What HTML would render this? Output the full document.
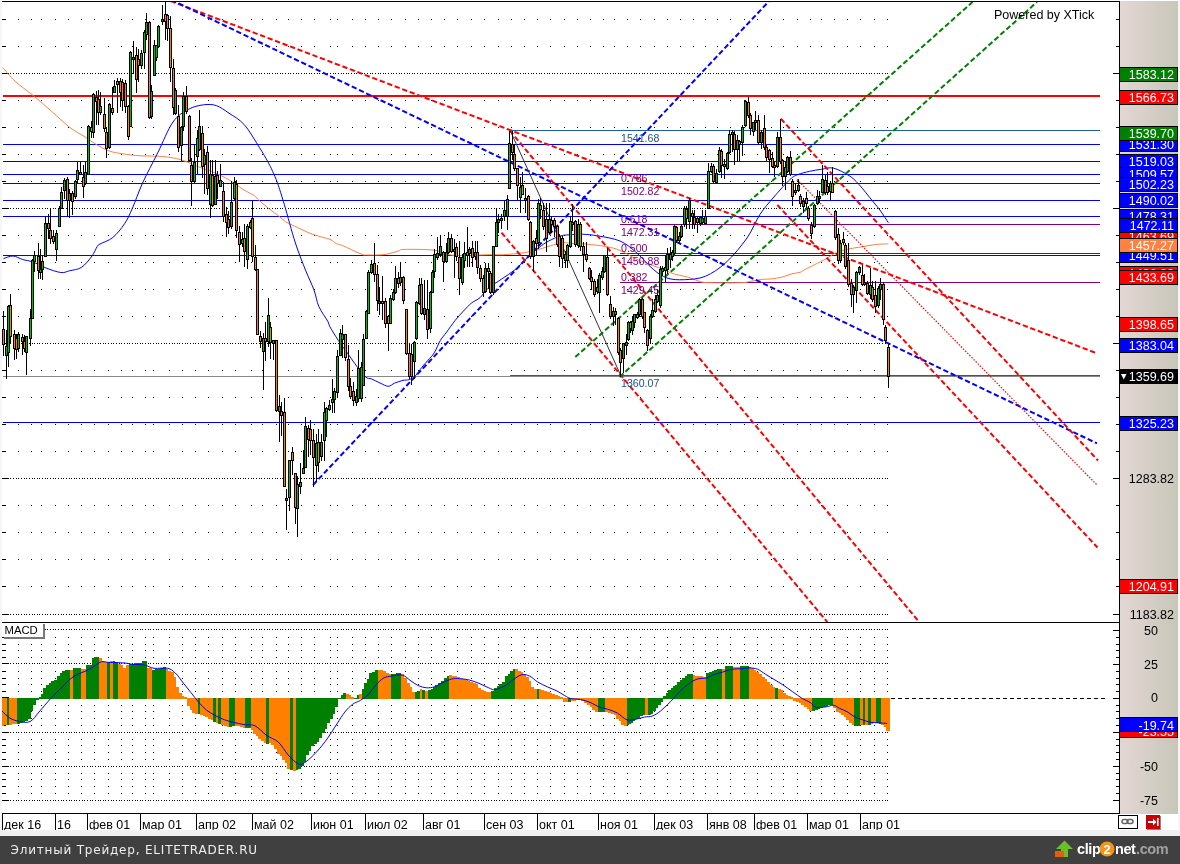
<!DOCTYPE html>
<html><head><meta charset="utf-8"><title>Chart</title>
<style>
html,body{margin:0;padding:0;background:#fff;}
body{width:1180px;height:864px;overflow:hidden;}
svg{display:block;}
text{font-family:"Liberation Sans","DejaVu Sans",sans-serif;}
</style></head><body>
<svg width="1180" height="864" viewBox="0 0 1180 864">
<defs><clipPath id="xclip"><rect x="0" y="814" width="1180" height="16"/></clipPath><clipPath id="mainclip"><rect x="2" y="2" width="1117" height="620"/></clipPath></defs>
<rect x="0" y="0" width="1180" height="864" fill="#ffffff"/>
<rect x="0" y="0" width="2" height="836" fill="#f6f6f6"/>
<rect x="1178" y="0" width="2" height="836" fill="#f6f6f6"/>
<rect x="0" y="830" width="1180" height="6" fill="#f0f0f0"/>
<rect x="0" y="836" width="1180" height="28" fill="#404040"/>
<defs><linearGradient id="pg" x1="0" x2="1" y1="0" y2="0"><stop offset="0" stop-color="#e3d7d4"/><stop offset="1" stop-color="#c8c6b9"/></linearGradient><linearGradient id="sh" x1="0" x2="0" y1="0" y2="1"><stop offset="0" stop-color="#555"/><stop offset="1" stop-color="#bbb"/></linearGradient></defs>
<rect x="1120" y="1" width="58" height="813" fill="url(#pg)"/>
<path d="M10 73h1v1h-1z M13 73h1v1h-1z M16 73h1v1h-1z M18 73h1v1h-1z M21 73h1v1h-1z M24 73h1v1h-1z M26 73h1v1h-1z M29 73h1v1h-1z M32 73h1v1h-1z M34 73h1v1h-1z M37 73h1v1h-1z M39 73h1v1h-1z M42 73h1v1h-1z M45 73h1v1h-1z M47 73h1v1h-1z M50 73h1v1h-1z M53 73h1v1h-1z M55 73h1v1h-1z M58 73h1v1h-1z M61 73h1v1h-1z M63 73h1v1h-1z M66 73h1v1h-1z M69 73h1v1h-1z M71 73h1v1h-1z M74 73h1v1h-1z M76 73h1v1h-1z M79 73h1v1h-1z M82 73h1v1h-1z M84 73h1v1h-1z M87 73h1v1h-1z M90 73h1v1h-1z M92 73h1v1h-1z M95 73h1v1h-1z M98 73h1v1h-1z M100 73h1v1h-1z M103 73h1v1h-1z M105 73h1v1h-1z M108 73h1v1h-1z M111 73h1v1h-1z M113 73h1v1h-1z M116 73h1v1h-1z M119 73h1v1h-1z M121 73h1v1h-1z M124 73h1v1h-1z M127 73h1v1h-1z M129 73h1v1h-1z M132 73h1v1h-1z M135 73h1v1h-1z M137 73h1v1h-1z M140 73h1v1h-1z M142 73h1v1h-1z M145 73h1v1h-1z M148 73h1v1h-1z M150 73h1v1h-1z M153 73h1v1h-1z M156 73h1v1h-1z M158 73h1v1h-1z M161 73h1v1h-1z M164 73h1v1h-1z M166 73h1v1h-1z M169 73h1v1h-1z M172 73h1v1h-1z M174 73h1v1h-1z M177 73h1v1h-1z M179 73h1v1h-1z M182 73h1v1h-1z M185 73h1v1h-1z M187 73h1v1h-1z M190 73h1v1h-1z M193 73h1v1h-1z M195 73h1v1h-1z M198 73h1v1h-1z M201 73h1v1h-1z M203 73h1v1h-1z M206 73h1v1h-1z M208 73h1v1h-1z M211 73h1v1h-1z M214 73h1v1h-1z M216 73h1v1h-1z M219 73h1v1h-1z M222 73h1v1h-1z M224 73h1v1h-1z M227 73h1v1h-1z M230 73h1v1h-1z M232 73h1v1h-1z M235 73h1v1h-1z M238 73h1v1h-1z M240 73h1v1h-1z M243 73h1v1h-1z M245 73h1v1h-1z M248 73h1v1h-1z M251 73h1v1h-1z M253 73h1v1h-1z M256 73h1v1h-1z M259 73h1v1h-1z M261 73h1v1h-1z M264 73h1v1h-1z M267 73h1v1h-1z M269 73h1v1h-1z M272 73h1v1h-1z M275 73h1v1h-1z M277 73h1v1h-1z M280 73h1v1h-1z M282 73h1v1h-1z M285 73h1v1h-1z M288 73h1v1h-1z M290 73h1v1h-1z M293 73h1v1h-1z M296 73h1v1h-1z M298 73h1v1h-1z M301 73h1v1h-1z M304 73h1v1h-1z M306 73h1v1h-1z M309 73h1v1h-1z M311 73h1v1h-1z M314 73h1v1h-1z M317 73h1v1h-1z M319 73h1v1h-1z M322 73h1v1h-1z M325 73h1v1h-1z M327 73h1v1h-1z M330 73h1v1h-1z M333 73h1v1h-1z M335 73h1v1h-1z M338 73h1v1h-1z M341 73h1v1h-1z M343 73h1v1h-1z M346 73h1v1h-1z M348 73h1v1h-1z M351 73h1v1h-1z M354 73h1v1h-1z M356 73h1v1h-1z M359 73h1v1h-1z M362 73h1v1h-1z M364 73h1v1h-1z M367 73h1v1h-1z M370 73h1v1h-1z M372 73h1v1h-1z M375 73h1v1h-1z M378 73h1v1h-1z M380 73h1v1h-1z M383 73h1v1h-1z M385 73h1v1h-1z M388 73h1v1h-1z M391 73h1v1h-1z M393 73h1v1h-1z M396 73h1v1h-1z M399 73h1v1h-1z M401 73h1v1h-1z M404 73h1v1h-1z M407 73h1v1h-1z M409 73h1v1h-1z M412 73h1v1h-1z M414 73h1v1h-1z M417 73h1v1h-1z M420 73h1v1h-1z M422 73h1v1h-1z M425 73h1v1h-1z M428 73h1v1h-1z M430 73h1v1h-1z M433 73h1v1h-1z M436 73h1v1h-1z M438 73h1v1h-1z M441 73h1v1h-1z M444 73h1v1h-1z M446 73h1v1h-1z M449 73h1v1h-1z M451 73h1v1h-1z M454 73h1v1h-1z M457 73h1v1h-1z M459 73h1v1h-1z M462 73h1v1h-1z M465 73h1v1h-1z M467 73h1v1h-1z M470 73h1v1h-1z M473 73h1v1h-1z M475 73h1v1h-1z M478 73h1v1h-1z M481 73h1v1h-1z M483 73h1v1h-1z M486 73h1v1h-1z M488 73h1v1h-1z M491 73h1v1h-1z M494 73h1v1h-1z M496 73h1v1h-1z M499 73h1v1h-1z M502 73h1v1h-1z M504 73h1v1h-1z M507 73h1v1h-1z M510 73h1v1h-1z M512 73h1v1h-1z M515 73h1v1h-1z M517 73h1v1h-1z M520 73h1v1h-1z M523 73h1v1h-1z M525 73h1v1h-1z M528 73h1v1h-1z M531 73h1v1h-1z M533 73h1v1h-1z M536 73h1v1h-1z M539 73h1v1h-1z M541 73h1v1h-1z M544 73h1v1h-1z M547 73h1v1h-1z M549 73h1v1h-1z M552 73h1v1h-1z M554 73h1v1h-1z M557 73h1v1h-1z M560 73h1v1h-1z M562 73h1v1h-1z M565 73h1v1h-1z M568 73h1v1h-1z M570 73h1v1h-1z M573 73h1v1h-1z M576 73h1v1h-1z M578 73h1v1h-1z M581 73h1v1h-1z M584 73h1v1h-1z M586 73h1v1h-1z M589 73h1v1h-1z M591 73h1v1h-1z M594 73h1v1h-1z M597 73h1v1h-1z M599 73h1v1h-1z M602 73h1v1h-1z M605 73h1v1h-1z M607 73h1v1h-1z M610 73h1v1h-1z M613 73h1v1h-1z M615 73h1v1h-1z M618 73h1v1h-1z M620 73h1v1h-1z M623 73h1v1h-1z M626 73h1v1h-1z M628 73h1v1h-1z M631 73h1v1h-1z M634 73h1v1h-1z M636 73h1v1h-1z M639 73h1v1h-1z M642 73h1v1h-1z M644 73h1v1h-1z M647 73h1v1h-1z M650 73h1v1h-1z M652 73h1v1h-1z M655 73h1v1h-1z M657 73h1v1h-1z M660 73h1v1h-1z M663 73h1v1h-1z M665 73h1v1h-1z M668 73h1v1h-1z M671 73h1v1h-1z M673 73h1v1h-1z M676 73h1v1h-1z M679 73h1v1h-1z M681 73h1v1h-1z M684 73h1v1h-1z M687 73h1v1h-1z M689 73h1v1h-1z M692 73h1v1h-1z M694 73h1v1h-1z M697 73h1v1h-1z M700 73h1v1h-1z M702 73h1v1h-1z M705 73h1v1h-1z M708 73h1v1h-1z M710 73h1v1h-1z M713 73h1v1h-1z M716 73h1v1h-1z M718 73h1v1h-1z M721 73h1v1h-1z M723 73h1v1h-1z M726 73h1v1h-1z M729 73h1v1h-1z M731 73h1v1h-1z M734 73h1v1h-1z M737 73h1v1h-1z M739 73h1v1h-1z M742 73h1v1h-1z M745 73h1v1h-1z M747 73h1v1h-1z M750 73h1v1h-1z M753 73h1v1h-1z M755 73h1v1h-1z M758 73h1v1h-1z M760 73h1v1h-1z M763 73h1v1h-1z M766 73h1v1h-1z M768 73h1v1h-1z M771 73h1v1h-1z M774 73h1v1h-1z M776 73h1v1h-1z M779 73h1v1h-1z M782 73h1v1h-1z M784 73h1v1h-1z M787 73h1v1h-1z M790 73h1v1h-1z M792 73h1v1h-1z M795 73h1v1h-1z M797 73h1v1h-1z M800 73h1v1h-1z M803 73h1v1h-1z M805 73h1v1h-1z M808 73h1v1h-1z M811 73h1v1h-1z M813 73h1v1h-1z M816 73h1v1h-1z M819 73h1v1h-1z M821 73h1v1h-1z M824 73h1v1h-1z M826 73h1v1h-1z M829 73h1v1h-1z M832 73h1v1h-1z M834 73h1v1h-1z M837 73h1v1h-1z M840 73h1v1h-1z M842 73h1v1h-1z M845 73h1v1h-1z M848 73h1v1h-1z M850 73h1v1h-1z M853 73h1v1h-1z M856 73h1v1h-1z M858 73h1v1h-1z M861 73h1v1h-1z M863 73h1v1h-1z M866 73h1v1h-1z M869 73h1v1h-1z M871 73h1v1h-1z M874 73h1v1h-1z M877 73h1v1h-1z M879 73h1v1h-1z M882 73h1v1h-1z M885 73h1v1h-1z M887 73h1v1h-1z M10 208h1v1h-1z M13 208h1v1h-1z M16 208h1v1h-1z M18 208h1v1h-1z M21 208h1v1h-1z M24 208h1v1h-1z M26 208h1v1h-1z M29 208h1v1h-1z M32 208h1v1h-1z M34 208h1v1h-1z M37 208h1v1h-1z M39 208h1v1h-1z M42 208h1v1h-1z M45 208h1v1h-1z M47 208h1v1h-1z M50 208h1v1h-1z M53 208h1v1h-1z M55 208h1v1h-1z M58 208h1v1h-1z M61 208h1v1h-1z M63 208h1v1h-1z M66 208h1v1h-1z M69 208h1v1h-1z M71 208h1v1h-1z M74 208h1v1h-1z M76 208h1v1h-1z M79 208h1v1h-1z M82 208h1v1h-1z M84 208h1v1h-1z M87 208h1v1h-1z M90 208h1v1h-1z M92 208h1v1h-1z M95 208h1v1h-1z M98 208h1v1h-1z M100 208h1v1h-1z M103 208h1v1h-1z M105 208h1v1h-1z M108 208h1v1h-1z M111 208h1v1h-1z M113 208h1v1h-1z M116 208h1v1h-1z M119 208h1v1h-1z M121 208h1v1h-1z M124 208h1v1h-1z M127 208h1v1h-1z M129 208h1v1h-1z M132 208h1v1h-1z M135 208h1v1h-1z M137 208h1v1h-1z M140 208h1v1h-1z M142 208h1v1h-1z M145 208h1v1h-1z M148 208h1v1h-1z M150 208h1v1h-1z M153 208h1v1h-1z M156 208h1v1h-1z M158 208h1v1h-1z M161 208h1v1h-1z M164 208h1v1h-1z M166 208h1v1h-1z M169 208h1v1h-1z M172 208h1v1h-1z M174 208h1v1h-1z M177 208h1v1h-1z M179 208h1v1h-1z M182 208h1v1h-1z M185 208h1v1h-1z M187 208h1v1h-1z M190 208h1v1h-1z M193 208h1v1h-1z M195 208h1v1h-1z M198 208h1v1h-1z M201 208h1v1h-1z M203 208h1v1h-1z M206 208h1v1h-1z M208 208h1v1h-1z M211 208h1v1h-1z M214 208h1v1h-1z M216 208h1v1h-1z M219 208h1v1h-1z M222 208h1v1h-1z M224 208h1v1h-1z M227 208h1v1h-1z M230 208h1v1h-1z M232 208h1v1h-1z M235 208h1v1h-1z M238 208h1v1h-1z M240 208h1v1h-1z M243 208h1v1h-1z M245 208h1v1h-1z M248 208h1v1h-1z M251 208h1v1h-1z M253 208h1v1h-1z M256 208h1v1h-1z M259 208h1v1h-1z M261 208h1v1h-1z M264 208h1v1h-1z M267 208h1v1h-1z M269 208h1v1h-1z M272 208h1v1h-1z M275 208h1v1h-1z M277 208h1v1h-1z M280 208h1v1h-1z M282 208h1v1h-1z M285 208h1v1h-1z M288 208h1v1h-1z M290 208h1v1h-1z M293 208h1v1h-1z M296 208h1v1h-1z M298 208h1v1h-1z M301 208h1v1h-1z M304 208h1v1h-1z M306 208h1v1h-1z M309 208h1v1h-1z M311 208h1v1h-1z M314 208h1v1h-1z M317 208h1v1h-1z M319 208h1v1h-1z M322 208h1v1h-1z M325 208h1v1h-1z M327 208h1v1h-1z M330 208h1v1h-1z M333 208h1v1h-1z M335 208h1v1h-1z M338 208h1v1h-1z M341 208h1v1h-1z M343 208h1v1h-1z M346 208h1v1h-1z M348 208h1v1h-1z M351 208h1v1h-1z M354 208h1v1h-1z M356 208h1v1h-1z M359 208h1v1h-1z M362 208h1v1h-1z M364 208h1v1h-1z M367 208h1v1h-1z M370 208h1v1h-1z M372 208h1v1h-1z M375 208h1v1h-1z M378 208h1v1h-1z M380 208h1v1h-1z M383 208h1v1h-1z M385 208h1v1h-1z M388 208h1v1h-1z M391 208h1v1h-1z M393 208h1v1h-1z M396 208h1v1h-1z M399 208h1v1h-1z M401 208h1v1h-1z M404 208h1v1h-1z M407 208h1v1h-1z M409 208h1v1h-1z M412 208h1v1h-1z M414 208h1v1h-1z M417 208h1v1h-1z M420 208h1v1h-1z M422 208h1v1h-1z M425 208h1v1h-1z M428 208h1v1h-1z M430 208h1v1h-1z M433 208h1v1h-1z M436 208h1v1h-1z M438 208h1v1h-1z M441 208h1v1h-1z M444 208h1v1h-1z M446 208h1v1h-1z M449 208h1v1h-1z M451 208h1v1h-1z M454 208h1v1h-1z M457 208h1v1h-1z M459 208h1v1h-1z M462 208h1v1h-1z M465 208h1v1h-1z M467 208h1v1h-1z M470 208h1v1h-1z M473 208h1v1h-1z M475 208h1v1h-1z M478 208h1v1h-1z M481 208h1v1h-1z M483 208h1v1h-1z M486 208h1v1h-1z M488 208h1v1h-1z M491 208h1v1h-1z M494 208h1v1h-1z M496 208h1v1h-1z M499 208h1v1h-1z M502 208h1v1h-1z M504 208h1v1h-1z M507 208h1v1h-1z M510 208h1v1h-1z M512 208h1v1h-1z M515 208h1v1h-1z M517 208h1v1h-1z M520 208h1v1h-1z M523 208h1v1h-1z M525 208h1v1h-1z M528 208h1v1h-1z M531 208h1v1h-1z M533 208h1v1h-1z M536 208h1v1h-1z M539 208h1v1h-1z M541 208h1v1h-1z M544 208h1v1h-1z M547 208h1v1h-1z M549 208h1v1h-1z M552 208h1v1h-1z M554 208h1v1h-1z M557 208h1v1h-1z M560 208h1v1h-1z M562 208h1v1h-1z M565 208h1v1h-1z M568 208h1v1h-1z M570 208h1v1h-1z M573 208h1v1h-1z M576 208h1v1h-1z M578 208h1v1h-1z M581 208h1v1h-1z M584 208h1v1h-1z M586 208h1v1h-1z M589 208h1v1h-1z M591 208h1v1h-1z M594 208h1v1h-1z M597 208h1v1h-1z M599 208h1v1h-1z M602 208h1v1h-1z M605 208h1v1h-1z M607 208h1v1h-1z M610 208h1v1h-1z M613 208h1v1h-1z M615 208h1v1h-1z M618 208h1v1h-1z M620 208h1v1h-1z M623 208h1v1h-1z M626 208h1v1h-1z M628 208h1v1h-1z M631 208h1v1h-1z M634 208h1v1h-1z M636 208h1v1h-1z M639 208h1v1h-1z M642 208h1v1h-1z M644 208h1v1h-1z M647 208h1v1h-1z M650 208h1v1h-1z M652 208h1v1h-1z M655 208h1v1h-1z M657 208h1v1h-1z M660 208h1v1h-1z M663 208h1v1h-1z M665 208h1v1h-1z M668 208h1v1h-1z M671 208h1v1h-1z M673 208h1v1h-1z M676 208h1v1h-1z M679 208h1v1h-1z M681 208h1v1h-1z M684 208h1v1h-1z M687 208h1v1h-1z M689 208h1v1h-1z M692 208h1v1h-1z M694 208h1v1h-1z M697 208h1v1h-1z M700 208h1v1h-1z M702 208h1v1h-1z M705 208h1v1h-1z M708 208h1v1h-1z M710 208h1v1h-1z M713 208h1v1h-1z M716 208h1v1h-1z M718 208h1v1h-1z M721 208h1v1h-1z M723 208h1v1h-1z M726 208h1v1h-1z M729 208h1v1h-1z M731 208h1v1h-1z M734 208h1v1h-1z M737 208h1v1h-1z M739 208h1v1h-1z M742 208h1v1h-1z M745 208h1v1h-1z M747 208h1v1h-1z M750 208h1v1h-1z M753 208h1v1h-1z M755 208h1v1h-1z M758 208h1v1h-1z M760 208h1v1h-1z M763 208h1v1h-1z M766 208h1v1h-1z M768 208h1v1h-1z M771 208h1v1h-1z M774 208h1v1h-1z M776 208h1v1h-1z M779 208h1v1h-1z M782 208h1v1h-1z M784 208h1v1h-1z M787 208h1v1h-1z M790 208h1v1h-1z M792 208h1v1h-1z M795 208h1v1h-1z M797 208h1v1h-1z M800 208h1v1h-1z M803 208h1v1h-1z M805 208h1v1h-1z M808 208h1v1h-1z M811 208h1v1h-1z M813 208h1v1h-1z M816 208h1v1h-1z M819 208h1v1h-1z M821 208h1v1h-1z M824 208h1v1h-1z M826 208h1v1h-1z M829 208h1v1h-1z M832 208h1v1h-1z M834 208h1v1h-1z M837 208h1v1h-1z M840 208h1v1h-1z M842 208h1v1h-1z M845 208h1v1h-1z M848 208h1v1h-1z M850 208h1v1h-1z M853 208h1v1h-1z M856 208h1v1h-1z M858 208h1v1h-1z M861 208h1v1h-1z M863 208h1v1h-1z M866 208h1v1h-1z M869 208h1v1h-1z M871 208h1v1h-1z M874 208h1v1h-1z M877 208h1v1h-1z M879 208h1v1h-1z M882 208h1v1h-1z M885 208h1v1h-1z M887 208h1v1h-1z M10 343h1v1h-1z M13 343h1v1h-1z M16 343h1v1h-1z M18 343h1v1h-1z M21 343h1v1h-1z M24 343h1v1h-1z M26 343h1v1h-1z M29 343h1v1h-1z M32 343h1v1h-1z M34 343h1v1h-1z M37 343h1v1h-1z M39 343h1v1h-1z M42 343h1v1h-1z M45 343h1v1h-1z M47 343h1v1h-1z M50 343h1v1h-1z M53 343h1v1h-1z M55 343h1v1h-1z M58 343h1v1h-1z M61 343h1v1h-1z M63 343h1v1h-1z M66 343h1v1h-1z M69 343h1v1h-1z M71 343h1v1h-1z M74 343h1v1h-1z M76 343h1v1h-1z M79 343h1v1h-1z M82 343h1v1h-1z M84 343h1v1h-1z M87 343h1v1h-1z M90 343h1v1h-1z M92 343h1v1h-1z M95 343h1v1h-1z M98 343h1v1h-1z M100 343h1v1h-1z M103 343h1v1h-1z M105 343h1v1h-1z M108 343h1v1h-1z M111 343h1v1h-1z M113 343h1v1h-1z M116 343h1v1h-1z M119 343h1v1h-1z M121 343h1v1h-1z M124 343h1v1h-1z M127 343h1v1h-1z M129 343h1v1h-1z M132 343h1v1h-1z M135 343h1v1h-1z M137 343h1v1h-1z M140 343h1v1h-1z M142 343h1v1h-1z M145 343h1v1h-1z M148 343h1v1h-1z M150 343h1v1h-1z M153 343h1v1h-1z M156 343h1v1h-1z M158 343h1v1h-1z M161 343h1v1h-1z M164 343h1v1h-1z M166 343h1v1h-1z M169 343h1v1h-1z M172 343h1v1h-1z M174 343h1v1h-1z M177 343h1v1h-1z M179 343h1v1h-1z M182 343h1v1h-1z M185 343h1v1h-1z M187 343h1v1h-1z M190 343h1v1h-1z M193 343h1v1h-1z M195 343h1v1h-1z M198 343h1v1h-1z M201 343h1v1h-1z M203 343h1v1h-1z M206 343h1v1h-1z M208 343h1v1h-1z M211 343h1v1h-1z M214 343h1v1h-1z M216 343h1v1h-1z M219 343h1v1h-1z M222 343h1v1h-1z M224 343h1v1h-1z M227 343h1v1h-1z M230 343h1v1h-1z M232 343h1v1h-1z M235 343h1v1h-1z M238 343h1v1h-1z M240 343h1v1h-1z M243 343h1v1h-1z M245 343h1v1h-1z M248 343h1v1h-1z M251 343h1v1h-1z M253 343h1v1h-1z M256 343h1v1h-1z M259 343h1v1h-1z M261 343h1v1h-1z M264 343h1v1h-1z M267 343h1v1h-1z M269 343h1v1h-1z M272 343h1v1h-1z M275 343h1v1h-1z M277 343h1v1h-1z M280 343h1v1h-1z M282 343h1v1h-1z M285 343h1v1h-1z M288 343h1v1h-1z M290 343h1v1h-1z M293 343h1v1h-1z M296 343h1v1h-1z M298 343h1v1h-1z M301 343h1v1h-1z M304 343h1v1h-1z M306 343h1v1h-1z M309 343h1v1h-1z M311 343h1v1h-1z M314 343h1v1h-1z M317 343h1v1h-1z M319 343h1v1h-1z M322 343h1v1h-1z M325 343h1v1h-1z M327 343h1v1h-1z M330 343h1v1h-1z M333 343h1v1h-1z M335 343h1v1h-1z M338 343h1v1h-1z M341 343h1v1h-1z M343 343h1v1h-1z M346 343h1v1h-1z M348 343h1v1h-1z M351 343h1v1h-1z M354 343h1v1h-1z M356 343h1v1h-1z M359 343h1v1h-1z M362 343h1v1h-1z M364 343h1v1h-1z M367 343h1v1h-1z M370 343h1v1h-1z M372 343h1v1h-1z M375 343h1v1h-1z M378 343h1v1h-1z M380 343h1v1h-1z M383 343h1v1h-1z M385 343h1v1h-1z M388 343h1v1h-1z M391 343h1v1h-1z M393 343h1v1h-1z M396 343h1v1h-1z M399 343h1v1h-1z M401 343h1v1h-1z M404 343h1v1h-1z M407 343h1v1h-1z M409 343h1v1h-1z M412 343h1v1h-1z M414 343h1v1h-1z M417 343h1v1h-1z M420 343h1v1h-1z M422 343h1v1h-1z M425 343h1v1h-1z M428 343h1v1h-1z M430 343h1v1h-1z M433 343h1v1h-1z M436 343h1v1h-1z M438 343h1v1h-1z M441 343h1v1h-1z M444 343h1v1h-1z M446 343h1v1h-1z M449 343h1v1h-1z M451 343h1v1h-1z M454 343h1v1h-1z M457 343h1v1h-1z M459 343h1v1h-1z M462 343h1v1h-1z M465 343h1v1h-1z M467 343h1v1h-1z M470 343h1v1h-1z M473 343h1v1h-1z M475 343h1v1h-1z M478 343h1v1h-1z M481 343h1v1h-1z M483 343h1v1h-1z M486 343h1v1h-1z M488 343h1v1h-1z M491 343h1v1h-1z M494 343h1v1h-1z M496 343h1v1h-1z M499 343h1v1h-1z M502 343h1v1h-1z M504 343h1v1h-1z M507 343h1v1h-1z M510 343h1v1h-1z M512 343h1v1h-1z M515 343h1v1h-1z M517 343h1v1h-1z M520 343h1v1h-1z M523 343h1v1h-1z M525 343h1v1h-1z M528 343h1v1h-1z M531 343h1v1h-1z M533 343h1v1h-1z M536 343h1v1h-1z M539 343h1v1h-1z M541 343h1v1h-1z M544 343h1v1h-1z M547 343h1v1h-1z M549 343h1v1h-1z M552 343h1v1h-1z M554 343h1v1h-1z M557 343h1v1h-1z M560 343h1v1h-1z M562 343h1v1h-1z M565 343h1v1h-1z M568 343h1v1h-1z M570 343h1v1h-1z M573 343h1v1h-1z M576 343h1v1h-1z M578 343h1v1h-1z M581 343h1v1h-1z M584 343h1v1h-1z M586 343h1v1h-1z M589 343h1v1h-1z M591 343h1v1h-1z M594 343h1v1h-1z M597 343h1v1h-1z M599 343h1v1h-1z M602 343h1v1h-1z M605 343h1v1h-1z M607 343h1v1h-1z M610 343h1v1h-1z M613 343h1v1h-1z M615 343h1v1h-1z M618 343h1v1h-1z M620 343h1v1h-1z M623 343h1v1h-1z M626 343h1v1h-1z M628 343h1v1h-1z M631 343h1v1h-1z M634 343h1v1h-1z M636 343h1v1h-1z M639 343h1v1h-1z M642 343h1v1h-1z M644 343h1v1h-1z M647 343h1v1h-1z M650 343h1v1h-1z M652 343h1v1h-1z M655 343h1v1h-1z M657 343h1v1h-1z M660 343h1v1h-1z M663 343h1v1h-1z M665 343h1v1h-1z M668 343h1v1h-1z M671 343h1v1h-1z M673 343h1v1h-1z M676 343h1v1h-1z M679 343h1v1h-1z M681 343h1v1h-1z M684 343h1v1h-1z M687 343h1v1h-1z M689 343h1v1h-1z M692 343h1v1h-1z M694 343h1v1h-1z M697 343h1v1h-1z M700 343h1v1h-1z M702 343h1v1h-1z M705 343h1v1h-1z M708 343h1v1h-1z M710 343h1v1h-1z M713 343h1v1h-1z M716 343h1v1h-1z M718 343h1v1h-1z M721 343h1v1h-1z M723 343h1v1h-1z M726 343h1v1h-1z M729 343h1v1h-1z M731 343h1v1h-1z M734 343h1v1h-1z M737 343h1v1h-1z M739 343h1v1h-1z M742 343h1v1h-1z M745 343h1v1h-1z M747 343h1v1h-1z M750 343h1v1h-1z M753 343h1v1h-1z M755 343h1v1h-1z M758 343h1v1h-1z M760 343h1v1h-1z M763 343h1v1h-1z M766 343h1v1h-1z M768 343h1v1h-1z M771 343h1v1h-1z M774 343h1v1h-1z M776 343h1v1h-1z M779 343h1v1h-1z M782 343h1v1h-1z M784 343h1v1h-1z M787 343h1v1h-1z M790 343h1v1h-1z M792 343h1v1h-1z M795 343h1v1h-1z M797 343h1v1h-1z M800 343h1v1h-1z M803 343h1v1h-1z M805 343h1v1h-1z M808 343h1v1h-1z M811 343h1v1h-1z M813 343h1v1h-1z M816 343h1v1h-1z M819 343h1v1h-1z M821 343h1v1h-1z M824 343h1v1h-1z M826 343h1v1h-1z M829 343h1v1h-1z M832 343h1v1h-1z M834 343h1v1h-1z M837 343h1v1h-1z M840 343h1v1h-1z M842 343h1v1h-1z M845 343h1v1h-1z M848 343h1v1h-1z M850 343h1v1h-1z M853 343h1v1h-1z M856 343h1v1h-1z M858 343h1v1h-1z M861 343h1v1h-1z M863 343h1v1h-1z M866 343h1v1h-1z M869 343h1v1h-1z M871 343h1v1h-1z M874 343h1v1h-1z M877 343h1v1h-1z M879 343h1v1h-1z M882 343h1v1h-1z M885 343h1v1h-1z M887 343h1v1h-1z M10 478h1v1h-1z M13 478h1v1h-1z M16 478h1v1h-1z M18 478h1v1h-1z M21 478h1v1h-1z M24 478h1v1h-1z M26 478h1v1h-1z M29 478h1v1h-1z M32 478h1v1h-1z M34 478h1v1h-1z M37 478h1v1h-1z M39 478h1v1h-1z M42 478h1v1h-1z M45 478h1v1h-1z M47 478h1v1h-1z M50 478h1v1h-1z M53 478h1v1h-1z M55 478h1v1h-1z M58 478h1v1h-1z M61 478h1v1h-1z M63 478h1v1h-1z M66 478h1v1h-1z M69 478h1v1h-1z M71 478h1v1h-1z M74 478h1v1h-1z M76 478h1v1h-1z M79 478h1v1h-1z M82 478h1v1h-1z M84 478h1v1h-1z M87 478h1v1h-1z M90 478h1v1h-1z M92 478h1v1h-1z M95 478h1v1h-1z M98 478h1v1h-1z M100 478h1v1h-1z M103 478h1v1h-1z M105 478h1v1h-1z M108 478h1v1h-1z M111 478h1v1h-1z M113 478h1v1h-1z M116 478h1v1h-1z M119 478h1v1h-1z M121 478h1v1h-1z M124 478h1v1h-1z M127 478h1v1h-1z M129 478h1v1h-1z M132 478h1v1h-1z M135 478h1v1h-1z M137 478h1v1h-1z M140 478h1v1h-1z M142 478h1v1h-1z M145 478h1v1h-1z M148 478h1v1h-1z M150 478h1v1h-1z M153 478h1v1h-1z M156 478h1v1h-1z M158 478h1v1h-1z M161 478h1v1h-1z M164 478h1v1h-1z M166 478h1v1h-1z M169 478h1v1h-1z M172 478h1v1h-1z M174 478h1v1h-1z M177 478h1v1h-1z M179 478h1v1h-1z M182 478h1v1h-1z M185 478h1v1h-1z M187 478h1v1h-1z M190 478h1v1h-1z M193 478h1v1h-1z M195 478h1v1h-1z M198 478h1v1h-1z M201 478h1v1h-1z M203 478h1v1h-1z M206 478h1v1h-1z M208 478h1v1h-1z M211 478h1v1h-1z M214 478h1v1h-1z M216 478h1v1h-1z M219 478h1v1h-1z M222 478h1v1h-1z M224 478h1v1h-1z M227 478h1v1h-1z M230 478h1v1h-1z M232 478h1v1h-1z M235 478h1v1h-1z M238 478h1v1h-1z M240 478h1v1h-1z M243 478h1v1h-1z M245 478h1v1h-1z M248 478h1v1h-1z M251 478h1v1h-1z M253 478h1v1h-1z M256 478h1v1h-1z M259 478h1v1h-1z M261 478h1v1h-1z M264 478h1v1h-1z M267 478h1v1h-1z M269 478h1v1h-1z M272 478h1v1h-1z M275 478h1v1h-1z M277 478h1v1h-1z M280 478h1v1h-1z M282 478h1v1h-1z M285 478h1v1h-1z M288 478h1v1h-1z M290 478h1v1h-1z M293 478h1v1h-1z M296 478h1v1h-1z M298 478h1v1h-1z M301 478h1v1h-1z M304 478h1v1h-1z M306 478h1v1h-1z M309 478h1v1h-1z M311 478h1v1h-1z M314 478h1v1h-1z M317 478h1v1h-1z M319 478h1v1h-1z M322 478h1v1h-1z M325 478h1v1h-1z M327 478h1v1h-1z M330 478h1v1h-1z M333 478h1v1h-1z M335 478h1v1h-1z M338 478h1v1h-1z M341 478h1v1h-1z M343 478h1v1h-1z M346 478h1v1h-1z M348 478h1v1h-1z M351 478h1v1h-1z M354 478h1v1h-1z M356 478h1v1h-1z M359 478h1v1h-1z M362 478h1v1h-1z M364 478h1v1h-1z M367 478h1v1h-1z M370 478h1v1h-1z M372 478h1v1h-1z M375 478h1v1h-1z M378 478h1v1h-1z M380 478h1v1h-1z M383 478h1v1h-1z M385 478h1v1h-1z M388 478h1v1h-1z M391 478h1v1h-1z M393 478h1v1h-1z M396 478h1v1h-1z M399 478h1v1h-1z M401 478h1v1h-1z M404 478h1v1h-1z M407 478h1v1h-1z M409 478h1v1h-1z M412 478h1v1h-1z M414 478h1v1h-1z M417 478h1v1h-1z M420 478h1v1h-1z M422 478h1v1h-1z M425 478h1v1h-1z M428 478h1v1h-1z M430 478h1v1h-1z M433 478h1v1h-1z M436 478h1v1h-1z M438 478h1v1h-1z M441 478h1v1h-1z M444 478h1v1h-1z M446 478h1v1h-1z M449 478h1v1h-1z M451 478h1v1h-1z M454 478h1v1h-1z M457 478h1v1h-1z M459 478h1v1h-1z M462 478h1v1h-1z M465 478h1v1h-1z M467 478h1v1h-1z M470 478h1v1h-1z M473 478h1v1h-1z M475 478h1v1h-1z M478 478h1v1h-1z M481 478h1v1h-1z M483 478h1v1h-1z M486 478h1v1h-1z M488 478h1v1h-1z M491 478h1v1h-1z M494 478h1v1h-1z M496 478h1v1h-1z M499 478h1v1h-1z M502 478h1v1h-1z M504 478h1v1h-1z M507 478h1v1h-1z M510 478h1v1h-1z M512 478h1v1h-1z M515 478h1v1h-1z M517 478h1v1h-1z M520 478h1v1h-1z M523 478h1v1h-1z M525 478h1v1h-1z M528 478h1v1h-1z M531 478h1v1h-1z M533 478h1v1h-1z M536 478h1v1h-1z M539 478h1v1h-1z M541 478h1v1h-1z M544 478h1v1h-1z M547 478h1v1h-1z M549 478h1v1h-1z M552 478h1v1h-1z M554 478h1v1h-1z M557 478h1v1h-1z M560 478h1v1h-1z M562 478h1v1h-1z M565 478h1v1h-1z M568 478h1v1h-1z M570 478h1v1h-1z M573 478h1v1h-1z M576 478h1v1h-1z M578 478h1v1h-1z M581 478h1v1h-1z M584 478h1v1h-1z M586 478h1v1h-1z M589 478h1v1h-1z M591 478h1v1h-1z M594 478h1v1h-1z M597 478h1v1h-1z M599 478h1v1h-1z M602 478h1v1h-1z M605 478h1v1h-1z M607 478h1v1h-1z M610 478h1v1h-1z M613 478h1v1h-1z M615 478h1v1h-1z M618 478h1v1h-1z M620 478h1v1h-1z M623 478h1v1h-1z M626 478h1v1h-1z M628 478h1v1h-1z M631 478h1v1h-1z M634 478h1v1h-1z M636 478h1v1h-1z M639 478h1v1h-1z M642 478h1v1h-1z M644 478h1v1h-1z M647 478h1v1h-1z M650 478h1v1h-1z M652 478h1v1h-1z M655 478h1v1h-1z M657 478h1v1h-1z M660 478h1v1h-1z M663 478h1v1h-1z M665 478h1v1h-1z M668 478h1v1h-1z M671 478h1v1h-1z M673 478h1v1h-1z M676 478h1v1h-1z M679 478h1v1h-1z M681 478h1v1h-1z M684 478h1v1h-1z M687 478h1v1h-1z M689 478h1v1h-1z M692 478h1v1h-1z M694 478h1v1h-1z M697 478h1v1h-1z M700 478h1v1h-1z M702 478h1v1h-1z M705 478h1v1h-1z M708 478h1v1h-1z M710 478h1v1h-1z M713 478h1v1h-1z M716 478h1v1h-1z M718 478h1v1h-1z M721 478h1v1h-1z M723 478h1v1h-1z M726 478h1v1h-1z M729 478h1v1h-1z M731 478h1v1h-1z M734 478h1v1h-1z M737 478h1v1h-1z M739 478h1v1h-1z M742 478h1v1h-1z M745 478h1v1h-1z M747 478h1v1h-1z M750 478h1v1h-1z M753 478h1v1h-1z M755 478h1v1h-1z M758 478h1v1h-1z M760 478h1v1h-1z M763 478h1v1h-1z M766 478h1v1h-1z M768 478h1v1h-1z M771 478h1v1h-1z M774 478h1v1h-1z M776 478h1v1h-1z M779 478h1v1h-1z M782 478h1v1h-1z M784 478h1v1h-1z M787 478h1v1h-1z M790 478h1v1h-1z M792 478h1v1h-1z M795 478h1v1h-1z M797 478h1v1h-1z M800 478h1v1h-1z M803 478h1v1h-1z M805 478h1v1h-1z M808 478h1v1h-1z M811 478h1v1h-1z M813 478h1v1h-1z M816 478h1v1h-1z M819 478h1v1h-1z M821 478h1v1h-1z M824 478h1v1h-1z M826 478h1v1h-1z M829 478h1v1h-1z M832 478h1v1h-1z M834 478h1v1h-1z M837 478h1v1h-1z M840 478h1v1h-1z M842 478h1v1h-1z M845 478h1v1h-1z M848 478h1v1h-1z M850 478h1v1h-1z M853 478h1v1h-1z M856 478h1v1h-1z M858 478h1v1h-1z M861 478h1v1h-1z M863 478h1v1h-1z M866 478h1v1h-1z M869 478h1v1h-1z M871 478h1v1h-1z M874 478h1v1h-1z M877 478h1v1h-1z M879 478h1v1h-1z M882 478h1v1h-1z M885 478h1v1h-1z M887 478h1v1h-1z M18 19h1v1h-1z M31 19h1v1h-1z M41 19h1v1h-1z M55 19h1v1h-1z M68 19h1v1h-1z M81 19h1v1h-1z M94 19h1v1h-1z M108 19h1v1h-1z M121 19h1v1h-1z M132 19h1v1h-1z M145 19h1v1h-1z M153 19h1v1h-1z M169 19h1v1h-1z M182 19h1v1h-1z M195 19h1v1h-1z M208 19h1v1h-1z M222 19h1v1h-1z M235 19h1v1h-1z M251 19h1v1h-1z M262 19h1v1h-1z M276 19h1v1h-1z M288 19h1v1h-1z M301 19h1v1h-1z M314 19h1v1h-1z M330 19h1v1h-1z M337 19h1v1h-1z M352 19h1v1h-1z M365 19h1v1h-1z M378 19h1v1h-1z M391 19h1v1h-1z M405 19h1v1h-1z M418 19h1v1h-1z M431 19h1v1h-1z M444 19h1v1h-1z M457 19h1v1h-1z M471 19h1v1h-1z M484 19h1v1h-1z M498 19h1v1h-1z M511 19h1v1h-1z M524 19h1v1h-1z M537 19h1v1h-1z M550 19h1v1h-1z M564 19h1v1h-1z M577 19h1v1h-1z M590 19h1v1h-1z M603 19h1v1h-1z M614 19h1v1h-1z M627 19h1v1h-1z M640 19h1v1h-1z M654 19h1v1h-1z M667 19h1v1h-1z M680 19h1v1h-1z M693 19h1v1h-1z M705 19h1v1h-1z M717 19h1v1h-1z M730 19h1v1h-1z M744 19h1v1h-1z M757 19h1v1h-1z M771 19h1v1h-1z M783 19h1v1h-1z M797 19h1v1h-1z M810 19h1v1h-1z M821 19h1v1h-1z M834 19h1v1h-1z M847 19h1v1h-1z M860 19h1v1h-1z M874 19h1v1h-1z M887 19h1v1h-1z M18 46h1v1h-1z M31 46h1v1h-1z M41 46h1v1h-1z M55 46h1v1h-1z M68 46h1v1h-1z M81 46h1v1h-1z M94 46h1v1h-1z M108 46h1v1h-1z M121 46h1v1h-1z M132 46h1v1h-1z M145 46h1v1h-1z M153 46h1v1h-1z M169 46h1v1h-1z M182 46h1v1h-1z M195 46h1v1h-1z M208 46h1v1h-1z M222 46h1v1h-1z M235 46h1v1h-1z M251 46h1v1h-1z M262 46h1v1h-1z M276 46h1v1h-1z M288 46h1v1h-1z M301 46h1v1h-1z M314 46h1v1h-1z M330 46h1v1h-1z M337 46h1v1h-1z M352 46h1v1h-1z M365 46h1v1h-1z M378 46h1v1h-1z M391 46h1v1h-1z M405 46h1v1h-1z M418 46h1v1h-1z M431 46h1v1h-1z M444 46h1v1h-1z M457 46h1v1h-1z M471 46h1v1h-1z M484 46h1v1h-1z M498 46h1v1h-1z M511 46h1v1h-1z M524 46h1v1h-1z M537 46h1v1h-1z M550 46h1v1h-1z M564 46h1v1h-1z M577 46h1v1h-1z M590 46h1v1h-1z M603 46h1v1h-1z M614 46h1v1h-1z M627 46h1v1h-1z M640 46h1v1h-1z M654 46h1v1h-1z M667 46h1v1h-1z M680 46h1v1h-1z M693 46h1v1h-1z M705 46h1v1h-1z M717 46h1v1h-1z M730 46h1v1h-1z M744 46h1v1h-1z M757 46h1v1h-1z M771 46h1v1h-1z M783 46h1v1h-1z M797 46h1v1h-1z M810 46h1v1h-1z M821 46h1v1h-1z M834 46h1v1h-1z M847 46h1v1h-1z M860 46h1v1h-1z M874 46h1v1h-1z M887 46h1v1h-1z M18 100h1v1h-1z M31 100h1v1h-1z M41 100h1v1h-1z M55 100h1v1h-1z M68 100h1v1h-1z M81 100h1v1h-1z M94 100h1v1h-1z M108 100h1v1h-1z M121 100h1v1h-1z M132 100h1v1h-1z M145 100h1v1h-1z M153 100h1v1h-1z M169 100h1v1h-1z M182 100h1v1h-1z M195 100h1v1h-1z M208 100h1v1h-1z M222 100h1v1h-1z M235 100h1v1h-1z M251 100h1v1h-1z M262 100h1v1h-1z M276 100h1v1h-1z M288 100h1v1h-1z M301 100h1v1h-1z M314 100h1v1h-1z M330 100h1v1h-1z M337 100h1v1h-1z M352 100h1v1h-1z M365 100h1v1h-1z M378 100h1v1h-1z M391 100h1v1h-1z M405 100h1v1h-1z M418 100h1v1h-1z M431 100h1v1h-1z M444 100h1v1h-1z M457 100h1v1h-1z M471 100h1v1h-1z M484 100h1v1h-1z M498 100h1v1h-1z M511 100h1v1h-1z M524 100h1v1h-1z M537 100h1v1h-1z M550 100h1v1h-1z M564 100h1v1h-1z M577 100h1v1h-1z M590 100h1v1h-1z M603 100h1v1h-1z M614 100h1v1h-1z M627 100h1v1h-1z M640 100h1v1h-1z M654 100h1v1h-1z M667 100h1v1h-1z M680 100h1v1h-1z M693 100h1v1h-1z M705 100h1v1h-1z M717 100h1v1h-1z M730 100h1v1h-1z M744 100h1v1h-1z M757 100h1v1h-1z M771 100h1v1h-1z M783 100h1v1h-1z M797 100h1v1h-1z M810 100h1v1h-1z M821 100h1v1h-1z M834 100h1v1h-1z M847 100h1v1h-1z M860 100h1v1h-1z M874 100h1v1h-1z M887 100h1v1h-1z M18 127h1v1h-1z M31 127h1v1h-1z M41 127h1v1h-1z M55 127h1v1h-1z M68 127h1v1h-1z M81 127h1v1h-1z M94 127h1v1h-1z M108 127h1v1h-1z M121 127h1v1h-1z M132 127h1v1h-1z M145 127h1v1h-1z M153 127h1v1h-1z M169 127h1v1h-1z M182 127h1v1h-1z M195 127h1v1h-1z M208 127h1v1h-1z M222 127h1v1h-1z M235 127h1v1h-1z M251 127h1v1h-1z M262 127h1v1h-1z M276 127h1v1h-1z M288 127h1v1h-1z M301 127h1v1h-1z M314 127h1v1h-1z M330 127h1v1h-1z M337 127h1v1h-1z M352 127h1v1h-1z M365 127h1v1h-1z M378 127h1v1h-1z M391 127h1v1h-1z M405 127h1v1h-1z M418 127h1v1h-1z M431 127h1v1h-1z M444 127h1v1h-1z M457 127h1v1h-1z M471 127h1v1h-1z M484 127h1v1h-1z M498 127h1v1h-1z M511 127h1v1h-1z M524 127h1v1h-1z M537 127h1v1h-1z M550 127h1v1h-1z M564 127h1v1h-1z M577 127h1v1h-1z M590 127h1v1h-1z M603 127h1v1h-1z M614 127h1v1h-1z M627 127h1v1h-1z M640 127h1v1h-1z M654 127h1v1h-1z M667 127h1v1h-1z M680 127h1v1h-1z M693 127h1v1h-1z M705 127h1v1h-1z M717 127h1v1h-1z M730 127h1v1h-1z M744 127h1v1h-1z M757 127h1v1h-1z M771 127h1v1h-1z M783 127h1v1h-1z M797 127h1v1h-1z M810 127h1v1h-1z M821 127h1v1h-1z M834 127h1v1h-1z M847 127h1v1h-1z M860 127h1v1h-1z M874 127h1v1h-1z M887 127h1v1h-1z M18 154h1v1h-1z M31 154h1v1h-1z M41 154h1v1h-1z M55 154h1v1h-1z M68 154h1v1h-1z M81 154h1v1h-1z M94 154h1v1h-1z M108 154h1v1h-1z M121 154h1v1h-1z M132 154h1v1h-1z M145 154h1v1h-1z M153 154h1v1h-1z M169 154h1v1h-1z M182 154h1v1h-1z M195 154h1v1h-1z M208 154h1v1h-1z M222 154h1v1h-1z M235 154h1v1h-1z M251 154h1v1h-1z M262 154h1v1h-1z M276 154h1v1h-1z M288 154h1v1h-1z M301 154h1v1h-1z M314 154h1v1h-1z M330 154h1v1h-1z M337 154h1v1h-1z M352 154h1v1h-1z M365 154h1v1h-1z M378 154h1v1h-1z M391 154h1v1h-1z M405 154h1v1h-1z M418 154h1v1h-1z M431 154h1v1h-1z M444 154h1v1h-1z M457 154h1v1h-1z M471 154h1v1h-1z M484 154h1v1h-1z M498 154h1v1h-1z M511 154h1v1h-1z M524 154h1v1h-1z M537 154h1v1h-1z M550 154h1v1h-1z M564 154h1v1h-1z M577 154h1v1h-1z M590 154h1v1h-1z M603 154h1v1h-1z M614 154h1v1h-1z M627 154h1v1h-1z M640 154h1v1h-1z M654 154h1v1h-1z M667 154h1v1h-1z M680 154h1v1h-1z M693 154h1v1h-1z M705 154h1v1h-1z M717 154h1v1h-1z M730 154h1v1h-1z M744 154h1v1h-1z M757 154h1v1h-1z M771 154h1v1h-1z M783 154h1v1h-1z M797 154h1v1h-1z M810 154h1v1h-1z M821 154h1v1h-1z M834 154h1v1h-1z M847 154h1v1h-1z M860 154h1v1h-1z M874 154h1v1h-1z M887 154h1v1h-1z M18 181h1v1h-1z M31 181h1v1h-1z M41 181h1v1h-1z M55 181h1v1h-1z M68 181h1v1h-1z M81 181h1v1h-1z M94 181h1v1h-1z M108 181h1v1h-1z M121 181h1v1h-1z M132 181h1v1h-1z M145 181h1v1h-1z M153 181h1v1h-1z M169 181h1v1h-1z M182 181h1v1h-1z M195 181h1v1h-1z M208 181h1v1h-1z M222 181h1v1h-1z M235 181h1v1h-1z M251 181h1v1h-1z M262 181h1v1h-1z M276 181h1v1h-1z M288 181h1v1h-1z M301 181h1v1h-1z M314 181h1v1h-1z M330 181h1v1h-1z M337 181h1v1h-1z M352 181h1v1h-1z M365 181h1v1h-1z M378 181h1v1h-1z M391 181h1v1h-1z M405 181h1v1h-1z M418 181h1v1h-1z M431 181h1v1h-1z M444 181h1v1h-1z M457 181h1v1h-1z M471 181h1v1h-1z M484 181h1v1h-1z M498 181h1v1h-1z M511 181h1v1h-1z M524 181h1v1h-1z M537 181h1v1h-1z M550 181h1v1h-1z M564 181h1v1h-1z M577 181h1v1h-1z M590 181h1v1h-1z M603 181h1v1h-1z M614 181h1v1h-1z M627 181h1v1h-1z M640 181h1v1h-1z M654 181h1v1h-1z M667 181h1v1h-1z M680 181h1v1h-1z M693 181h1v1h-1z M705 181h1v1h-1z M717 181h1v1h-1z M730 181h1v1h-1z M744 181h1v1h-1z M757 181h1v1h-1z M771 181h1v1h-1z M783 181h1v1h-1z M797 181h1v1h-1z M810 181h1v1h-1z M821 181h1v1h-1z M834 181h1v1h-1z M847 181h1v1h-1z M860 181h1v1h-1z M874 181h1v1h-1z M887 181h1v1h-1z M18 235h1v1h-1z M31 235h1v1h-1z M41 235h1v1h-1z M55 235h1v1h-1z M68 235h1v1h-1z M81 235h1v1h-1z M94 235h1v1h-1z M108 235h1v1h-1z M121 235h1v1h-1z M132 235h1v1h-1z M145 235h1v1h-1z M153 235h1v1h-1z M169 235h1v1h-1z M182 235h1v1h-1z M195 235h1v1h-1z M208 235h1v1h-1z M222 235h1v1h-1z M235 235h1v1h-1z M251 235h1v1h-1z M262 235h1v1h-1z M276 235h1v1h-1z M288 235h1v1h-1z M301 235h1v1h-1z M314 235h1v1h-1z M330 235h1v1h-1z M337 235h1v1h-1z M352 235h1v1h-1z M365 235h1v1h-1z M378 235h1v1h-1z M391 235h1v1h-1z M405 235h1v1h-1z M418 235h1v1h-1z M431 235h1v1h-1z M444 235h1v1h-1z M457 235h1v1h-1z M471 235h1v1h-1z M484 235h1v1h-1z M498 235h1v1h-1z M511 235h1v1h-1z M524 235h1v1h-1z M537 235h1v1h-1z M550 235h1v1h-1z M564 235h1v1h-1z M577 235h1v1h-1z M590 235h1v1h-1z M603 235h1v1h-1z M614 235h1v1h-1z M627 235h1v1h-1z M640 235h1v1h-1z M654 235h1v1h-1z M667 235h1v1h-1z M680 235h1v1h-1z M693 235h1v1h-1z M705 235h1v1h-1z M717 235h1v1h-1z M730 235h1v1h-1z M744 235h1v1h-1z M757 235h1v1h-1z M771 235h1v1h-1z M783 235h1v1h-1z M797 235h1v1h-1z M810 235h1v1h-1z M821 235h1v1h-1z M834 235h1v1h-1z M847 235h1v1h-1z M860 235h1v1h-1z M874 235h1v1h-1z M887 235h1v1h-1z M18 262h1v1h-1z M31 262h1v1h-1z M41 262h1v1h-1z M55 262h1v1h-1z M68 262h1v1h-1z M81 262h1v1h-1z M94 262h1v1h-1z M108 262h1v1h-1z M121 262h1v1h-1z M132 262h1v1h-1z M145 262h1v1h-1z M153 262h1v1h-1z M169 262h1v1h-1z M182 262h1v1h-1z M195 262h1v1h-1z M208 262h1v1h-1z M222 262h1v1h-1z M235 262h1v1h-1z M251 262h1v1h-1z M262 262h1v1h-1z M276 262h1v1h-1z M288 262h1v1h-1z M301 262h1v1h-1z M314 262h1v1h-1z M330 262h1v1h-1z M337 262h1v1h-1z M352 262h1v1h-1z M365 262h1v1h-1z M378 262h1v1h-1z M391 262h1v1h-1z M405 262h1v1h-1z M418 262h1v1h-1z M431 262h1v1h-1z M444 262h1v1h-1z M457 262h1v1h-1z M471 262h1v1h-1z M484 262h1v1h-1z M498 262h1v1h-1z M511 262h1v1h-1z M524 262h1v1h-1z M537 262h1v1h-1z M550 262h1v1h-1z M564 262h1v1h-1z M577 262h1v1h-1z M590 262h1v1h-1z M603 262h1v1h-1z M614 262h1v1h-1z M627 262h1v1h-1z M640 262h1v1h-1z M654 262h1v1h-1z M667 262h1v1h-1z M680 262h1v1h-1z M693 262h1v1h-1z M705 262h1v1h-1z M717 262h1v1h-1z M730 262h1v1h-1z M744 262h1v1h-1z M757 262h1v1h-1z M771 262h1v1h-1z M783 262h1v1h-1z M797 262h1v1h-1z M810 262h1v1h-1z M821 262h1v1h-1z M834 262h1v1h-1z M847 262h1v1h-1z M860 262h1v1h-1z M874 262h1v1h-1z M887 262h1v1h-1z M18 289h1v1h-1z M31 289h1v1h-1z M41 289h1v1h-1z M55 289h1v1h-1z M68 289h1v1h-1z M81 289h1v1h-1z M94 289h1v1h-1z M108 289h1v1h-1z M121 289h1v1h-1z M132 289h1v1h-1z M145 289h1v1h-1z M153 289h1v1h-1z M169 289h1v1h-1z M182 289h1v1h-1z M195 289h1v1h-1z M208 289h1v1h-1z M222 289h1v1h-1z M235 289h1v1h-1z M251 289h1v1h-1z M262 289h1v1h-1z M276 289h1v1h-1z M288 289h1v1h-1z M301 289h1v1h-1z M314 289h1v1h-1z M330 289h1v1h-1z M337 289h1v1h-1z M352 289h1v1h-1z M365 289h1v1h-1z M378 289h1v1h-1z M391 289h1v1h-1z M405 289h1v1h-1z M418 289h1v1h-1z M431 289h1v1h-1z M444 289h1v1h-1z M457 289h1v1h-1z M471 289h1v1h-1z M484 289h1v1h-1z M498 289h1v1h-1z M511 289h1v1h-1z M524 289h1v1h-1z M537 289h1v1h-1z M550 289h1v1h-1z M564 289h1v1h-1z M577 289h1v1h-1z M590 289h1v1h-1z M603 289h1v1h-1z M614 289h1v1h-1z M627 289h1v1h-1z M640 289h1v1h-1z M654 289h1v1h-1z M667 289h1v1h-1z M680 289h1v1h-1z M693 289h1v1h-1z M705 289h1v1h-1z M717 289h1v1h-1z M730 289h1v1h-1z M744 289h1v1h-1z M757 289h1v1h-1z M771 289h1v1h-1z M783 289h1v1h-1z M797 289h1v1h-1z M810 289h1v1h-1z M821 289h1v1h-1z M834 289h1v1h-1z M847 289h1v1h-1z M860 289h1v1h-1z M874 289h1v1h-1z M887 289h1v1h-1z M18 316h1v1h-1z M31 316h1v1h-1z M41 316h1v1h-1z M55 316h1v1h-1z M68 316h1v1h-1z M81 316h1v1h-1z M94 316h1v1h-1z M108 316h1v1h-1z M121 316h1v1h-1z M132 316h1v1h-1z M145 316h1v1h-1z M153 316h1v1h-1z M169 316h1v1h-1z M182 316h1v1h-1z M195 316h1v1h-1z M208 316h1v1h-1z M222 316h1v1h-1z M235 316h1v1h-1z M251 316h1v1h-1z M262 316h1v1h-1z M276 316h1v1h-1z M288 316h1v1h-1z M301 316h1v1h-1z M314 316h1v1h-1z M330 316h1v1h-1z M337 316h1v1h-1z M352 316h1v1h-1z M365 316h1v1h-1z M378 316h1v1h-1z M391 316h1v1h-1z M405 316h1v1h-1z M418 316h1v1h-1z M431 316h1v1h-1z M444 316h1v1h-1z M457 316h1v1h-1z M471 316h1v1h-1z M484 316h1v1h-1z M498 316h1v1h-1z M511 316h1v1h-1z M524 316h1v1h-1z M537 316h1v1h-1z M550 316h1v1h-1z M564 316h1v1h-1z M577 316h1v1h-1z M590 316h1v1h-1z M603 316h1v1h-1z M614 316h1v1h-1z M627 316h1v1h-1z M640 316h1v1h-1z M654 316h1v1h-1z M667 316h1v1h-1z M680 316h1v1h-1z M693 316h1v1h-1z M705 316h1v1h-1z M717 316h1v1h-1z M730 316h1v1h-1z M744 316h1v1h-1z M757 316h1v1h-1z M771 316h1v1h-1z M783 316h1v1h-1z M797 316h1v1h-1z M810 316h1v1h-1z M821 316h1v1h-1z M834 316h1v1h-1z M847 316h1v1h-1z M860 316h1v1h-1z M874 316h1v1h-1z M887 316h1v1h-1z M18 370h1v1h-1z M31 370h1v1h-1z M41 370h1v1h-1z M55 370h1v1h-1z M68 370h1v1h-1z M81 370h1v1h-1z M94 370h1v1h-1z M108 370h1v1h-1z M121 370h1v1h-1z M132 370h1v1h-1z M145 370h1v1h-1z M153 370h1v1h-1z M169 370h1v1h-1z M182 370h1v1h-1z M195 370h1v1h-1z M208 370h1v1h-1z M222 370h1v1h-1z M235 370h1v1h-1z M251 370h1v1h-1z M262 370h1v1h-1z M276 370h1v1h-1z M288 370h1v1h-1z M301 370h1v1h-1z M314 370h1v1h-1z M330 370h1v1h-1z M337 370h1v1h-1z M352 370h1v1h-1z M365 370h1v1h-1z M378 370h1v1h-1z M391 370h1v1h-1z M405 370h1v1h-1z M418 370h1v1h-1z M431 370h1v1h-1z M444 370h1v1h-1z M457 370h1v1h-1z M471 370h1v1h-1z M484 370h1v1h-1z M498 370h1v1h-1z M511 370h1v1h-1z M524 370h1v1h-1z M537 370h1v1h-1z M550 370h1v1h-1z M564 370h1v1h-1z M577 370h1v1h-1z M590 370h1v1h-1z M603 370h1v1h-1z M614 370h1v1h-1z M627 370h1v1h-1z M640 370h1v1h-1z M654 370h1v1h-1z M667 370h1v1h-1z M680 370h1v1h-1z M693 370h1v1h-1z M705 370h1v1h-1z M717 370h1v1h-1z M730 370h1v1h-1z M744 370h1v1h-1z M757 370h1v1h-1z M771 370h1v1h-1z M783 370h1v1h-1z M797 370h1v1h-1z M810 370h1v1h-1z M821 370h1v1h-1z M834 370h1v1h-1z M847 370h1v1h-1z M860 370h1v1h-1z M874 370h1v1h-1z M887 370h1v1h-1z M18 397h1v1h-1z M31 397h1v1h-1z M41 397h1v1h-1z M55 397h1v1h-1z M68 397h1v1h-1z M81 397h1v1h-1z M94 397h1v1h-1z M108 397h1v1h-1z M121 397h1v1h-1z M132 397h1v1h-1z M145 397h1v1h-1z M153 397h1v1h-1z M169 397h1v1h-1z M182 397h1v1h-1z M195 397h1v1h-1z M208 397h1v1h-1z M222 397h1v1h-1z M235 397h1v1h-1z M251 397h1v1h-1z M262 397h1v1h-1z M276 397h1v1h-1z M288 397h1v1h-1z M301 397h1v1h-1z M314 397h1v1h-1z M330 397h1v1h-1z M337 397h1v1h-1z M352 397h1v1h-1z M365 397h1v1h-1z M378 397h1v1h-1z M391 397h1v1h-1z M405 397h1v1h-1z M418 397h1v1h-1z M431 397h1v1h-1z M444 397h1v1h-1z M457 397h1v1h-1z M471 397h1v1h-1z M484 397h1v1h-1z M498 397h1v1h-1z M511 397h1v1h-1z M524 397h1v1h-1z M537 397h1v1h-1z M550 397h1v1h-1z M564 397h1v1h-1z M577 397h1v1h-1z M590 397h1v1h-1z M603 397h1v1h-1z M614 397h1v1h-1z M627 397h1v1h-1z M640 397h1v1h-1z M654 397h1v1h-1z M667 397h1v1h-1z M680 397h1v1h-1z M693 397h1v1h-1z M705 397h1v1h-1z M717 397h1v1h-1z M730 397h1v1h-1z M744 397h1v1h-1z M757 397h1v1h-1z M771 397h1v1h-1z M783 397h1v1h-1z M797 397h1v1h-1z M810 397h1v1h-1z M821 397h1v1h-1z M834 397h1v1h-1z M847 397h1v1h-1z M860 397h1v1h-1z M874 397h1v1h-1z M887 397h1v1h-1z M18 424h1v1h-1z M31 424h1v1h-1z M41 424h1v1h-1z M55 424h1v1h-1z M68 424h1v1h-1z M81 424h1v1h-1z M94 424h1v1h-1z M108 424h1v1h-1z M121 424h1v1h-1z M132 424h1v1h-1z M145 424h1v1h-1z M153 424h1v1h-1z M169 424h1v1h-1z M182 424h1v1h-1z M195 424h1v1h-1z M208 424h1v1h-1z M222 424h1v1h-1z M235 424h1v1h-1z M251 424h1v1h-1z M262 424h1v1h-1z M276 424h1v1h-1z M288 424h1v1h-1z M301 424h1v1h-1z M314 424h1v1h-1z M330 424h1v1h-1z M337 424h1v1h-1z M352 424h1v1h-1z M365 424h1v1h-1z M378 424h1v1h-1z M391 424h1v1h-1z M405 424h1v1h-1z M418 424h1v1h-1z M431 424h1v1h-1z M444 424h1v1h-1z M457 424h1v1h-1z M471 424h1v1h-1z M484 424h1v1h-1z M498 424h1v1h-1z M511 424h1v1h-1z M524 424h1v1h-1z M537 424h1v1h-1z M550 424h1v1h-1z M564 424h1v1h-1z M577 424h1v1h-1z M590 424h1v1h-1z M603 424h1v1h-1z M614 424h1v1h-1z M627 424h1v1h-1z M640 424h1v1h-1z M654 424h1v1h-1z M667 424h1v1h-1z M680 424h1v1h-1z M693 424h1v1h-1z M705 424h1v1h-1z M717 424h1v1h-1z M730 424h1v1h-1z M744 424h1v1h-1z M757 424h1v1h-1z M771 424h1v1h-1z M783 424h1v1h-1z M797 424h1v1h-1z M810 424h1v1h-1z M821 424h1v1h-1z M834 424h1v1h-1z M847 424h1v1h-1z M860 424h1v1h-1z M874 424h1v1h-1z M887 424h1v1h-1z M18 451h1v1h-1z M31 451h1v1h-1z M41 451h1v1h-1z M55 451h1v1h-1z M68 451h1v1h-1z M81 451h1v1h-1z M94 451h1v1h-1z M108 451h1v1h-1z M121 451h1v1h-1z M132 451h1v1h-1z M145 451h1v1h-1z M153 451h1v1h-1z M169 451h1v1h-1z M182 451h1v1h-1z M195 451h1v1h-1z M208 451h1v1h-1z M222 451h1v1h-1z M235 451h1v1h-1z M251 451h1v1h-1z M262 451h1v1h-1z M276 451h1v1h-1z M288 451h1v1h-1z M301 451h1v1h-1z M314 451h1v1h-1z M330 451h1v1h-1z M337 451h1v1h-1z M352 451h1v1h-1z M365 451h1v1h-1z M378 451h1v1h-1z M391 451h1v1h-1z M405 451h1v1h-1z M418 451h1v1h-1z M431 451h1v1h-1z M444 451h1v1h-1z M457 451h1v1h-1z M471 451h1v1h-1z M484 451h1v1h-1z M498 451h1v1h-1z M511 451h1v1h-1z M524 451h1v1h-1z M537 451h1v1h-1z M550 451h1v1h-1z M564 451h1v1h-1z M577 451h1v1h-1z M590 451h1v1h-1z M603 451h1v1h-1z M614 451h1v1h-1z M627 451h1v1h-1z M640 451h1v1h-1z M654 451h1v1h-1z M667 451h1v1h-1z M680 451h1v1h-1z M693 451h1v1h-1z M705 451h1v1h-1z M717 451h1v1h-1z M730 451h1v1h-1z M744 451h1v1h-1z M757 451h1v1h-1z M771 451h1v1h-1z M783 451h1v1h-1z M797 451h1v1h-1z M810 451h1v1h-1z M821 451h1v1h-1z M834 451h1v1h-1z M847 451h1v1h-1z M860 451h1v1h-1z M874 451h1v1h-1z M887 451h1v1h-1z M18 505h1v1h-1z M31 505h1v1h-1z M41 505h1v1h-1z M55 505h1v1h-1z M68 505h1v1h-1z M81 505h1v1h-1z M94 505h1v1h-1z M108 505h1v1h-1z M121 505h1v1h-1z M132 505h1v1h-1z M145 505h1v1h-1z M153 505h1v1h-1z M169 505h1v1h-1z M182 505h1v1h-1z M195 505h1v1h-1z M208 505h1v1h-1z M222 505h1v1h-1z M235 505h1v1h-1z M251 505h1v1h-1z M262 505h1v1h-1z M276 505h1v1h-1z M288 505h1v1h-1z M301 505h1v1h-1z M314 505h1v1h-1z M330 505h1v1h-1z M337 505h1v1h-1z M352 505h1v1h-1z M365 505h1v1h-1z M378 505h1v1h-1z M391 505h1v1h-1z M405 505h1v1h-1z M418 505h1v1h-1z M431 505h1v1h-1z M444 505h1v1h-1z M457 505h1v1h-1z M471 505h1v1h-1z M484 505h1v1h-1z M498 505h1v1h-1z M511 505h1v1h-1z M524 505h1v1h-1z M537 505h1v1h-1z M550 505h1v1h-1z M564 505h1v1h-1z M577 505h1v1h-1z M590 505h1v1h-1z M603 505h1v1h-1z M614 505h1v1h-1z M627 505h1v1h-1z M640 505h1v1h-1z M654 505h1v1h-1z M667 505h1v1h-1z M680 505h1v1h-1z M693 505h1v1h-1z M705 505h1v1h-1z M717 505h1v1h-1z M730 505h1v1h-1z M744 505h1v1h-1z M757 505h1v1h-1z M771 505h1v1h-1z M783 505h1v1h-1z M797 505h1v1h-1z M810 505h1v1h-1z M821 505h1v1h-1z M834 505h1v1h-1z M847 505h1v1h-1z M860 505h1v1h-1z M874 505h1v1h-1z M887 505h1v1h-1z M18 532h1v1h-1z M31 532h1v1h-1z M41 532h1v1h-1z M55 532h1v1h-1z M68 532h1v1h-1z M81 532h1v1h-1z M94 532h1v1h-1z M108 532h1v1h-1z M121 532h1v1h-1z M132 532h1v1h-1z M145 532h1v1h-1z M153 532h1v1h-1z M169 532h1v1h-1z M182 532h1v1h-1z M195 532h1v1h-1z M208 532h1v1h-1z M222 532h1v1h-1z M235 532h1v1h-1z M251 532h1v1h-1z M262 532h1v1h-1z M276 532h1v1h-1z M288 532h1v1h-1z M301 532h1v1h-1z M314 532h1v1h-1z M330 532h1v1h-1z M337 532h1v1h-1z M352 532h1v1h-1z M365 532h1v1h-1z M378 532h1v1h-1z M391 532h1v1h-1z M405 532h1v1h-1z M418 532h1v1h-1z M431 532h1v1h-1z M444 532h1v1h-1z M457 532h1v1h-1z M471 532h1v1h-1z M484 532h1v1h-1z M498 532h1v1h-1z M511 532h1v1h-1z M524 532h1v1h-1z M537 532h1v1h-1z M550 532h1v1h-1z M564 532h1v1h-1z M577 532h1v1h-1z M590 532h1v1h-1z M603 532h1v1h-1z M614 532h1v1h-1z M627 532h1v1h-1z M640 532h1v1h-1z M654 532h1v1h-1z M667 532h1v1h-1z M680 532h1v1h-1z M693 532h1v1h-1z M705 532h1v1h-1z M717 532h1v1h-1z M730 532h1v1h-1z M744 532h1v1h-1z M757 532h1v1h-1z M771 532h1v1h-1z M783 532h1v1h-1z M797 532h1v1h-1z M810 532h1v1h-1z M821 532h1v1h-1z M834 532h1v1h-1z M847 532h1v1h-1z M860 532h1v1h-1z M874 532h1v1h-1z M887 532h1v1h-1z M18 559h1v1h-1z M31 559h1v1h-1z M41 559h1v1h-1z M55 559h1v1h-1z M68 559h1v1h-1z M81 559h1v1h-1z M94 559h1v1h-1z M108 559h1v1h-1z M121 559h1v1h-1z M132 559h1v1h-1z M145 559h1v1h-1z M153 559h1v1h-1z M169 559h1v1h-1z M182 559h1v1h-1z M195 559h1v1h-1z M208 559h1v1h-1z M222 559h1v1h-1z M235 559h1v1h-1z M251 559h1v1h-1z M262 559h1v1h-1z M276 559h1v1h-1z M288 559h1v1h-1z M301 559h1v1h-1z M314 559h1v1h-1z M330 559h1v1h-1z M337 559h1v1h-1z M352 559h1v1h-1z M365 559h1v1h-1z M378 559h1v1h-1z M391 559h1v1h-1z M405 559h1v1h-1z M418 559h1v1h-1z M431 559h1v1h-1z M444 559h1v1h-1z M457 559h1v1h-1z M471 559h1v1h-1z M484 559h1v1h-1z M498 559h1v1h-1z M511 559h1v1h-1z M524 559h1v1h-1z M537 559h1v1h-1z M550 559h1v1h-1z M564 559h1v1h-1z M577 559h1v1h-1z M590 559h1v1h-1z M603 559h1v1h-1z M614 559h1v1h-1z M627 559h1v1h-1z M640 559h1v1h-1z M654 559h1v1h-1z M667 559h1v1h-1z M680 559h1v1h-1z M693 559h1v1h-1z M705 559h1v1h-1z M717 559h1v1h-1z M730 559h1v1h-1z M744 559h1v1h-1z M757 559h1v1h-1z M771 559h1v1h-1z M783 559h1v1h-1z M797 559h1v1h-1z M810 559h1v1h-1z M821 559h1v1h-1z M834 559h1v1h-1z M847 559h1v1h-1z M860 559h1v1h-1z M874 559h1v1h-1z M887 559h1v1h-1z M18 586h1v1h-1z M31 586h1v1h-1z M41 586h1v1h-1z M55 586h1v1h-1z M68 586h1v1h-1z M81 586h1v1h-1z M94 586h1v1h-1z M108 586h1v1h-1z M121 586h1v1h-1z M132 586h1v1h-1z M145 586h1v1h-1z M153 586h1v1h-1z M169 586h1v1h-1z M182 586h1v1h-1z M195 586h1v1h-1z M208 586h1v1h-1z M222 586h1v1h-1z M235 586h1v1h-1z M251 586h1v1h-1z M262 586h1v1h-1z M276 586h1v1h-1z M288 586h1v1h-1z M301 586h1v1h-1z M314 586h1v1h-1z M330 586h1v1h-1z M337 586h1v1h-1z M352 586h1v1h-1z M365 586h1v1h-1z M378 586h1v1h-1z M391 586h1v1h-1z M405 586h1v1h-1z M418 586h1v1h-1z M431 586h1v1h-1z M444 586h1v1h-1z M457 586h1v1h-1z M471 586h1v1h-1z M484 586h1v1h-1z M498 586h1v1h-1z M511 586h1v1h-1z M524 586h1v1h-1z M537 586h1v1h-1z M550 586h1v1h-1z M564 586h1v1h-1z M577 586h1v1h-1z M590 586h1v1h-1z M603 586h1v1h-1z M614 586h1v1h-1z M627 586h1v1h-1z M640 586h1v1h-1z M654 586h1v1h-1z M667 586h1v1h-1z M680 586h1v1h-1z M693 586h1v1h-1z M705 586h1v1h-1z M717 586h1v1h-1z M730 586h1v1h-1z M744 586h1v1h-1z M757 586h1v1h-1z M771 586h1v1h-1z M783 586h1v1h-1z M797 586h1v1h-1z M810 586h1v1h-1z M821 586h1v1h-1z M834 586h1v1h-1z M847 586h1v1h-1z M860 586h1v1h-1z M874 586h1v1h-1z M887 586h1v1h-1z M10 614h1v1h-1z M13 614h1v1h-1z M16 614h1v1h-1z M18 614h1v1h-1z M21 614h1v1h-1z M24 614h1v1h-1z M26 614h1v1h-1z M29 614h1v1h-1z M32 614h1v1h-1z M34 614h1v1h-1z M37 614h1v1h-1z M39 614h1v1h-1z M42 614h1v1h-1z M45 614h1v1h-1z M47 614h1v1h-1z M50 614h1v1h-1z M53 614h1v1h-1z M55 614h1v1h-1z M58 614h1v1h-1z M61 614h1v1h-1z M63 614h1v1h-1z M66 614h1v1h-1z M69 614h1v1h-1z M71 614h1v1h-1z M74 614h1v1h-1z M76 614h1v1h-1z M79 614h1v1h-1z M82 614h1v1h-1z M84 614h1v1h-1z M87 614h1v1h-1z M90 614h1v1h-1z M92 614h1v1h-1z M95 614h1v1h-1z M98 614h1v1h-1z M100 614h1v1h-1z M103 614h1v1h-1z M105 614h1v1h-1z M108 614h1v1h-1z M111 614h1v1h-1z M113 614h1v1h-1z M116 614h1v1h-1z M119 614h1v1h-1z M121 614h1v1h-1z M124 614h1v1h-1z M127 614h1v1h-1z M129 614h1v1h-1z M132 614h1v1h-1z M135 614h1v1h-1z M137 614h1v1h-1z M140 614h1v1h-1z M142 614h1v1h-1z M145 614h1v1h-1z M148 614h1v1h-1z M150 614h1v1h-1z M153 614h1v1h-1z M156 614h1v1h-1z M158 614h1v1h-1z M161 614h1v1h-1z M164 614h1v1h-1z M166 614h1v1h-1z M169 614h1v1h-1z M172 614h1v1h-1z M174 614h1v1h-1z M177 614h1v1h-1z M179 614h1v1h-1z M182 614h1v1h-1z M185 614h1v1h-1z M187 614h1v1h-1z M190 614h1v1h-1z M193 614h1v1h-1z M195 614h1v1h-1z M198 614h1v1h-1z M201 614h1v1h-1z M203 614h1v1h-1z M206 614h1v1h-1z M208 614h1v1h-1z M211 614h1v1h-1z M214 614h1v1h-1z M216 614h1v1h-1z M219 614h1v1h-1z M222 614h1v1h-1z M224 614h1v1h-1z M227 614h1v1h-1z M230 614h1v1h-1z M232 614h1v1h-1z M235 614h1v1h-1z M238 614h1v1h-1z M240 614h1v1h-1z M243 614h1v1h-1z M245 614h1v1h-1z M248 614h1v1h-1z M251 614h1v1h-1z M253 614h1v1h-1z M256 614h1v1h-1z M259 614h1v1h-1z M261 614h1v1h-1z M264 614h1v1h-1z M267 614h1v1h-1z M269 614h1v1h-1z M272 614h1v1h-1z M275 614h1v1h-1z M277 614h1v1h-1z M280 614h1v1h-1z M282 614h1v1h-1z M285 614h1v1h-1z M288 614h1v1h-1z M290 614h1v1h-1z M293 614h1v1h-1z M296 614h1v1h-1z M298 614h1v1h-1z M301 614h1v1h-1z M304 614h1v1h-1z M306 614h1v1h-1z M309 614h1v1h-1z M311 614h1v1h-1z M314 614h1v1h-1z M317 614h1v1h-1z M319 614h1v1h-1z M322 614h1v1h-1z M325 614h1v1h-1z M327 614h1v1h-1z M330 614h1v1h-1z M333 614h1v1h-1z M335 614h1v1h-1z M338 614h1v1h-1z M341 614h1v1h-1z M343 614h1v1h-1z M346 614h1v1h-1z M348 614h1v1h-1z M351 614h1v1h-1z M354 614h1v1h-1z M356 614h1v1h-1z M359 614h1v1h-1z M362 614h1v1h-1z M364 614h1v1h-1z M367 614h1v1h-1z M370 614h1v1h-1z M372 614h1v1h-1z M375 614h1v1h-1z M378 614h1v1h-1z M380 614h1v1h-1z M383 614h1v1h-1z M385 614h1v1h-1z M388 614h1v1h-1z M391 614h1v1h-1z M393 614h1v1h-1z M396 614h1v1h-1z M399 614h1v1h-1z M401 614h1v1h-1z M404 614h1v1h-1z M407 614h1v1h-1z M409 614h1v1h-1z M412 614h1v1h-1z M414 614h1v1h-1z M417 614h1v1h-1z M420 614h1v1h-1z M422 614h1v1h-1z M425 614h1v1h-1z M428 614h1v1h-1z M430 614h1v1h-1z M433 614h1v1h-1z M436 614h1v1h-1z M438 614h1v1h-1z M441 614h1v1h-1z M444 614h1v1h-1z M446 614h1v1h-1z M449 614h1v1h-1z M451 614h1v1h-1z M454 614h1v1h-1z M457 614h1v1h-1z M459 614h1v1h-1z M462 614h1v1h-1z M465 614h1v1h-1z M467 614h1v1h-1z M470 614h1v1h-1z M473 614h1v1h-1z M475 614h1v1h-1z M478 614h1v1h-1z M481 614h1v1h-1z M483 614h1v1h-1z M486 614h1v1h-1z M488 614h1v1h-1z M491 614h1v1h-1z M494 614h1v1h-1z M496 614h1v1h-1z M499 614h1v1h-1z M502 614h1v1h-1z M504 614h1v1h-1z M507 614h1v1h-1z M510 614h1v1h-1z M512 614h1v1h-1z M515 614h1v1h-1z M517 614h1v1h-1z M520 614h1v1h-1z M523 614h1v1h-1z M525 614h1v1h-1z M528 614h1v1h-1z M531 614h1v1h-1z M533 614h1v1h-1z M536 614h1v1h-1z M539 614h1v1h-1z M541 614h1v1h-1z M544 614h1v1h-1z M547 614h1v1h-1z M549 614h1v1h-1z M552 614h1v1h-1z M554 614h1v1h-1z M557 614h1v1h-1z M560 614h1v1h-1z M562 614h1v1h-1z M565 614h1v1h-1z M568 614h1v1h-1z M570 614h1v1h-1z M573 614h1v1h-1z M576 614h1v1h-1z M578 614h1v1h-1z M581 614h1v1h-1z M584 614h1v1h-1z M586 614h1v1h-1z M589 614h1v1h-1z M591 614h1v1h-1z M594 614h1v1h-1z M597 614h1v1h-1z M599 614h1v1h-1z M602 614h1v1h-1z M605 614h1v1h-1z M607 614h1v1h-1z M610 614h1v1h-1z M613 614h1v1h-1z M615 614h1v1h-1z M618 614h1v1h-1z M620 614h1v1h-1z M623 614h1v1h-1z M626 614h1v1h-1z M628 614h1v1h-1z M631 614h1v1h-1z M634 614h1v1h-1z M636 614h1v1h-1z M639 614h1v1h-1z M642 614h1v1h-1z M644 614h1v1h-1z M647 614h1v1h-1z M650 614h1v1h-1z M652 614h1v1h-1z M655 614h1v1h-1z M657 614h1v1h-1z M660 614h1v1h-1z M663 614h1v1h-1z M665 614h1v1h-1z M668 614h1v1h-1z M671 614h1v1h-1z M673 614h1v1h-1z M676 614h1v1h-1z M679 614h1v1h-1z M681 614h1v1h-1z M684 614h1v1h-1z M687 614h1v1h-1z M689 614h1v1h-1z M692 614h1v1h-1z M694 614h1v1h-1z M697 614h1v1h-1z M700 614h1v1h-1z M702 614h1v1h-1z M705 614h1v1h-1z M708 614h1v1h-1z M710 614h1v1h-1z M713 614h1v1h-1z M716 614h1v1h-1z M718 614h1v1h-1z M721 614h1v1h-1z M723 614h1v1h-1z M726 614h1v1h-1z M729 614h1v1h-1z M731 614h1v1h-1z M734 614h1v1h-1z M737 614h1v1h-1z M739 614h1v1h-1z M742 614h1v1h-1z M745 614h1v1h-1z M747 614h1v1h-1z M750 614h1v1h-1z M753 614h1v1h-1z M755 614h1v1h-1z M758 614h1v1h-1z M760 614h1v1h-1z M763 614h1v1h-1z M766 614h1v1h-1z M768 614h1v1h-1z M771 614h1v1h-1z M774 614h1v1h-1z M776 614h1v1h-1z M779 614h1v1h-1z M782 614h1v1h-1z M784 614h1v1h-1z M787 614h1v1h-1z M790 614h1v1h-1z M792 614h1v1h-1z M795 614h1v1h-1z M797 614h1v1h-1z M800 614h1v1h-1z M803 614h1v1h-1z M805 614h1v1h-1z M808 614h1v1h-1z M811 614h1v1h-1z M813 614h1v1h-1z M816 614h1v1h-1z M819 614h1v1h-1z M821 614h1v1h-1z M824 614h1v1h-1z M826 614h1v1h-1z M829 614h1v1h-1z M832 614h1v1h-1z M834 614h1v1h-1z M837 614h1v1h-1z M840 614h1v1h-1z M842 614h1v1h-1z M845 614h1v1h-1z M848 614h1v1h-1z M850 614h1v1h-1z M853 614h1v1h-1z M856 614h1v1h-1z M858 614h1v1h-1z M861 614h1v1h-1z M863 614h1v1h-1z M866 614h1v1h-1z M869 614h1v1h-1z M871 614h1v1h-1z M874 614h1v1h-1z M877 614h1v1h-1z M879 614h1v1h-1z M882 614h1v1h-1z M885 614h1v1h-1z M887 614h1v1h-1z M10 629h1v1h-1z M13 629h1v1h-1z M16 629h1v1h-1z M18 629h1v1h-1z M21 629h1v1h-1z M24 629h1v1h-1z M26 629h1v1h-1z M29 629h1v1h-1z M32 629h1v1h-1z M34 629h1v1h-1z M37 629h1v1h-1z M39 629h1v1h-1z M42 629h1v1h-1z M45 629h1v1h-1z M47 629h1v1h-1z M50 629h1v1h-1z M53 629h1v1h-1z M55 629h1v1h-1z M58 629h1v1h-1z M61 629h1v1h-1z M63 629h1v1h-1z M66 629h1v1h-1z M69 629h1v1h-1z M71 629h1v1h-1z M74 629h1v1h-1z M76 629h1v1h-1z M79 629h1v1h-1z M82 629h1v1h-1z M84 629h1v1h-1z M87 629h1v1h-1z M90 629h1v1h-1z M92 629h1v1h-1z M95 629h1v1h-1z M98 629h1v1h-1z M100 629h1v1h-1z M103 629h1v1h-1z M105 629h1v1h-1z M108 629h1v1h-1z M111 629h1v1h-1z M113 629h1v1h-1z M116 629h1v1h-1z M119 629h1v1h-1z M121 629h1v1h-1z M124 629h1v1h-1z M127 629h1v1h-1z M129 629h1v1h-1z M132 629h1v1h-1z M135 629h1v1h-1z M137 629h1v1h-1z M140 629h1v1h-1z M142 629h1v1h-1z M145 629h1v1h-1z M148 629h1v1h-1z M150 629h1v1h-1z M153 629h1v1h-1z M156 629h1v1h-1z M158 629h1v1h-1z M161 629h1v1h-1z M164 629h1v1h-1z M166 629h1v1h-1z M169 629h1v1h-1z M172 629h1v1h-1z M174 629h1v1h-1z M177 629h1v1h-1z M179 629h1v1h-1z M182 629h1v1h-1z M185 629h1v1h-1z M187 629h1v1h-1z M190 629h1v1h-1z M193 629h1v1h-1z M195 629h1v1h-1z M198 629h1v1h-1z M201 629h1v1h-1z M203 629h1v1h-1z M206 629h1v1h-1z M208 629h1v1h-1z M211 629h1v1h-1z M214 629h1v1h-1z M216 629h1v1h-1z M219 629h1v1h-1z M222 629h1v1h-1z M224 629h1v1h-1z M227 629h1v1h-1z M230 629h1v1h-1z M232 629h1v1h-1z M235 629h1v1h-1z M238 629h1v1h-1z M240 629h1v1h-1z M243 629h1v1h-1z M245 629h1v1h-1z M248 629h1v1h-1z M251 629h1v1h-1z M253 629h1v1h-1z M256 629h1v1h-1z M259 629h1v1h-1z M261 629h1v1h-1z M264 629h1v1h-1z M267 629h1v1h-1z M269 629h1v1h-1z M272 629h1v1h-1z M275 629h1v1h-1z M277 629h1v1h-1z M280 629h1v1h-1z M282 629h1v1h-1z M285 629h1v1h-1z M288 629h1v1h-1z M290 629h1v1h-1z M293 629h1v1h-1z M296 629h1v1h-1z M298 629h1v1h-1z M301 629h1v1h-1z M304 629h1v1h-1z M306 629h1v1h-1z M309 629h1v1h-1z M311 629h1v1h-1z M314 629h1v1h-1z M317 629h1v1h-1z M319 629h1v1h-1z M322 629h1v1h-1z M325 629h1v1h-1z M327 629h1v1h-1z M330 629h1v1h-1z M333 629h1v1h-1z M335 629h1v1h-1z M338 629h1v1h-1z M341 629h1v1h-1z M343 629h1v1h-1z M346 629h1v1h-1z M348 629h1v1h-1z M351 629h1v1h-1z M354 629h1v1h-1z M356 629h1v1h-1z M359 629h1v1h-1z M362 629h1v1h-1z M364 629h1v1h-1z M367 629h1v1h-1z M370 629h1v1h-1z M372 629h1v1h-1z M375 629h1v1h-1z M378 629h1v1h-1z M380 629h1v1h-1z M383 629h1v1h-1z M385 629h1v1h-1z M388 629h1v1h-1z M391 629h1v1h-1z M393 629h1v1h-1z M396 629h1v1h-1z M399 629h1v1h-1z M401 629h1v1h-1z M404 629h1v1h-1z M407 629h1v1h-1z M409 629h1v1h-1z M412 629h1v1h-1z M414 629h1v1h-1z M417 629h1v1h-1z M420 629h1v1h-1z M422 629h1v1h-1z M425 629h1v1h-1z M428 629h1v1h-1z M430 629h1v1h-1z M433 629h1v1h-1z M436 629h1v1h-1z M438 629h1v1h-1z M441 629h1v1h-1z M444 629h1v1h-1z M446 629h1v1h-1z M449 629h1v1h-1z M451 629h1v1h-1z M454 629h1v1h-1z M457 629h1v1h-1z M459 629h1v1h-1z M462 629h1v1h-1z M465 629h1v1h-1z M467 629h1v1h-1z M470 629h1v1h-1z M473 629h1v1h-1z M475 629h1v1h-1z M478 629h1v1h-1z M481 629h1v1h-1z M483 629h1v1h-1z M486 629h1v1h-1z M488 629h1v1h-1z M491 629h1v1h-1z M494 629h1v1h-1z M496 629h1v1h-1z M499 629h1v1h-1z M502 629h1v1h-1z M504 629h1v1h-1z M507 629h1v1h-1z M510 629h1v1h-1z M512 629h1v1h-1z M515 629h1v1h-1z M517 629h1v1h-1z M520 629h1v1h-1z M523 629h1v1h-1z M525 629h1v1h-1z M528 629h1v1h-1z M531 629h1v1h-1z M533 629h1v1h-1z M536 629h1v1h-1z M539 629h1v1h-1z M541 629h1v1h-1z M544 629h1v1h-1z M547 629h1v1h-1z M549 629h1v1h-1z M552 629h1v1h-1z M554 629h1v1h-1z M557 629h1v1h-1z M560 629h1v1h-1z M562 629h1v1h-1z M565 629h1v1h-1z M568 629h1v1h-1z M570 629h1v1h-1z M573 629h1v1h-1z M576 629h1v1h-1z M578 629h1v1h-1z M581 629h1v1h-1z M584 629h1v1h-1z M586 629h1v1h-1z M589 629h1v1h-1z M591 629h1v1h-1z M594 629h1v1h-1z M597 629h1v1h-1z M599 629h1v1h-1z M602 629h1v1h-1z M605 629h1v1h-1z M607 629h1v1h-1z M610 629h1v1h-1z M613 629h1v1h-1z M615 629h1v1h-1z M618 629h1v1h-1z M620 629h1v1h-1z M623 629h1v1h-1z M626 629h1v1h-1z M628 629h1v1h-1z M631 629h1v1h-1z M634 629h1v1h-1z M636 629h1v1h-1z M639 629h1v1h-1z M642 629h1v1h-1z M644 629h1v1h-1z M647 629h1v1h-1z M650 629h1v1h-1z M652 629h1v1h-1z M655 629h1v1h-1z M657 629h1v1h-1z M660 629h1v1h-1z M663 629h1v1h-1z M665 629h1v1h-1z M668 629h1v1h-1z M671 629h1v1h-1z M673 629h1v1h-1z M676 629h1v1h-1z M679 629h1v1h-1z M681 629h1v1h-1z M684 629h1v1h-1z M687 629h1v1h-1z M689 629h1v1h-1z M692 629h1v1h-1z M694 629h1v1h-1z M697 629h1v1h-1z M700 629h1v1h-1z M702 629h1v1h-1z M705 629h1v1h-1z M708 629h1v1h-1z M710 629h1v1h-1z M713 629h1v1h-1z M716 629h1v1h-1z M718 629h1v1h-1z M721 629h1v1h-1z M723 629h1v1h-1z M726 629h1v1h-1z M729 629h1v1h-1z M731 629h1v1h-1z M734 629h1v1h-1z M737 629h1v1h-1z M739 629h1v1h-1z M742 629h1v1h-1z M745 629h1v1h-1z M747 629h1v1h-1z M750 629h1v1h-1z M753 629h1v1h-1z M755 629h1v1h-1z M758 629h1v1h-1z M760 629h1v1h-1z M763 629h1v1h-1z M766 629h1v1h-1z M768 629h1v1h-1z M771 629h1v1h-1z M774 629h1v1h-1z M776 629h1v1h-1z M779 629h1v1h-1z M782 629h1v1h-1z M784 629h1v1h-1z M787 629h1v1h-1z M790 629h1v1h-1z M792 629h1v1h-1z M795 629h1v1h-1z M797 629h1v1h-1z M800 629h1v1h-1z M803 629h1v1h-1z M805 629h1v1h-1z M808 629h1v1h-1z M811 629h1v1h-1z M813 629h1v1h-1z M816 629h1v1h-1z M819 629h1v1h-1z M821 629h1v1h-1z M824 629h1v1h-1z M826 629h1v1h-1z M829 629h1v1h-1z M832 629h1v1h-1z M834 629h1v1h-1z M837 629h1v1h-1z M840 629h1v1h-1z M842 629h1v1h-1z M845 629h1v1h-1z M848 629h1v1h-1z M850 629h1v1h-1z M853 629h1v1h-1z M856 629h1v1h-1z M858 629h1v1h-1z M861 629h1v1h-1z M863 629h1v1h-1z M866 629h1v1h-1z M869 629h1v1h-1z M871 629h1v1h-1z M874 629h1v1h-1z M877 629h1v1h-1z M879 629h1v1h-1z M882 629h1v1h-1z M885 629h1v1h-1z M887 629h1v1h-1z M10 663h1v1h-1z M13 663h1v1h-1z M16 663h1v1h-1z M18 663h1v1h-1z M21 663h1v1h-1z M24 663h1v1h-1z M26 663h1v1h-1z M29 663h1v1h-1z M32 663h1v1h-1z M34 663h1v1h-1z M37 663h1v1h-1z M39 663h1v1h-1z M42 663h1v1h-1z M45 663h1v1h-1z M47 663h1v1h-1z M50 663h1v1h-1z M53 663h1v1h-1z M55 663h1v1h-1z M58 663h1v1h-1z M61 663h1v1h-1z M63 663h1v1h-1z M66 663h1v1h-1z M69 663h1v1h-1z M71 663h1v1h-1z M74 663h1v1h-1z M76 663h1v1h-1z M79 663h1v1h-1z M82 663h1v1h-1z M84 663h1v1h-1z M87 663h1v1h-1z M90 663h1v1h-1z M92 663h1v1h-1z M95 663h1v1h-1z M98 663h1v1h-1z M100 663h1v1h-1z M103 663h1v1h-1z M105 663h1v1h-1z M108 663h1v1h-1z M111 663h1v1h-1z M113 663h1v1h-1z M116 663h1v1h-1z M119 663h1v1h-1z M121 663h1v1h-1z M124 663h1v1h-1z M127 663h1v1h-1z M129 663h1v1h-1z M132 663h1v1h-1z M135 663h1v1h-1z M137 663h1v1h-1z M140 663h1v1h-1z M142 663h1v1h-1z M145 663h1v1h-1z M148 663h1v1h-1z M150 663h1v1h-1z M153 663h1v1h-1z M156 663h1v1h-1z M158 663h1v1h-1z M161 663h1v1h-1z M164 663h1v1h-1z M166 663h1v1h-1z M169 663h1v1h-1z M172 663h1v1h-1z M174 663h1v1h-1z M177 663h1v1h-1z M179 663h1v1h-1z M182 663h1v1h-1z M185 663h1v1h-1z M187 663h1v1h-1z M190 663h1v1h-1z M193 663h1v1h-1z M195 663h1v1h-1z M198 663h1v1h-1z M201 663h1v1h-1z M203 663h1v1h-1z M206 663h1v1h-1z M208 663h1v1h-1z M211 663h1v1h-1z M214 663h1v1h-1z M216 663h1v1h-1z M219 663h1v1h-1z M222 663h1v1h-1z M224 663h1v1h-1z M227 663h1v1h-1z M230 663h1v1h-1z M232 663h1v1h-1z M235 663h1v1h-1z M238 663h1v1h-1z M240 663h1v1h-1z M243 663h1v1h-1z M245 663h1v1h-1z M248 663h1v1h-1z M251 663h1v1h-1z M253 663h1v1h-1z M256 663h1v1h-1z M259 663h1v1h-1z M261 663h1v1h-1z M264 663h1v1h-1z M267 663h1v1h-1z M269 663h1v1h-1z M272 663h1v1h-1z M275 663h1v1h-1z M277 663h1v1h-1z M280 663h1v1h-1z M282 663h1v1h-1z M285 663h1v1h-1z M288 663h1v1h-1z M290 663h1v1h-1z M293 663h1v1h-1z M296 663h1v1h-1z M298 663h1v1h-1z M301 663h1v1h-1z M304 663h1v1h-1z M306 663h1v1h-1z M309 663h1v1h-1z M311 663h1v1h-1z M314 663h1v1h-1z M317 663h1v1h-1z M319 663h1v1h-1z M322 663h1v1h-1z M325 663h1v1h-1z M327 663h1v1h-1z M330 663h1v1h-1z M333 663h1v1h-1z M335 663h1v1h-1z M338 663h1v1h-1z M341 663h1v1h-1z M343 663h1v1h-1z M346 663h1v1h-1z M348 663h1v1h-1z M351 663h1v1h-1z M354 663h1v1h-1z M356 663h1v1h-1z M359 663h1v1h-1z M362 663h1v1h-1z M364 663h1v1h-1z M367 663h1v1h-1z M370 663h1v1h-1z M372 663h1v1h-1z M375 663h1v1h-1z M378 663h1v1h-1z M380 663h1v1h-1z M383 663h1v1h-1z M385 663h1v1h-1z M388 663h1v1h-1z M391 663h1v1h-1z M393 663h1v1h-1z M396 663h1v1h-1z M399 663h1v1h-1z M401 663h1v1h-1z M404 663h1v1h-1z M407 663h1v1h-1z M409 663h1v1h-1z M412 663h1v1h-1z M414 663h1v1h-1z M417 663h1v1h-1z M420 663h1v1h-1z M422 663h1v1h-1z M425 663h1v1h-1z M428 663h1v1h-1z M430 663h1v1h-1z M433 663h1v1h-1z M436 663h1v1h-1z M438 663h1v1h-1z M441 663h1v1h-1z M444 663h1v1h-1z M446 663h1v1h-1z M449 663h1v1h-1z M451 663h1v1h-1z M454 663h1v1h-1z M457 663h1v1h-1z M459 663h1v1h-1z M462 663h1v1h-1z M465 663h1v1h-1z M467 663h1v1h-1z M470 663h1v1h-1z M473 663h1v1h-1z M475 663h1v1h-1z M478 663h1v1h-1z M481 663h1v1h-1z M483 663h1v1h-1z M486 663h1v1h-1z M488 663h1v1h-1z M491 663h1v1h-1z M494 663h1v1h-1z M496 663h1v1h-1z M499 663h1v1h-1z M502 663h1v1h-1z M504 663h1v1h-1z M507 663h1v1h-1z M510 663h1v1h-1z M512 663h1v1h-1z M515 663h1v1h-1z M517 663h1v1h-1z M520 663h1v1h-1z M523 663h1v1h-1z M525 663h1v1h-1z M528 663h1v1h-1z M531 663h1v1h-1z M533 663h1v1h-1z M536 663h1v1h-1z M539 663h1v1h-1z M541 663h1v1h-1z M544 663h1v1h-1z M547 663h1v1h-1z M549 663h1v1h-1z M552 663h1v1h-1z M554 663h1v1h-1z M557 663h1v1h-1z M560 663h1v1h-1z M562 663h1v1h-1z M565 663h1v1h-1z M568 663h1v1h-1z M570 663h1v1h-1z M573 663h1v1h-1z M576 663h1v1h-1z M578 663h1v1h-1z M581 663h1v1h-1z M584 663h1v1h-1z M586 663h1v1h-1z M589 663h1v1h-1z M591 663h1v1h-1z M594 663h1v1h-1z M597 663h1v1h-1z M599 663h1v1h-1z M602 663h1v1h-1z M605 663h1v1h-1z M607 663h1v1h-1z M610 663h1v1h-1z M613 663h1v1h-1z M615 663h1v1h-1z M618 663h1v1h-1z M620 663h1v1h-1z M623 663h1v1h-1z M626 663h1v1h-1z M628 663h1v1h-1z M631 663h1v1h-1z M634 663h1v1h-1z M636 663h1v1h-1z M639 663h1v1h-1z M642 663h1v1h-1z M644 663h1v1h-1z M647 663h1v1h-1z M650 663h1v1h-1z M652 663h1v1h-1z M655 663h1v1h-1z M657 663h1v1h-1z M660 663h1v1h-1z M663 663h1v1h-1z M665 663h1v1h-1z M668 663h1v1h-1z M671 663h1v1h-1z M673 663h1v1h-1z M676 663h1v1h-1z M679 663h1v1h-1z M681 663h1v1h-1z M684 663h1v1h-1z M687 663h1v1h-1z M689 663h1v1h-1z M692 663h1v1h-1z M694 663h1v1h-1z M697 663h1v1h-1z M700 663h1v1h-1z M702 663h1v1h-1z M705 663h1v1h-1z M708 663h1v1h-1z M710 663h1v1h-1z M713 663h1v1h-1z M716 663h1v1h-1z M718 663h1v1h-1z M721 663h1v1h-1z M723 663h1v1h-1z M726 663h1v1h-1z M729 663h1v1h-1z M731 663h1v1h-1z M734 663h1v1h-1z M737 663h1v1h-1z M739 663h1v1h-1z M742 663h1v1h-1z M745 663h1v1h-1z M747 663h1v1h-1z M750 663h1v1h-1z M753 663h1v1h-1z M755 663h1v1h-1z M758 663h1v1h-1z M760 663h1v1h-1z M763 663h1v1h-1z M766 663h1v1h-1z M768 663h1v1h-1z M771 663h1v1h-1z M774 663h1v1h-1z M776 663h1v1h-1z M779 663h1v1h-1z M782 663h1v1h-1z M784 663h1v1h-1z M787 663h1v1h-1z M790 663h1v1h-1z M792 663h1v1h-1z M795 663h1v1h-1z M797 663h1v1h-1z M800 663h1v1h-1z M803 663h1v1h-1z M805 663h1v1h-1z M808 663h1v1h-1z M811 663h1v1h-1z M813 663h1v1h-1z M816 663h1v1h-1z M819 663h1v1h-1z M821 663h1v1h-1z M824 663h1v1h-1z M826 663h1v1h-1z M829 663h1v1h-1z M832 663h1v1h-1z M834 663h1v1h-1z M837 663h1v1h-1z M840 663h1v1h-1z M842 663h1v1h-1z M845 663h1v1h-1z M848 663h1v1h-1z M850 663h1v1h-1z M853 663h1v1h-1z M856 663h1v1h-1z M858 663h1v1h-1z M861 663h1v1h-1z M863 663h1v1h-1z M866 663h1v1h-1z M869 663h1v1h-1z M871 663h1v1h-1z M874 663h1v1h-1z M877 663h1v1h-1z M879 663h1v1h-1z M882 663h1v1h-1z M885 663h1v1h-1z M887 663h1v1h-1z M10 732h1v1h-1z M13 732h1v1h-1z M16 732h1v1h-1z M18 732h1v1h-1z M21 732h1v1h-1z M24 732h1v1h-1z M26 732h1v1h-1z M29 732h1v1h-1z M32 732h1v1h-1z M34 732h1v1h-1z M37 732h1v1h-1z M39 732h1v1h-1z M42 732h1v1h-1z M45 732h1v1h-1z M47 732h1v1h-1z M50 732h1v1h-1z M53 732h1v1h-1z M55 732h1v1h-1z M58 732h1v1h-1z M61 732h1v1h-1z M63 732h1v1h-1z M66 732h1v1h-1z M69 732h1v1h-1z M71 732h1v1h-1z M74 732h1v1h-1z M76 732h1v1h-1z M79 732h1v1h-1z M82 732h1v1h-1z M84 732h1v1h-1z M87 732h1v1h-1z M90 732h1v1h-1z M92 732h1v1h-1z M95 732h1v1h-1z M98 732h1v1h-1z M100 732h1v1h-1z M103 732h1v1h-1z M105 732h1v1h-1z M108 732h1v1h-1z M111 732h1v1h-1z M113 732h1v1h-1z M116 732h1v1h-1z M119 732h1v1h-1z M121 732h1v1h-1z M124 732h1v1h-1z M127 732h1v1h-1z M129 732h1v1h-1z M132 732h1v1h-1z M135 732h1v1h-1z M137 732h1v1h-1z M140 732h1v1h-1z M142 732h1v1h-1z M145 732h1v1h-1z M148 732h1v1h-1z M150 732h1v1h-1z M153 732h1v1h-1z M156 732h1v1h-1z M158 732h1v1h-1z M161 732h1v1h-1z M164 732h1v1h-1z M166 732h1v1h-1z M169 732h1v1h-1z M172 732h1v1h-1z M174 732h1v1h-1z M177 732h1v1h-1z M179 732h1v1h-1z M182 732h1v1h-1z M185 732h1v1h-1z M187 732h1v1h-1z M190 732h1v1h-1z M193 732h1v1h-1z M195 732h1v1h-1z M198 732h1v1h-1z M201 732h1v1h-1z M203 732h1v1h-1z M206 732h1v1h-1z M208 732h1v1h-1z M211 732h1v1h-1z M214 732h1v1h-1z M216 732h1v1h-1z M219 732h1v1h-1z M222 732h1v1h-1z M224 732h1v1h-1z M227 732h1v1h-1z M230 732h1v1h-1z M232 732h1v1h-1z M235 732h1v1h-1z M238 732h1v1h-1z M240 732h1v1h-1z M243 732h1v1h-1z M245 732h1v1h-1z M248 732h1v1h-1z M251 732h1v1h-1z M253 732h1v1h-1z M256 732h1v1h-1z M259 732h1v1h-1z M261 732h1v1h-1z M264 732h1v1h-1z M267 732h1v1h-1z M269 732h1v1h-1z M272 732h1v1h-1z M275 732h1v1h-1z M277 732h1v1h-1z M280 732h1v1h-1z M282 732h1v1h-1z M285 732h1v1h-1z M288 732h1v1h-1z M290 732h1v1h-1z M293 732h1v1h-1z M296 732h1v1h-1z M298 732h1v1h-1z M301 732h1v1h-1z M304 732h1v1h-1z M306 732h1v1h-1z M309 732h1v1h-1z M311 732h1v1h-1z M314 732h1v1h-1z M317 732h1v1h-1z M319 732h1v1h-1z M322 732h1v1h-1z M325 732h1v1h-1z M327 732h1v1h-1z M330 732h1v1h-1z M333 732h1v1h-1z M335 732h1v1h-1z M338 732h1v1h-1z M341 732h1v1h-1z M343 732h1v1h-1z M346 732h1v1h-1z M348 732h1v1h-1z M351 732h1v1h-1z M354 732h1v1h-1z M356 732h1v1h-1z M359 732h1v1h-1z M362 732h1v1h-1z M364 732h1v1h-1z M367 732h1v1h-1z M370 732h1v1h-1z M372 732h1v1h-1z M375 732h1v1h-1z M378 732h1v1h-1z M380 732h1v1h-1z M383 732h1v1h-1z M385 732h1v1h-1z M388 732h1v1h-1z M391 732h1v1h-1z M393 732h1v1h-1z M396 732h1v1h-1z M399 732h1v1h-1z M401 732h1v1h-1z M404 732h1v1h-1z M407 732h1v1h-1z M409 732h1v1h-1z M412 732h1v1h-1z M414 732h1v1h-1z M417 732h1v1h-1z M420 732h1v1h-1z M422 732h1v1h-1z M425 732h1v1h-1z M428 732h1v1h-1z M430 732h1v1h-1z M433 732h1v1h-1z M436 732h1v1h-1z M438 732h1v1h-1z M441 732h1v1h-1z M444 732h1v1h-1z M446 732h1v1h-1z M449 732h1v1h-1z M451 732h1v1h-1z M454 732h1v1h-1z M457 732h1v1h-1z M459 732h1v1h-1z M462 732h1v1h-1z M465 732h1v1h-1z M467 732h1v1h-1z M470 732h1v1h-1z M473 732h1v1h-1z M475 732h1v1h-1z M478 732h1v1h-1z M481 732h1v1h-1z M483 732h1v1h-1z M486 732h1v1h-1z M488 732h1v1h-1z M491 732h1v1h-1z M494 732h1v1h-1z M496 732h1v1h-1z M499 732h1v1h-1z M502 732h1v1h-1z M504 732h1v1h-1z M507 732h1v1h-1z M510 732h1v1h-1z M512 732h1v1h-1z M515 732h1v1h-1z M517 732h1v1h-1z M520 732h1v1h-1z M523 732h1v1h-1z M525 732h1v1h-1z M528 732h1v1h-1z M531 732h1v1h-1z M533 732h1v1h-1z M536 732h1v1h-1z M539 732h1v1h-1z M541 732h1v1h-1z M544 732h1v1h-1z M547 732h1v1h-1z M549 732h1v1h-1z M552 732h1v1h-1z M554 732h1v1h-1z M557 732h1v1h-1z M560 732h1v1h-1z M562 732h1v1h-1z M565 732h1v1h-1z M568 732h1v1h-1z M570 732h1v1h-1z M573 732h1v1h-1z M576 732h1v1h-1z M578 732h1v1h-1z M581 732h1v1h-1z M584 732h1v1h-1z M586 732h1v1h-1z M589 732h1v1h-1z M591 732h1v1h-1z M594 732h1v1h-1z M597 732h1v1h-1z M599 732h1v1h-1z M602 732h1v1h-1z M605 732h1v1h-1z M607 732h1v1h-1z M610 732h1v1h-1z M613 732h1v1h-1z M615 732h1v1h-1z M618 732h1v1h-1z M620 732h1v1h-1z M623 732h1v1h-1z M626 732h1v1h-1z M628 732h1v1h-1z M631 732h1v1h-1z M634 732h1v1h-1z M636 732h1v1h-1z M639 732h1v1h-1z M642 732h1v1h-1z M644 732h1v1h-1z M647 732h1v1h-1z M650 732h1v1h-1z M652 732h1v1h-1z M655 732h1v1h-1z M657 732h1v1h-1z M660 732h1v1h-1z M663 732h1v1h-1z M665 732h1v1h-1z M668 732h1v1h-1z M671 732h1v1h-1z M673 732h1v1h-1z M676 732h1v1h-1z M679 732h1v1h-1z M681 732h1v1h-1z M684 732h1v1h-1z M687 732h1v1h-1z M689 732h1v1h-1z M692 732h1v1h-1z M694 732h1v1h-1z M697 732h1v1h-1z M700 732h1v1h-1z M702 732h1v1h-1z M705 732h1v1h-1z M708 732h1v1h-1z M710 732h1v1h-1z M713 732h1v1h-1z M716 732h1v1h-1z M718 732h1v1h-1z M721 732h1v1h-1z M723 732h1v1h-1z M726 732h1v1h-1z M729 732h1v1h-1z M731 732h1v1h-1z M734 732h1v1h-1z M737 732h1v1h-1z M739 732h1v1h-1z M742 732h1v1h-1z M745 732h1v1h-1z M747 732h1v1h-1z M750 732h1v1h-1z M753 732h1v1h-1z M755 732h1v1h-1z M758 732h1v1h-1z M760 732h1v1h-1z M763 732h1v1h-1z M766 732h1v1h-1z M768 732h1v1h-1z M771 732h1v1h-1z M774 732h1v1h-1z M776 732h1v1h-1z M779 732h1v1h-1z M782 732h1v1h-1z M784 732h1v1h-1z M787 732h1v1h-1z M790 732h1v1h-1z M792 732h1v1h-1z M795 732h1v1h-1z M797 732h1v1h-1z M800 732h1v1h-1z M803 732h1v1h-1z M805 732h1v1h-1z M808 732h1v1h-1z M811 732h1v1h-1z M813 732h1v1h-1z M816 732h1v1h-1z M819 732h1v1h-1z M821 732h1v1h-1z M824 732h1v1h-1z M826 732h1v1h-1z M829 732h1v1h-1z M832 732h1v1h-1z M834 732h1v1h-1z M837 732h1v1h-1z M840 732h1v1h-1z M842 732h1v1h-1z M845 732h1v1h-1z M848 732h1v1h-1z M850 732h1v1h-1z M853 732h1v1h-1z M856 732h1v1h-1z M858 732h1v1h-1z M861 732h1v1h-1z M863 732h1v1h-1z M866 732h1v1h-1z M869 732h1v1h-1z M871 732h1v1h-1z M874 732h1v1h-1z M877 732h1v1h-1z M879 732h1v1h-1z M882 732h1v1h-1z M885 732h1v1h-1z M887 732h1v1h-1z M10 766h1v1h-1z M13 766h1v1h-1z M16 766h1v1h-1z M18 766h1v1h-1z M21 766h1v1h-1z M24 766h1v1h-1z M26 766h1v1h-1z M29 766h1v1h-1z M32 766h1v1h-1z M34 766h1v1h-1z M37 766h1v1h-1z M39 766h1v1h-1z M42 766h1v1h-1z M45 766h1v1h-1z M47 766h1v1h-1z M50 766h1v1h-1z M53 766h1v1h-1z M55 766h1v1h-1z M58 766h1v1h-1z M61 766h1v1h-1z M63 766h1v1h-1z M66 766h1v1h-1z M69 766h1v1h-1z M71 766h1v1h-1z M74 766h1v1h-1z M76 766h1v1h-1z M79 766h1v1h-1z M82 766h1v1h-1z M84 766h1v1h-1z M87 766h1v1h-1z M90 766h1v1h-1z M92 766h1v1h-1z M95 766h1v1h-1z M98 766h1v1h-1z M100 766h1v1h-1z M103 766h1v1h-1z M105 766h1v1h-1z M108 766h1v1h-1z M111 766h1v1h-1z M113 766h1v1h-1z M116 766h1v1h-1z M119 766h1v1h-1z M121 766h1v1h-1z M124 766h1v1h-1z M127 766h1v1h-1z M129 766h1v1h-1z M132 766h1v1h-1z M135 766h1v1h-1z M137 766h1v1h-1z M140 766h1v1h-1z M142 766h1v1h-1z M145 766h1v1h-1z M148 766h1v1h-1z M150 766h1v1h-1z M153 766h1v1h-1z M156 766h1v1h-1z M158 766h1v1h-1z M161 766h1v1h-1z M164 766h1v1h-1z M166 766h1v1h-1z M169 766h1v1h-1z M172 766h1v1h-1z M174 766h1v1h-1z M177 766h1v1h-1z M179 766h1v1h-1z M182 766h1v1h-1z M185 766h1v1h-1z M187 766h1v1h-1z M190 766h1v1h-1z M193 766h1v1h-1z M195 766h1v1h-1z M198 766h1v1h-1z M201 766h1v1h-1z M203 766h1v1h-1z M206 766h1v1h-1z M208 766h1v1h-1z M211 766h1v1h-1z M214 766h1v1h-1z M216 766h1v1h-1z M219 766h1v1h-1z M222 766h1v1h-1z M224 766h1v1h-1z M227 766h1v1h-1z M230 766h1v1h-1z M232 766h1v1h-1z M235 766h1v1h-1z M238 766h1v1h-1z M240 766h1v1h-1z M243 766h1v1h-1z M245 766h1v1h-1z M248 766h1v1h-1z M251 766h1v1h-1z M253 766h1v1h-1z M256 766h1v1h-1z M259 766h1v1h-1z M261 766h1v1h-1z M264 766h1v1h-1z M267 766h1v1h-1z M269 766h1v1h-1z M272 766h1v1h-1z M275 766h1v1h-1z M277 766h1v1h-1z M280 766h1v1h-1z M282 766h1v1h-1z M285 766h1v1h-1z M288 766h1v1h-1z M290 766h1v1h-1z M293 766h1v1h-1z M296 766h1v1h-1z M298 766h1v1h-1z M301 766h1v1h-1z M304 766h1v1h-1z M306 766h1v1h-1z M309 766h1v1h-1z M311 766h1v1h-1z M314 766h1v1h-1z M317 766h1v1h-1z M319 766h1v1h-1z M322 766h1v1h-1z M325 766h1v1h-1z M327 766h1v1h-1z M330 766h1v1h-1z M333 766h1v1h-1z M335 766h1v1h-1z M338 766h1v1h-1z M341 766h1v1h-1z M343 766h1v1h-1z M346 766h1v1h-1z M348 766h1v1h-1z M351 766h1v1h-1z M354 766h1v1h-1z M356 766h1v1h-1z M359 766h1v1h-1z M362 766h1v1h-1z M364 766h1v1h-1z M367 766h1v1h-1z M370 766h1v1h-1z M372 766h1v1h-1z M375 766h1v1h-1z M378 766h1v1h-1z M380 766h1v1h-1z M383 766h1v1h-1z M385 766h1v1h-1z M388 766h1v1h-1z M391 766h1v1h-1z M393 766h1v1h-1z M396 766h1v1h-1z M399 766h1v1h-1z M401 766h1v1h-1z M404 766h1v1h-1z M407 766h1v1h-1z M409 766h1v1h-1z M412 766h1v1h-1z M414 766h1v1h-1z M417 766h1v1h-1z M420 766h1v1h-1z M422 766h1v1h-1z M425 766h1v1h-1z M428 766h1v1h-1z M430 766h1v1h-1z M433 766h1v1h-1z M436 766h1v1h-1z M438 766h1v1h-1z M441 766h1v1h-1z M444 766h1v1h-1z M446 766h1v1h-1z M449 766h1v1h-1z M451 766h1v1h-1z M454 766h1v1h-1z M457 766h1v1h-1z M459 766h1v1h-1z M462 766h1v1h-1z M465 766h1v1h-1z M467 766h1v1h-1z M470 766h1v1h-1z M473 766h1v1h-1z M475 766h1v1h-1z M478 766h1v1h-1z M481 766h1v1h-1z M483 766h1v1h-1z M486 766h1v1h-1z M488 766h1v1h-1z M491 766h1v1h-1z M494 766h1v1h-1z M496 766h1v1h-1z M499 766h1v1h-1z M502 766h1v1h-1z M504 766h1v1h-1z M507 766h1v1h-1z M510 766h1v1h-1z M512 766h1v1h-1z M515 766h1v1h-1z M517 766h1v1h-1z M520 766h1v1h-1z M523 766h1v1h-1z M525 766h1v1h-1z M528 766h1v1h-1z M531 766h1v1h-1z M533 766h1v1h-1z M536 766h1v1h-1z M539 766h1v1h-1z M541 766h1v1h-1z M544 766h1v1h-1z M547 766h1v1h-1z M549 766h1v1h-1z M552 766h1v1h-1z M554 766h1v1h-1z M557 766h1v1h-1z M560 766h1v1h-1z M562 766h1v1h-1z M565 766h1v1h-1z M568 766h1v1h-1z M570 766h1v1h-1z M573 766h1v1h-1z M576 766h1v1h-1z M578 766h1v1h-1z M581 766h1v1h-1z M584 766h1v1h-1z M586 766h1v1h-1z M589 766h1v1h-1z M591 766h1v1h-1z M594 766h1v1h-1z M597 766h1v1h-1z M599 766h1v1h-1z M602 766h1v1h-1z M605 766h1v1h-1z M607 766h1v1h-1z M610 766h1v1h-1z M613 766h1v1h-1z M615 766h1v1h-1z M618 766h1v1h-1z M620 766h1v1h-1z M623 766h1v1h-1z M626 766h1v1h-1z M628 766h1v1h-1z M631 766h1v1h-1z M634 766h1v1h-1z M636 766h1v1h-1z M639 766h1v1h-1z M642 766h1v1h-1z M644 766h1v1h-1z M647 766h1v1h-1z M650 766h1v1h-1z M652 766h1v1h-1z M655 766h1v1h-1z M657 766h1v1h-1z M660 766h1v1h-1z M663 766h1v1h-1z M665 766h1v1h-1z M668 766h1v1h-1z M671 766h1v1h-1z M673 766h1v1h-1z M676 766h1v1h-1z M679 766h1v1h-1z M681 766h1v1h-1z M684 766h1v1h-1z M687 766h1v1h-1z M689 766h1v1h-1z M692 766h1v1h-1z M694 766h1v1h-1z M697 766h1v1h-1z M700 766h1v1h-1z M702 766h1v1h-1z M705 766h1v1h-1z M708 766h1v1h-1z M710 766h1v1h-1z M713 766h1v1h-1z M716 766h1v1h-1z M718 766h1v1h-1z M721 766h1v1h-1z M723 766h1v1h-1z M726 766h1v1h-1z M729 766h1v1h-1z M731 766h1v1h-1z M734 766h1v1h-1z M737 766h1v1h-1z M739 766h1v1h-1z M742 766h1v1h-1z M745 766h1v1h-1z M747 766h1v1h-1z M750 766h1v1h-1z M753 766h1v1h-1z M755 766h1v1h-1z M758 766h1v1h-1z M760 766h1v1h-1z M763 766h1v1h-1z M766 766h1v1h-1z M768 766h1v1h-1z M771 766h1v1h-1z M774 766h1v1h-1z M776 766h1v1h-1z M779 766h1v1h-1z M782 766h1v1h-1z M784 766h1v1h-1z M787 766h1v1h-1z M790 766h1v1h-1z M792 766h1v1h-1z M795 766h1v1h-1z M797 766h1v1h-1z M800 766h1v1h-1z M803 766h1v1h-1z M805 766h1v1h-1z M808 766h1v1h-1z M811 766h1v1h-1z M813 766h1v1h-1z M816 766h1v1h-1z M819 766h1v1h-1z M821 766h1v1h-1z M824 766h1v1h-1z M826 766h1v1h-1z M829 766h1v1h-1z M832 766h1v1h-1z M834 766h1v1h-1z M837 766h1v1h-1z M840 766h1v1h-1z M842 766h1v1h-1z M845 766h1v1h-1z M848 766h1v1h-1z M850 766h1v1h-1z M853 766h1v1h-1z M856 766h1v1h-1z M858 766h1v1h-1z M861 766h1v1h-1z M863 766h1v1h-1z M866 766h1v1h-1z M869 766h1v1h-1z M871 766h1v1h-1z M874 766h1v1h-1z M877 766h1v1h-1z M879 766h1v1h-1z M882 766h1v1h-1z M885 766h1v1h-1z M887 766h1v1h-1z M10 800h1v1h-1z M13 800h1v1h-1z M16 800h1v1h-1z M18 800h1v1h-1z M21 800h1v1h-1z M24 800h1v1h-1z M26 800h1v1h-1z M29 800h1v1h-1z M32 800h1v1h-1z M34 800h1v1h-1z M37 800h1v1h-1z M39 800h1v1h-1z M42 800h1v1h-1z M45 800h1v1h-1z M47 800h1v1h-1z M50 800h1v1h-1z M53 800h1v1h-1z M55 800h1v1h-1z M58 800h1v1h-1z M61 800h1v1h-1z M63 800h1v1h-1z M66 800h1v1h-1z M69 800h1v1h-1z M71 800h1v1h-1z M74 800h1v1h-1z M76 800h1v1h-1z M79 800h1v1h-1z M82 800h1v1h-1z M84 800h1v1h-1z M87 800h1v1h-1z M90 800h1v1h-1z M92 800h1v1h-1z M95 800h1v1h-1z M98 800h1v1h-1z M100 800h1v1h-1z M103 800h1v1h-1z M105 800h1v1h-1z M108 800h1v1h-1z M111 800h1v1h-1z M113 800h1v1h-1z M116 800h1v1h-1z M119 800h1v1h-1z M121 800h1v1h-1z M124 800h1v1h-1z M127 800h1v1h-1z M129 800h1v1h-1z M132 800h1v1h-1z M135 800h1v1h-1z M137 800h1v1h-1z M140 800h1v1h-1z M142 800h1v1h-1z M145 800h1v1h-1z M148 800h1v1h-1z M150 800h1v1h-1z M153 800h1v1h-1z M156 800h1v1h-1z M158 800h1v1h-1z M161 800h1v1h-1z M164 800h1v1h-1z M166 800h1v1h-1z M169 800h1v1h-1z M172 800h1v1h-1z M174 800h1v1h-1z M177 800h1v1h-1z M179 800h1v1h-1z M182 800h1v1h-1z M185 800h1v1h-1z M187 800h1v1h-1z M190 800h1v1h-1z M193 800h1v1h-1z M195 800h1v1h-1z M198 800h1v1h-1z M201 800h1v1h-1z M203 800h1v1h-1z M206 800h1v1h-1z M208 800h1v1h-1z M211 800h1v1h-1z M214 800h1v1h-1z M216 800h1v1h-1z M219 800h1v1h-1z M222 800h1v1h-1z M224 800h1v1h-1z M227 800h1v1h-1z M230 800h1v1h-1z M232 800h1v1h-1z M235 800h1v1h-1z M238 800h1v1h-1z M240 800h1v1h-1z M243 800h1v1h-1z M245 800h1v1h-1z M248 800h1v1h-1z M251 800h1v1h-1z M253 800h1v1h-1z M256 800h1v1h-1z M259 800h1v1h-1z M261 800h1v1h-1z M264 800h1v1h-1z M267 800h1v1h-1z M269 800h1v1h-1z M272 800h1v1h-1z M275 800h1v1h-1z M277 800h1v1h-1z M280 800h1v1h-1z M282 800h1v1h-1z M285 800h1v1h-1z M288 800h1v1h-1z M290 800h1v1h-1z M293 800h1v1h-1z M296 800h1v1h-1z M298 800h1v1h-1z M301 800h1v1h-1z M304 800h1v1h-1z M306 800h1v1h-1z M309 800h1v1h-1z M311 800h1v1h-1z M314 800h1v1h-1z M317 800h1v1h-1z M319 800h1v1h-1z M322 800h1v1h-1z M325 800h1v1h-1z M327 800h1v1h-1z M330 800h1v1h-1z M333 800h1v1h-1z M335 800h1v1h-1z M338 800h1v1h-1z M341 800h1v1h-1z M343 800h1v1h-1z M346 800h1v1h-1z M348 800h1v1h-1z M351 800h1v1h-1z M354 800h1v1h-1z M356 800h1v1h-1z M359 800h1v1h-1z M362 800h1v1h-1z M364 800h1v1h-1z M367 800h1v1h-1z M370 800h1v1h-1z M372 800h1v1h-1z M375 800h1v1h-1z M378 800h1v1h-1z M380 800h1v1h-1z M383 800h1v1h-1z M385 800h1v1h-1z M388 800h1v1h-1z M391 800h1v1h-1z M393 800h1v1h-1z M396 800h1v1h-1z M399 800h1v1h-1z M401 800h1v1h-1z M404 800h1v1h-1z M407 800h1v1h-1z M409 800h1v1h-1z M412 800h1v1h-1z M414 800h1v1h-1z M417 800h1v1h-1z M420 800h1v1h-1z M422 800h1v1h-1z M425 800h1v1h-1z M428 800h1v1h-1z M430 800h1v1h-1z M433 800h1v1h-1z M436 800h1v1h-1z M438 800h1v1h-1z M441 800h1v1h-1z M444 800h1v1h-1z M446 800h1v1h-1z M449 800h1v1h-1z M451 800h1v1h-1z M454 800h1v1h-1z M457 800h1v1h-1z M459 800h1v1h-1z M462 800h1v1h-1z M465 800h1v1h-1z M467 800h1v1h-1z M470 800h1v1h-1z M473 800h1v1h-1z M475 800h1v1h-1z M478 800h1v1h-1z M481 800h1v1h-1z M483 800h1v1h-1z M486 800h1v1h-1z M488 800h1v1h-1z M491 800h1v1h-1z M494 800h1v1h-1z M496 800h1v1h-1z M499 800h1v1h-1z M502 800h1v1h-1z M504 800h1v1h-1z M507 800h1v1h-1z M510 800h1v1h-1z M512 800h1v1h-1z M515 800h1v1h-1z M517 800h1v1h-1z M520 800h1v1h-1z M523 800h1v1h-1z M525 800h1v1h-1z M528 800h1v1h-1z M531 800h1v1h-1z M533 800h1v1h-1z M536 800h1v1h-1z M539 800h1v1h-1z M541 800h1v1h-1z M544 800h1v1h-1z M547 800h1v1h-1z M549 800h1v1h-1z M552 800h1v1h-1z M554 800h1v1h-1z M557 800h1v1h-1z M560 800h1v1h-1z M562 800h1v1h-1z M565 800h1v1h-1z M568 800h1v1h-1z M570 800h1v1h-1z M573 800h1v1h-1z M576 800h1v1h-1z M578 800h1v1h-1z M581 800h1v1h-1z M584 800h1v1h-1z M586 800h1v1h-1z M589 800h1v1h-1z M591 800h1v1h-1z M594 800h1v1h-1z M597 800h1v1h-1z M599 800h1v1h-1z M602 800h1v1h-1z M605 800h1v1h-1z M607 800h1v1h-1z M610 800h1v1h-1z M613 800h1v1h-1z M615 800h1v1h-1z M618 800h1v1h-1z M620 800h1v1h-1z M623 800h1v1h-1z M626 800h1v1h-1z M628 800h1v1h-1z M631 800h1v1h-1z M634 800h1v1h-1z M636 800h1v1h-1z M639 800h1v1h-1z M642 800h1v1h-1z M644 800h1v1h-1z M647 800h1v1h-1z M650 800h1v1h-1z M652 800h1v1h-1z M655 800h1v1h-1z M657 800h1v1h-1z M660 800h1v1h-1z M663 800h1v1h-1z M665 800h1v1h-1z M668 800h1v1h-1z M671 800h1v1h-1z M673 800h1v1h-1z M676 800h1v1h-1z M679 800h1v1h-1z M681 800h1v1h-1z M684 800h1v1h-1z M687 800h1v1h-1z M689 800h1v1h-1z M692 800h1v1h-1z M694 800h1v1h-1z M697 800h1v1h-1z M700 800h1v1h-1z M702 800h1v1h-1z M705 800h1v1h-1z M708 800h1v1h-1z M710 800h1v1h-1z M713 800h1v1h-1z M716 800h1v1h-1z M718 800h1v1h-1z M721 800h1v1h-1z M723 800h1v1h-1z M726 800h1v1h-1z M729 800h1v1h-1z M731 800h1v1h-1z M734 800h1v1h-1z M737 800h1v1h-1z M739 800h1v1h-1z M742 800h1v1h-1z M745 800h1v1h-1z M747 800h1v1h-1z M750 800h1v1h-1z M753 800h1v1h-1z M755 800h1v1h-1z M758 800h1v1h-1z M760 800h1v1h-1z M763 800h1v1h-1z M766 800h1v1h-1z M768 800h1v1h-1z M771 800h1v1h-1z M774 800h1v1h-1z M776 800h1v1h-1z M779 800h1v1h-1z M782 800h1v1h-1z M784 800h1v1h-1z M787 800h1v1h-1z M790 800h1v1h-1z M792 800h1v1h-1z M795 800h1v1h-1z M797 800h1v1h-1z M800 800h1v1h-1z M803 800h1v1h-1z M805 800h1v1h-1z M808 800h1v1h-1z M811 800h1v1h-1z M813 800h1v1h-1z M816 800h1v1h-1z M819 800h1v1h-1z M821 800h1v1h-1z M824 800h1v1h-1z M826 800h1v1h-1z M829 800h1v1h-1z M832 800h1v1h-1z M834 800h1v1h-1z M837 800h1v1h-1z M840 800h1v1h-1z M842 800h1v1h-1z M845 800h1v1h-1z M848 800h1v1h-1z M850 800h1v1h-1z M853 800h1v1h-1z M856 800h1v1h-1z M858 800h1v1h-1z M861 800h1v1h-1z M863 800h1v1h-1z M866 800h1v1h-1z M869 800h1v1h-1z M871 800h1v1h-1z M874 800h1v1h-1z M877 800h1v1h-1z M879 800h1v1h-1z M882 800h1v1h-1z M885 800h1v1h-1z M887 800h1v1h-1z M18 793h1v1h-1z M31 793h1v1h-1z M41 793h1v1h-1z M55 793h1v1h-1z M68 793h1v1h-1z M81 793h1v1h-1z M94 793h1v1h-1z M108 793h1v1h-1z M121 793h1v1h-1z M132 793h1v1h-1z M145 793h1v1h-1z M153 793h1v1h-1z M169 793h1v1h-1z M182 793h1v1h-1z M195 793h1v1h-1z M208 793h1v1h-1z M222 793h1v1h-1z M235 793h1v1h-1z M251 793h1v1h-1z M262 793h1v1h-1z M276 793h1v1h-1z M288 793h1v1h-1z M301 793h1v1h-1z M314 793h1v1h-1z M330 793h1v1h-1z M337 793h1v1h-1z M352 793h1v1h-1z M365 793h1v1h-1z M378 793h1v1h-1z M391 793h1v1h-1z M405 793h1v1h-1z M418 793h1v1h-1z M431 793h1v1h-1z M444 793h1v1h-1z M457 793h1v1h-1z M471 793h1v1h-1z M484 793h1v1h-1z M498 793h1v1h-1z M511 793h1v1h-1z M524 793h1v1h-1z M537 793h1v1h-1z M550 793h1v1h-1z M564 793h1v1h-1z M577 793h1v1h-1z M590 793h1v1h-1z M603 793h1v1h-1z M614 793h1v1h-1z M627 793h1v1h-1z M640 793h1v1h-1z M654 793h1v1h-1z M667 793h1v1h-1z M680 793h1v1h-1z M693 793h1v1h-1z M705 793h1v1h-1z M717 793h1v1h-1z M730 793h1v1h-1z M744 793h1v1h-1z M757 793h1v1h-1z M771 793h1v1h-1z M783 793h1v1h-1z M797 793h1v1h-1z M810 793h1v1h-1z M821 793h1v1h-1z M834 793h1v1h-1z M847 793h1v1h-1z M860 793h1v1h-1z M874 793h1v1h-1z M887 793h1v1h-1z M18 786h1v1h-1z M31 786h1v1h-1z M41 786h1v1h-1z M55 786h1v1h-1z M68 786h1v1h-1z M81 786h1v1h-1z M94 786h1v1h-1z M108 786h1v1h-1z M121 786h1v1h-1z M132 786h1v1h-1z M145 786h1v1h-1z M153 786h1v1h-1z M169 786h1v1h-1z M182 786h1v1h-1z M195 786h1v1h-1z M208 786h1v1h-1z M222 786h1v1h-1z M235 786h1v1h-1z M251 786h1v1h-1z M262 786h1v1h-1z M276 786h1v1h-1z M288 786h1v1h-1z M301 786h1v1h-1z M314 786h1v1h-1z M330 786h1v1h-1z M337 786h1v1h-1z M352 786h1v1h-1z M365 786h1v1h-1z M378 786h1v1h-1z M391 786h1v1h-1z M405 786h1v1h-1z M418 786h1v1h-1z M431 786h1v1h-1z M444 786h1v1h-1z M457 786h1v1h-1z M471 786h1v1h-1z M484 786h1v1h-1z M498 786h1v1h-1z M511 786h1v1h-1z M524 786h1v1h-1z M537 786h1v1h-1z M550 786h1v1h-1z M564 786h1v1h-1z M577 786h1v1h-1z M590 786h1v1h-1z M603 786h1v1h-1z M614 786h1v1h-1z M627 786h1v1h-1z M640 786h1v1h-1z M654 786h1v1h-1z M667 786h1v1h-1z M680 786h1v1h-1z M693 786h1v1h-1z M705 786h1v1h-1z M717 786h1v1h-1z M730 786h1v1h-1z M744 786h1v1h-1z M757 786h1v1h-1z M771 786h1v1h-1z M783 786h1v1h-1z M797 786h1v1h-1z M810 786h1v1h-1z M821 786h1v1h-1z M834 786h1v1h-1z M847 786h1v1h-1z M860 786h1v1h-1z M874 786h1v1h-1z M887 786h1v1h-1z M18 779h1v1h-1z M31 779h1v1h-1z M41 779h1v1h-1z M55 779h1v1h-1z M68 779h1v1h-1z M81 779h1v1h-1z M94 779h1v1h-1z M108 779h1v1h-1z M121 779h1v1h-1z M132 779h1v1h-1z M145 779h1v1h-1z M153 779h1v1h-1z M169 779h1v1h-1z M182 779h1v1h-1z M195 779h1v1h-1z M208 779h1v1h-1z M222 779h1v1h-1z M235 779h1v1h-1z M251 779h1v1h-1z M262 779h1v1h-1z M276 779h1v1h-1z M288 779h1v1h-1z M301 779h1v1h-1z M314 779h1v1h-1z M330 779h1v1h-1z M337 779h1v1h-1z M352 779h1v1h-1z M365 779h1v1h-1z M378 779h1v1h-1z M391 779h1v1h-1z M405 779h1v1h-1z M418 779h1v1h-1z M431 779h1v1h-1z M444 779h1v1h-1z M457 779h1v1h-1z M471 779h1v1h-1z M484 779h1v1h-1z M498 779h1v1h-1z M511 779h1v1h-1z M524 779h1v1h-1z M537 779h1v1h-1z M550 779h1v1h-1z M564 779h1v1h-1z M577 779h1v1h-1z M590 779h1v1h-1z M603 779h1v1h-1z M614 779h1v1h-1z M627 779h1v1h-1z M640 779h1v1h-1z M654 779h1v1h-1z M667 779h1v1h-1z M680 779h1v1h-1z M693 779h1v1h-1z M705 779h1v1h-1z M717 779h1v1h-1z M730 779h1v1h-1z M744 779h1v1h-1z M757 779h1v1h-1z M771 779h1v1h-1z M783 779h1v1h-1z M797 779h1v1h-1z M810 779h1v1h-1z M821 779h1v1h-1z M834 779h1v1h-1z M847 779h1v1h-1z M860 779h1v1h-1z M874 779h1v1h-1z M887 779h1v1h-1z M18 773h1v1h-1z M31 773h1v1h-1z M41 773h1v1h-1z M55 773h1v1h-1z M68 773h1v1h-1z M81 773h1v1h-1z M94 773h1v1h-1z M108 773h1v1h-1z M121 773h1v1h-1z M132 773h1v1h-1z M145 773h1v1h-1z M153 773h1v1h-1z M169 773h1v1h-1z M182 773h1v1h-1z M195 773h1v1h-1z M208 773h1v1h-1z M222 773h1v1h-1z M235 773h1v1h-1z M251 773h1v1h-1z M262 773h1v1h-1z M276 773h1v1h-1z M288 773h1v1h-1z M301 773h1v1h-1z M314 773h1v1h-1z M330 773h1v1h-1z M337 773h1v1h-1z M352 773h1v1h-1z M365 773h1v1h-1z M378 773h1v1h-1z M391 773h1v1h-1z M405 773h1v1h-1z M418 773h1v1h-1z M431 773h1v1h-1z M444 773h1v1h-1z M457 773h1v1h-1z M471 773h1v1h-1z M484 773h1v1h-1z M498 773h1v1h-1z M511 773h1v1h-1z M524 773h1v1h-1z M537 773h1v1h-1z M550 773h1v1h-1z M564 773h1v1h-1z M577 773h1v1h-1z M590 773h1v1h-1z M603 773h1v1h-1z M614 773h1v1h-1z M627 773h1v1h-1z M640 773h1v1h-1z M654 773h1v1h-1z M667 773h1v1h-1z M680 773h1v1h-1z M693 773h1v1h-1z M705 773h1v1h-1z M717 773h1v1h-1z M730 773h1v1h-1z M744 773h1v1h-1z M757 773h1v1h-1z M771 773h1v1h-1z M783 773h1v1h-1z M797 773h1v1h-1z M810 773h1v1h-1z M821 773h1v1h-1z M834 773h1v1h-1z M847 773h1v1h-1z M860 773h1v1h-1z M874 773h1v1h-1z M887 773h1v1h-1z M18 759h1v1h-1z M31 759h1v1h-1z M41 759h1v1h-1z M55 759h1v1h-1z M68 759h1v1h-1z M81 759h1v1h-1z M94 759h1v1h-1z M108 759h1v1h-1z M121 759h1v1h-1z M132 759h1v1h-1z M145 759h1v1h-1z M153 759h1v1h-1z M169 759h1v1h-1z M182 759h1v1h-1z M195 759h1v1h-1z M208 759h1v1h-1z M222 759h1v1h-1z M235 759h1v1h-1z M251 759h1v1h-1z M262 759h1v1h-1z M276 759h1v1h-1z M288 759h1v1h-1z M301 759h1v1h-1z M314 759h1v1h-1z M330 759h1v1h-1z M337 759h1v1h-1z M352 759h1v1h-1z M365 759h1v1h-1z M378 759h1v1h-1z M391 759h1v1h-1z M405 759h1v1h-1z M418 759h1v1h-1z M431 759h1v1h-1z M444 759h1v1h-1z M457 759h1v1h-1z M471 759h1v1h-1z M484 759h1v1h-1z M498 759h1v1h-1z M511 759h1v1h-1z M524 759h1v1h-1z M537 759h1v1h-1z M550 759h1v1h-1z M564 759h1v1h-1z M577 759h1v1h-1z M590 759h1v1h-1z M603 759h1v1h-1z M614 759h1v1h-1z M627 759h1v1h-1z M640 759h1v1h-1z M654 759h1v1h-1z M667 759h1v1h-1z M680 759h1v1h-1z M693 759h1v1h-1z M705 759h1v1h-1z M717 759h1v1h-1z M730 759h1v1h-1z M744 759h1v1h-1z M757 759h1v1h-1z M771 759h1v1h-1z M783 759h1v1h-1z M797 759h1v1h-1z M810 759h1v1h-1z M821 759h1v1h-1z M834 759h1v1h-1z M847 759h1v1h-1z M860 759h1v1h-1z M874 759h1v1h-1z M887 759h1v1h-1z M18 752h1v1h-1z M31 752h1v1h-1z M41 752h1v1h-1z M55 752h1v1h-1z M68 752h1v1h-1z M81 752h1v1h-1z M94 752h1v1h-1z M108 752h1v1h-1z M121 752h1v1h-1z M132 752h1v1h-1z M145 752h1v1h-1z M153 752h1v1h-1z M169 752h1v1h-1z M182 752h1v1h-1z M195 752h1v1h-1z M208 752h1v1h-1z M222 752h1v1h-1z M235 752h1v1h-1z M251 752h1v1h-1z M262 752h1v1h-1z M276 752h1v1h-1z M288 752h1v1h-1z M301 752h1v1h-1z M314 752h1v1h-1z M330 752h1v1h-1z M337 752h1v1h-1z M352 752h1v1h-1z M365 752h1v1h-1z M378 752h1v1h-1z M391 752h1v1h-1z M405 752h1v1h-1z M418 752h1v1h-1z M431 752h1v1h-1z M444 752h1v1h-1z M457 752h1v1h-1z M471 752h1v1h-1z M484 752h1v1h-1z M498 752h1v1h-1z M511 752h1v1h-1z M524 752h1v1h-1z M537 752h1v1h-1z M550 752h1v1h-1z M564 752h1v1h-1z M577 752h1v1h-1z M590 752h1v1h-1z M603 752h1v1h-1z M614 752h1v1h-1z M627 752h1v1h-1z M640 752h1v1h-1z M654 752h1v1h-1z M667 752h1v1h-1z M680 752h1v1h-1z M693 752h1v1h-1z M705 752h1v1h-1z M717 752h1v1h-1z M730 752h1v1h-1z M744 752h1v1h-1z M757 752h1v1h-1z M771 752h1v1h-1z M783 752h1v1h-1z M797 752h1v1h-1z M810 752h1v1h-1z M821 752h1v1h-1z M834 752h1v1h-1z M847 752h1v1h-1z M860 752h1v1h-1z M874 752h1v1h-1z M887 752h1v1h-1z M18 745h1v1h-1z M31 745h1v1h-1z M41 745h1v1h-1z M55 745h1v1h-1z M68 745h1v1h-1z M81 745h1v1h-1z M94 745h1v1h-1z M108 745h1v1h-1z M121 745h1v1h-1z M132 745h1v1h-1z M145 745h1v1h-1z M153 745h1v1h-1z M169 745h1v1h-1z M182 745h1v1h-1z M195 745h1v1h-1z M208 745h1v1h-1z M222 745h1v1h-1z M235 745h1v1h-1z M251 745h1v1h-1z M262 745h1v1h-1z M276 745h1v1h-1z M288 745h1v1h-1z M301 745h1v1h-1z M314 745h1v1h-1z M330 745h1v1h-1z M337 745h1v1h-1z M352 745h1v1h-1z M365 745h1v1h-1z M378 745h1v1h-1z M391 745h1v1h-1z M405 745h1v1h-1z M418 745h1v1h-1z M431 745h1v1h-1z M444 745h1v1h-1z M457 745h1v1h-1z M471 745h1v1h-1z M484 745h1v1h-1z M498 745h1v1h-1z M511 745h1v1h-1z M524 745h1v1h-1z M537 745h1v1h-1z M550 745h1v1h-1z M564 745h1v1h-1z M577 745h1v1h-1z M590 745h1v1h-1z M603 745h1v1h-1z M614 745h1v1h-1z M627 745h1v1h-1z M640 745h1v1h-1z M654 745h1v1h-1z M667 745h1v1h-1z M680 745h1v1h-1z M693 745h1v1h-1z M705 745h1v1h-1z M717 745h1v1h-1z M730 745h1v1h-1z M744 745h1v1h-1z M757 745h1v1h-1z M771 745h1v1h-1z M783 745h1v1h-1z M797 745h1v1h-1z M810 745h1v1h-1z M821 745h1v1h-1z M834 745h1v1h-1z M847 745h1v1h-1z M860 745h1v1h-1z M874 745h1v1h-1z M887 745h1v1h-1z M18 739h1v1h-1z M31 739h1v1h-1z M41 739h1v1h-1z M55 739h1v1h-1z M68 739h1v1h-1z M81 739h1v1h-1z M94 739h1v1h-1z M108 739h1v1h-1z M121 739h1v1h-1z M132 739h1v1h-1z M145 739h1v1h-1z M153 739h1v1h-1z M169 739h1v1h-1z M182 739h1v1h-1z M195 739h1v1h-1z M208 739h1v1h-1z M222 739h1v1h-1z M235 739h1v1h-1z M251 739h1v1h-1z M262 739h1v1h-1z M276 739h1v1h-1z M288 739h1v1h-1z M301 739h1v1h-1z M314 739h1v1h-1z M330 739h1v1h-1z M337 739h1v1h-1z M352 739h1v1h-1z M365 739h1v1h-1z M378 739h1v1h-1z M391 739h1v1h-1z M405 739h1v1h-1z M418 739h1v1h-1z M431 739h1v1h-1z M444 739h1v1h-1z M457 739h1v1h-1z M471 739h1v1h-1z M484 739h1v1h-1z M498 739h1v1h-1z M511 739h1v1h-1z M524 739h1v1h-1z M537 739h1v1h-1z M550 739h1v1h-1z M564 739h1v1h-1z M577 739h1v1h-1z M590 739h1v1h-1z M603 739h1v1h-1z M614 739h1v1h-1z M627 739h1v1h-1z M640 739h1v1h-1z M654 739h1v1h-1z M667 739h1v1h-1z M680 739h1v1h-1z M693 739h1v1h-1z M705 739h1v1h-1z M717 739h1v1h-1z M730 739h1v1h-1z M744 739h1v1h-1z M757 739h1v1h-1z M771 739h1v1h-1z M783 739h1v1h-1z M797 739h1v1h-1z M810 739h1v1h-1z M821 739h1v1h-1z M834 739h1v1h-1z M847 739h1v1h-1z M860 739h1v1h-1z M874 739h1v1h-1z M887 739h1v1h-1z M18 725h1v1h-1z M31 725h1v1h-1z M41 725h1v1h-1z M55 725h1v1h-1z M68 725h1v1h-1z M81 725h1v1h-1z M94 725h1v1h-1z M108 725h1v1h-1z M121 725h1v1h-1z M132 725h1v1h-1z M145 725h1v1h-1z M153 725h1v1h-1z M169 725h1v1h-1z M182 725h1v1h-1z M195 725h1v1h-1z M208 725h1v1h-1z M222 725h1v1h-1z M235 725h1v1h-1z M251 725h1v1h-1z M262 725h1v1h-1z M276 725h1v1h-1z M288 725h1v1h-1z M301 725h1v1h-1z M314 725h1v1h-1z M330 725h1v1h-1z M337 725h1v1h-1z M352 725h1v1h-1z M365 725h1v1h-1z M378 725h1v1h-1z M391 725h1v1h-1z M405 725h1v1h-1z M418 725h1v1h-1z M431 725h1v1h-1z M444 725h1v1h-1z M457 725h1v1h-1z M471 725h1v1h-1z M484 725h1v1h-1z M498 725h1v1h-1z M511 725h1v1h-1z M524 725h1v1h-1z M537 725h1v1h-1z M550 725h1v1h-1z M564 725h1v1h-1z M577 725h1v1h-1z M590 725h1v1h-1z M603 725h1v1h-1z M614 725h1v1h-1z M627 725h1v1h-1z M640 725h1v1h-1z M654 725h1v1h-1z M667 725h1v1h-1z M680 725h1v1h-1z M693 725h1v1h-1z M705 725h1v1h-1z M717 725h1v1h-1z M730 725h1v1h-1z M744 725h1v1h-1z M757 725h1v1h-1z M771 725h1v1h-1z M783 725h1v1h-1z M797 725h1v1h-1z M810 725h1v1h-1z M821 725h1v1h-1z M834 725h1v1h-1z M847 725h1v1h-1z M860 725h1v1h-1z M874 725h1v1h-1z M887 725h1v1h-1z M18 718h1v1h-1z M31 718h1v1h-1z M41 718h1v1h-1z M55 718h1v1h-1z M68 718h1v1h-1z M81 718h1v1h-1z M94 718h1v1h-1z M108 718h1v1h-1z M121 718h1v1h-1z M132 718h1v1h-1z M145 718h1v1h-1z M153 718h1v1h-1z M169 718h1v1h-1z M182 718h1v1h-1z M195 718h1v1h-1z M208 718h1v1h-1z M222 718h1v1h-1z M235 718h1v1h-1z M251 718h1v1h-1z M262 718h1v1h-1z M276 718h1v1h-1z M288 718h1v1h-1z M301 718h1v1h-1z M314 718h1v1h-1z M330 718h1v1h-1z M337 718h1v1h-1z M352 718h1v1h-1z M365 718h1v1h-1z M378 718h1v1h-1z M391 718h1v1h-1z M405 718h1v1h-1z M418 718h1v1h-1z M431 718h1v1h-1z M444 718h1v1h-1z M457 718h1v1h-1z M471 718h1v1h-1z M484 718h1v1h-1z M498 718h1v1h-1z M511 718h1v1h-1z M524 718h1v1h-1z M537 718h1v1h-1z M550 718h1v1h-1z M564 718h1v1h-1z M577 718h1v1h-1z M590 718h1v1h-1z M603 718h1v1h-1z M614 718h1v1h-1z M627 718h1v1h-1z M640 718h1v1h-1z M654 718h1v1h-1z M667 718h1v1h-1z M680 718h1v1h-1z M693 718h1v1h-1z M705 718h1v1h-1z M717 718h1v1h-1z M730 718h1v1h-1z M744 718h1v1h-1z M757 718h1v1h-1z M771 718h1v1h-1z M783 718h1v1h-1z M797 718h1v1h-1z M810 718h1v1h-1z M821 718h1v1h-1z M834 718h1v1h-1z M847 718h1v1h-1z M860 718h1v1h-1z M874 718h1v1h-1z M887 718h1v1h-1z M18 711h1v1h-1z M31 711h1v1h-1z M41 711h1v1h-1z M55 711h1v1h-1z M68 711h1v1h-1z M81 711h1v1h-1z M94 711h1v1h-1z M108 711h1v1h-1z M121 711h1v1h-1z M132 711h1v1h-1z M145 711h1v1h-1z M153 711h1v1h-1z M169 711h1v1h-1z M182 711h1v1h-1z M195 711h1v1h-1z M208 711h1v1h-1z M222 711h1v1h-1z M235 711h1v1h-1z M251 711h1v1h-1z M262 711h1v1h-1z M276 711h1v1h-1z M288 711h1v1h-1z M301 711h1v1h-1z M314 711h1v1h-1z M330 711h1v1h-1z M337 711h1v1h-1z M352 711h1v1h-1z M365 711h1v1h-1z M378 711h1v1h-1z M391 711h1v1h-1z M405 711h1v1h-1z M418 711h1v1h-1z M431 711h1v1h-1z M444 711h1v1h-1z M457 711h1v1h-1z M471 711h1v1h-1z M484 711h1v1h-1z M498 711h1v1h-1z M511 711h1v1h-1z M524 711h1v1h-1z M537 711h1v1h-1z M550 711h1v1h-1z M564 711h1v1h-1z M577 711h1v1h-1z M590 711h1v1h-1z M603 711h1v1h-1z M614 711h1v1h-1z M627 711h1v1h-1z M640 711h1v1h-1z M654 711h1v1h-1z M667 711h1v1h-1z M680 711h1v1h-1z M693 711h1v1h-1z M705 711h1v1h-1z M717 711h1v1h-1z M730 711h1v1h-1z M744 711h1v1h-1z M757 711h1v1h-1z M771 711h1v1h-1z M783 711h1v1h-1z M797 711h1v1h-1z M810 711h1v1h-1z M821 711h1v1h-1z M834 711h1v1h-1z M847 711h1v1h-1z M860 711h1v1h-1z M874 711h1v1h-1z M887 711h1v1h-1z M18 705h1v1h-1z M31 705h1v1h-1z M41 705h1v1h-1z M55 705h1v1h-1z M68 705h1v1h-1z M81 705h1v1h-1z M94 705h1v1h-1z M108 705h1v1h-1z M121 705h1v1h-1z M132 705h1v1h-1z M145 705h1v1h-1z M153 705h1v1h-1z M169 705h1v1h-1z M182 705h1v1h-1z M195 705h1v1h-1z M208 705h1v1h-1z M222 705h1v1h-1z M235 705h1v1h-1z M251 705h1v1h-1z M262 705h1v1h-1z M276 705h1v1h-1z M288 705h1v1h-1z M301 705h1v1h-1z M314 705h1v1h-1z M330 705h1v1h-1z M337 705h1v1h-1z M352 705h1v1h-1z M365 705h1v1h-1z M378 705h1v1h-1z M391 705h1v1h-1z M405 705h1v1h-1z M418 705h1v1h-1z M431 705h1v1h-1z M444 705h1v1h-1z M457 705h1v1h-1z M471 705h1v1h-1z M484 705h1v1h-1z M498 705h1v1h-1z M511 705h1v1h-1z M524 705h1v1h-1z M537 705h1v1h-1z M550 705h1v1h-1z M564 705h1v1h-1z M577 705h1v1h-1z M590 705h1v1h-1z M603 705h1v1h-1z M614 705h1v1h-1z M627 705h1v1h-1z M640 705h1v1h-1z M654 705h1v1h-1z M667 705h1v1h-1z M680 705h1v1h-1z M693 705h1v1h-1z M705 705h1v1h-1z M717 705h1v1h-1z M730 705h1v1h-1z M744 705h1v1h-1z M757 705h1v1h-1z M771 705h1v1h-1z M783 705h1v1h-1z M797 705h1v1h-1z M810 705h1v1h-1z M821 705h1v1h-1z M834 705h1v1h-1z M847 705h1v1h-1z M860 705h1v1h-1z M874 705h1v1h-1z M887 705h1v1h-1z M18 691h1v1h-1z M31 691h1v1h-1z M41 691h1v1h-1z M55 691h1v1h-1z M68 691h1v1h-1z M81 691h1v1h-1z M94 691h1v1h-1z M108 691h1v1h-1z M121 691h1v1h-1z M132 691h1v1h-1z M145 691h1v1h-1z M153 691h1v1h-1z M169 691h1v1h-1z M182 691h1v1h-1z M195 691h1v1h-1z M208 691h1v1h-1z M222 691h1v1h-1z M235 691h1v1h-1z M251 691h1v1h-1z M262 691h1v1h-1z M276 691h1v1h-1z M288 691h1v1h-1z M301 691h1v1h-1z M314 691h1v1h-1z M330 691h1v1h-1z M337 691h1v1h-1z M352 691h1v1h-1z M365 691h1v1h-1z M378 691h1v1h-1z M391 691h1v1h-1z M405 691h1v1h-1z M418 691h1v1h-1z M431 691h1v1h-1z M444 691h1v1h-1z M457 691h1v1h-1z M471 691h1v1h-1z M484 691h1v1h-1z M498 691h1v1h-1z M511 691h1v1h-1z M524 691h1v1h-1z M537 691h1v1h-1z M550 691h1v1h-1z M564 691h1v1h-1z M577 691h1v1h-1z M590 691h1v1h-1z M603 691h1v1h-1z M614 691h1v1h-1z M627 691h1v1h-1z M640 691h1v1h-1z M654 691h1v1h-1z M667 691h1v1h-1z M680 691h1v1h-1z M693 691h1v1h-1z M705 691h1v1h-1z M717 691h1v1h-1z M730 691h1v1h-1z M744 691h1v1h-1z M757 691h1v1h-1z M771 691h1v1h-1z M783 691h1v1h-1z M797 691h1v1h-1z M810 691h1v1h-1z M821 691h1v1h-1z M834 691h1v1h-1z M847 691h1v1h-1z M860 691h1v1h-1z M874 691h1v1h-1z M887 691h1v1h-1z M18 684h1v1h-1z M31 684h1v1h-1z M41 684h1v1h-1z M55 684h1v1h-1z M68 684h1v1h-1z M81 684h1v1h-1z M94 684h1v1h-1z M108 684h1v1h-1z M121 684h1v1h-1z M132 684h1v1h-1z M145 684h1v1h-1z M153 684h1v1h-1z M169 684h1v1h-1z M182 684h1v1h-1z M195 684h1v1h-1z M208 684h1v1h-1z M222 684h1v1h-1z M235 684h1v1h-1z M251 684h1v1h-1z M262 684h1v1h-1z M276 684h1v1h-1z M288 684h1v1h-1z M301 684h1v1h-1z M314 684h1v1h-1z M330 684h1v1h-1z M337 684h1v1h-1z M352 684h1v1h-1z M365 684h1v1h-1z M378 684h1v1h-1z M391 684h1v1h-1z M405 684h1v1h-1z M418 684h1v1h-1z M431 684h1v1h-1z M444 684h1v1h-1z M457 684h1v1h-1z M471 684h1v1h-1z M484 684h1v1h-1z M498 684h1v1h-1z M511 684h1v1h-1z M524 684h1v1h-1z M537 684h1v1h-1z M550 684h1v1h-1z M564 684h1v1h-1z M577 684h1v1h-1z M590 684h1v1h-1z M603 684h1v1h-1z M614 684h1v1h-1z M627 684h1v1h-1z M640 684h1v1h-1z M654 684h1v1h-1z M667 684h1v1h-1z M680 684h1v1h-1z M693 684h1v1h-1z M705 684h1v1h-1z M717 684h1v1h-1z M730 684h1v1h-1z M744 684h1v1h-1z M757 684h1v1h-1z M771 684h1v1h-1z M783 684h1v1h-1z M797 684h1v1h-1z M810 684h1v1h-1z M821 684h1v1h-1z M834 684h1v1h-1z M847 684h1v1h-1z M860 684h1v1h-1z M874 684h1v1h-1z M887 684h1v1h-1z M18 678h1v1h-1z M31 678h1v1h-1z M41 678h1v1h-1z M55 678h1v1h-1z M68 678h1v1h-1z M81 678h1v1h-1z M94 678h1v1h-1z M108 678h1v1h-1z M121 678h1v1h-1z M132 678h1v1h-1z M145 678h1v1h-1z M153 678h1v1h-1z M169 678h1v1h-1z M182 678h1v1h-1z M195 678h1v1h-1z M208 678h1v1h-1z M222 678h1v1h-1z M235 678h1v1h-1z M251 678h1v1h-1z M262 678h1v1h-1z M276 678h1v1h-1z M288 678h1v1h-1z M301 678h1v1h-1z M314 678h1v1h-1z M330 678h1v1h-1z M337 678h1v1h-1z M352 678h1v1h-1z M365 678h1v1h-1z M378 678h1v1h-1z M391 678h1v1h-1z M405 678h1v1h-1z M418 678h1v1h-1z M431 678h1v1h-1z M444 678h1v1h-1z M457 678h1v1h-1z M471 678h1v1h-1z M484 678h1v1h-1z M498 678h1v1h-1z M511 678h1v1h-1z M524 678h1v1h-1z M537 678h1v1h-1z M550 678h1v1h-1z M564 678h1v1h-1z M577 678h1v1h-1z M590 678h1v1h-1z M603 678h1v1h-1z M614 678h1v1h-1z M627 678h1v1h-1z M640 678h1v1h-1z M654 678h1v1h-1z M667 678h1v1h-1z M680 678h1v1h-1z M693 678h1v1h-1z M705 678h1v1h-1z M717 678h1v1h-1z M730 678h1v1h-1z M744 678h1v1h-1z M757 678h1v1h-1z M771 678h1v1h-1z M783 678h1v1h-1z M797 678h1v1h-1z M810 678h1v1h-1z M821 678h1v1h-1z M834 678h1v1h-1z M847 678h1v1h-1z M860 678h1v1h-1z M874 678h1v1h-1z M887 678h1v1h-1z M18 671h1v1h-1z M31 671h1v1h-1z M41 671h1v1h-1z M55 671h1v1h-1z M68 671h1v1h-1z M81 671h1v1h-1z M94 671h1v1h-1z M108 671h1v1h-1z M121 671h1v1h-1z M132 671h1v1h-1z M145 671h1v1h-1z M153 671h1v1h-1z M169 671h1v1h-1z M182 671h1v1h-1z M195 671h1v1h-1z M208 671h1v1h-1z M222 671h1v1h-1z M235 671h1v1h-1z M251 671h1v1h-1z M262 671h1v1h-1z M276 671h1v1h-1z M288 671h1v1h-1z M301 671h1v1h-1z M314 671h1v1h-1z M330 671h1v1h-1z M337 671h1v1h-1z M352 671h1v1h-1z M365 671h1v1h-1z M378 671h1v1h-1z M391 671h1v1h-1z M405 671h1v1h-1z M418 671h1v1h-1z M431 671h1v1h-1z M444 671h1v1h-1z M457 671h1v1h-1z M471 671h1v1h-1z M484 671h1v1h-1z M498 671h1v1h-1z M511 671h1v1h-1z M524 671h1v1h-1z M537 671h1v1h-1z M550 671h1v1h-1z M564 671h1v1h-1z M577 671h1v1h-1z M590 671h1v1h-1z M603 671h1v1h-1z M614 671h1v1h-1z M627 671h1v1h-1z M640 671h1v1h-1z M654 671h1v1h-1z M667 671h1v1h-1z M680 671h1v1h-1z M693 671h1v1h-1z M705 671h1v1h-1z M717 671h1v1h-1z M730 671h1v1h-1z M744 671h1v1h-1z M757 671h1v1h-1z M771 671h1v1h-1z M783 671h1v1h-1z M797 671h1v1h-1z M810 671h1v1h-1z M821 671h1v1h-1z M834 671h1v1h-1z M847 671h1v1h-1z M860 671h1v1h-1z M874 671h1v1h-1z M887 671h1v1h-1z M18 657h1v1h-1z M31 657h1v1h-1z M41 657h1v1h-1z M55 657h1v1h-1z M68 657h1v1h-1z M81 657h1v1h-1z M94 657h1v1h-1z M108 657h1v1h-1z M121 657h1v1h-1z M132 657h1v1h-1z M145 657h1v1h-1z M153 657h1v1h-1z M169 657h1v1h-1z M182 657h1v1h-1z M195 657h1v1h-1z M208 657h1v1h-1z M222 657h1v1h-1z M235 657h1v1h-1z M251 657h1v1h-1z M262 657h1v1h-1z M276 657h1v1h-1z M288 657h1v1h-1z M301 657h1v1h-1z M314 657h1v1h-1z M330 657h1v1h-1z M337 657h1v1h-1z M352 657h1v1h-1z M365 657h1v1h-1z M378 657h1v1h-1z M391 657h1v1h-1z M405 657h1v1h-1z M418 657h1v1h-1z M431 657h1v1h-1z M444 657h1v1h-1z M457 657h1v1h-1z M471 657h1v1h-1z M484 657h1v1h-1z M498 657h1v1h-1z M511 657h1v1h-1z M524 657h1v1h-1z M537 657h1v1h-1z M550 657h1v1h-1z M564 657h1v1h-1z M577 657h1v1h-1z M590 657h1v1h-1z M603 657h1v1h-1z M614 657h1v1h-1z M627 657h1v1h-1z M640 657h1v1h-1z M654 657h1v1h-1z M667 657h1v1h-1z M680 657h1v1h-1z M693 657h1v1h-1z M705 657h1v1h-1z M717 657h1v1h-1z M730 657h1v1h-1z M744 657h1v1h-1z M757 657h1v1h-1z M771 657h1v1h-1z M783 657h1v1h-1z M797 657h1v1h-1z M810 657h1v1h-1z M821 657h1v1h-1z M834 657h1v1h-1z M847 657h1v1h-1z M860 657h1v1h-1z M874 657h1v1h-1z M887 657h1v1h-1z M18 650h1v1h-1z M31 650h1v1h-1z M41 650h1v1h-1z M55 650h1v1h-1z M68 650h1v1h-1z M81 650h1v1h-1z M94 650h1v1h-1z M108 650h1v1h-1z M121 650h1v1h-1z M132 650h1v1h-1z M145 650h1v1h-1z M153 650h1v1h-1z M169 650h1v1h-1z M182 650h1v1h-1z M195 650h1v1h-1z M208 650h1v1h-1z M222 650h1v1h-1z M235 650h1v1h-1z M251 650h1v1h-1z M262 650h1v1h-1z M276 650h1v1h-1z M288 650h1v1h-1z M301 650h1v1h-1z M314 650h1v1h-1z M330 650h1v1h-1z M337 650h1v1h-1z M352 650h1v1h-1z M365 650h1v1h-1z M378 650h1v1h-1z M391 650h1v1h-1z M405 650h1v1h-1z M418 650h1v1h-1z M431 650h1v1h-1z M444 650h1v1h-1z M457 650h1v1h-1z M471 650h1v1h-1z M484 650h1v1h-1z M498 650h1v1h-1z M511 650h1v1h-1z M524 650h1v1h-1z M537 650h1v1h-1z M550 650h1v1h-1z M564 650h1v1h-1z M577 650h1v1h-1z M590 650h1v1h-1z M603 650h1v1h-1z M614 650h1v1h-1z M627 650h1v1h-1z M640 650h1v1h-1z M654 650h1v1h-1z M667 650h1v1h-1z M680 650h1v1h-1z M693 650h1v1h-1z M705 650h1v1h-1z M717 650h1v1h-1z M730 650h1v1h-1z M744 650h1v1h-1z M757 650h1v1h-1z M771 650h1v1h-1z M783 650h1v1h-1z M797 650h1v1h-1z M810 650h1v1h-1z M821 650h1v1h-1z M834 650h1v1h-1z M847 650h1v1h-1z M860 650h1v1h-1z M874 650h1v1h-1z M887 650h1v1h-1z M18 644h1v1h-1z M31 644h1v1h-1z M41 644h1v1h-1z M55 644h1v1h-1z M68 644h1v1h-1z M81 644h1v1h-1z M94 644h1v1h-1z M108 644h1v1h-1z M121 644h1v1h-1z M132 644h1v1h-1z M145 644h1v1h-1z M153 644h1v1h-1z M169 644h1v1h-1z M182 644h1v1h-1z M195 644h1v1h-1z M208 644h1v1h-1z M222 644h1v1h-1z M235 644h1v1h-1z M251 644h1v1h-1z M262 644h1v1h-1z M276 644h1v1h-1z M288 644h1v1h-1z M301 644h1v1h-1z M314 644h1v1h-1z M330 644h1v1h-1z M337 644h1v1h-1z M352 644h1v1h-1z M365 644h1v1h-1z M378 644h1v1h-1z M391 644h1v1h-1z M405 644h1v1h-1z M418 644h1v1h-1z M431 644h1v1h-1z M444 644h1v1h-1z M457 644h1v1h-1z M471 644h1v1h-1z M484 644h1v1h-1z M498 644h1v1h-1z M511 644h1v1h-1z M524 644h1v1h-1z M537 644h1v1h-1z M550 644h1v1h-1z M564 644h1v1h-1z M577 644h1v1h-1z M590 644h1v1h-1z M603 644h1v1h-1z M614 644h1v1h-1z M627 644h1v1h-1z M640 644h1v1h-1z M654 644h1v1h-1z M667 644h1v1h-1z M680 644h1v1h-1z M693 644h1v1h-1z M705 644h1v1h-1z M717 644h1v1h-1z M730 644h1v1h-1z M744 644h1v1h-1z M757 644h1v1h-1z M771 644h1v1h-1z M783 644h1v1h-1z M797 644h1v1h-1z M810 644h1v1h-1z M821 644h1v1h-1z M834 644h1v1h-1z M847 644h1v1h-1z M860 644h1v1h-1z M874 644h1v1h-1z M887 644h1v1h-1z M18 637h1v1h-1z M31 637h1v1h-1z M41 637h1v1h-1z M55 637h1v1h-1z M68 637h1v1h-1z M81 637h1v1h-1z M94 637h1v1h-1z M108 637h1v1h-1z M121 637h1v1h-1z M132 637h1v1h-1z M145 637h1v1h-1z M153 637h1v1h-1z M169 637h1v1h-1z M182 637h1v1h-1z M195 637h1v1h-1z M208 637h1v1h-1z M222 637h1v1h-1z M235 637h1v1h-1z M251 637h1v1h-1z M262 637h1v1h-1z M276 637h1v1h-1z M288 637h1v1h-1z M301 637h1v1h-1z M314 637h1v1h-1z M330 637h1v1h-1z M337 637h1v1h-1z M352 637h1v1h-1z M365 637h1v1h-1z M378 637h1v1h-1z M391 637h1v1h-1z M405 637h1v1h-1z M418 637h1v1h-1z M431 637h1v1h-1z M444 637h1v1h-1z M457 637h1v1h-1z M471 637h1v1h-1z M484 637h1v1h-1z M498 637h1v1h-1z M511 637h1v1h-1z M524 637h1v1h-1z M537 637h1v1h-1z M550 637h1v1h-1z M564 637h1v1h-1z M577 637h1v1h-1z M590 637h1v1h-1z M603 637h1v1h-1z M614 637h1v1h-1z M627 637h1v1h-1z M640 637h1v1h-1z M654 637h1v1h-1z M667 637h1v1h-1z M680 637h1v1h-1z M693 637h1v1h-1z M705 637h1v1h-1z M717 637h1v1h-1z M730 637h1v1h-1z M744 637h1v1h-1z M757 637h1v1h-1z M771 637h1v1h-1z M783 637h1v1h-1z M797 637h1v1h-1z M810 637h1v1h-1z M821 637h1v1h-1z M834 637h1v1h-1z M847 637h1v1h-1z M860 637h1v1h-1z M874 637h1v1h-1z M887 637h1v1h-1z" fill="#000"/>
<path d="M2 73h7v1h-7z M2 208h7v1h-7z M2 343h7v1h-7z M2 478h7v1h-7z M2 614h7v1h-7z M2 19h4v1h-4z M2 46h4v1h-4z M2 100h4v1h-4z M2 127h4v1h-4z M2 154h4v1h-4z M2 181h4v1h-4z M2 235h4v1h-4z M2 262h4v1h-4z M2 289h4v1h-4z M2 316h4v1h-4z M2 370h4v1h-4z M2 397h4v1h-4z M2 424h4v1h-4z M2 451h4v1h-4z M2 505h4v1h-4z M2 532h4v1h-4z M2 559h4v1h-4z M2 586h4v1h-4z M2 629h7v1h-7z M2 663h7v1h-7z M2 732h7v1h-7z M2 766h7v1h-7z M2 800h7v1h-7z M2 697h7v1h-7z M2 793h4v1h-4z M2 786h4v1h-4z M2 779h4v1h-4z M2 773h4v1h-4z M2 759h4v1h-4z M2 752h4v1h-4z M2 745h4v1h-4z M2 739h4v1h-4z M2 725h4v1h-4z M2 718h4v1h-4z M2 711h4v1h-4z M2 705h4v1h-4z M2 691h4v1h-4z M2 684h4v1h-4z M2 678h4v1h-4z M2 671h4v1h-4z M2 657h4v1h-4z M2 650h4v1h-4z M2 644h4v1h-4z M2 637h4v1h-4z" fill="#000"/>
<rect x="2" y="1" width="1118" height="1" fill="#000"/>
<rect x="2" y="622" width="1118" height="1" fill="#000"/>
<rect x="2" y="813" width="1118" height="1" fill="#000"/>
<rect x="1119" y="1" width="1" height="813" fill="#000"/>
<path d="M1113 73h6v1h-6z M1113 208h6v1h-6z M1113 343h6v1h-6z M1113 478h6v1h-6z M1113 614h6v1h-6z M1116 19h3v1h-3z M1116 46h3v1h-3z M1116 100h3v1h-3z M1116 127h3v1h-3z M1116 154h3v1h-3z M1116 181h3v1h-3z M1116 235h3v1h-3z M1116 262h3v1h-3z M1116 289h3v1h-3z M1116 316h3v1h-3z M1116 370h3v1h-3z M1116 397h3v1h-3z M1116 424h3v1h-3z M1116 451h3v1h-3z M1116 505h3v1h-3z M1116 532h3v1h-3z M1116 559h3v1h-3z M1116 586h3v1h-3z M1116 586h3v1h-3z M1113 630h6v1h-6z M1113 664h6v1h-6z M1113 698h6v1h-6z M1113 732h6v1h-6z M1113 766h6v1h-6z M1113 800h6v1h-6z M1116 793h3v1h-3z M1116 786h3v1h-3z M1116 779h3v1h-3z M1116 773h3v1h-3z M1116 759h3v1h-3z M1116 752h3v1h-3z M1116 745h3v1h-3z M1116 739h3v1h-3z M1116 725h3v1h-3z M1116 718h3v1h-3z M1116 711h3v1h-3z M1116 705h3v1h-3z M1116 691h3v1h-3z M1116 684h3v1h-3z M1116 678h3v1h-3z M1116 671h3v1h-3z M1116 657h3v1h-3z M1116 650h3v1h-3z M1116 644h3v1h-3z M1116 637h3v1h-3z" fill="#000"/>
<rect x="3" y="376" width="1097" height="1" fill="#888888"/>
<rect x="510" y="130" width="590" height="1" fill="#1a5ea8"/>
<rect x="510" y="375" width="590" height="1" fill="#1a5ea8"/>
<rect x="620" y="183" width="480" height="1" fill="#800080"/>
<rect x="620" y="224" width="480" height="1" fill="#800080"/>
<rect x="620" y="253" width="480" height="1" fill="#800080"/>
<rect x="620" y="282" width="480" height="1" fill="#800080"/>
<rect x="3" y="144" width="1097" height="1" fill="#0000ee"/>
<rect x="3" y="161" width="1097" height="1" fill="#0000ee"/>
<rect x="3" y="174" width="1097" height="1" fill="#0000ee"/>
<rect x="3" y="183" width="1097" height="1" fill="#0000ee"/>
<rect x="3" y="200" width="1097" height="1" fill="#0000ee"/>
<rect x="3" y="216" width="1097" height="1" fill="#0000ee"/>
<rect x="3" y="255" width="1097" height="1" fill="#0000ee"/>
<rect x="3" y="422" width="1097" height="1" fill="#0000ee"/>
<rect x="3" y="95" width="1097" height="2" fill="#ff0000"/>
<line x1="2" y1="698.5" x2="1108" y2="698.5" stroke="#000" stroke-width="1" stroke-dasharray="4 3"/>
<path d="M2.5,67.4 C4.6,69.7 10.2,76.7 15.3,81.4 C20.4,86.1 26.9,90.4 33.0,95.4 C39.1,100.4 45.7,106.2 51.8,111.5 C57.9,116.8 63.9,122.9 69.5,127.2 C75.1,131.5 80.7,134.1 85.3,137.1 C89.9,140.1 93.2,142.7 97.1,145.0 C101.0,147.3 104.6,149.4 108.9,150.9 C113.2,152.4 117.5,153.0 122.7,153.8 C127.9,154.6 133.3,155.4 140.0,155.8 C146.7,156.2 156.0,155.8 162.8,156.5 C169.6,157.2 174.6,157.9 180.8,159.7 C187.0,161.5 194.9,165.4 200.0,167.4 C205.1,169.4 207.8,169.9 211.6,171.4 C215.4,172.9 219.8,174.9 223.1,176.6 C226.4,178.2 228.8,179.8 231.3,181.3 C233.8,182.9 236.1,184.5 238.2,185.9 C240.3,187.3 241.3,188.4 244.0,190.0 C246.7,191.6 251.9,194.0 254.4,195.7 C256.9,197.4 256.5,198.1 259.0,200.3 C261.5,202.5 266.1,206.4 269.4,209.0 C272.7,211.6 276.0,213.9 278.7,216.0 C281.4,218.1 283.3,220.3 285.6,221.8 C287.9,223.3 290.2,224.0 292.6,225.2 C295.0,226.3 296.6,227.2 300.0,228.7 C303.4,230.2 307.8,232.6 312.8,234.4 C317.8,236.2 326.1,237.9 330.0,239.4 C333.9,240.9 333.9,242.5 336.0,243.5 C338.1,244.5 338.3,243.8 342.5,245.6 C346.7,247.3 356.8,252.4 361.0,254.0 C365.2,255.6 363.5,254.9 367.5,255.0 C371.5,255.1 379.8,255.2 385.0,254.5 C390.2,253.8 395.6,251.7 398.8,250.8 C402.0,250.0 398.1,249.5 404.0,249.4 C409.9,249.3 426.1,249.2 434.0,250.2 C441.9,251.2 445.3,254.4 451.7,255.2 C458.1,256.0 466.1,255.3 472.5,255.2 C478.9,255.1 484.2,254.8 490.0,254.7 C495.8,254.6 500.2,255.1 507.2,254.5 C514.1,253.9 523.0,253.2 531.7,251.3 C540.4,249.4 552.7,244.6 559.4,243.3 C566.1,242.0 567.4,243.2 572.0,243.4 C576.6,243.6 581.5,243.7 587.2,244.2 C592.9,244.7 600.8,245.6 606.3,246.6 C611.8,247.6 615.1,248.4 620.0,250.4 C624.9,252.4 631.4,256.8 635.8,258.9 C640.2,261.0 642.6,261.4 646.6,263.0 C650.6,264.6 655.6,266.5 660.0,268.3 C664.4,270.1 669.9,272.4 673.2,273.6 C676.5,274.8 677.2,274.6 680.0,275.3 C682.8,276.0 686.8,276.8 690.2,277.9 C693.6,279.0 696.9,280.9 700.3,281.7 C703.7,282.5 703.7,282.5 710.5,282.7 C717.3,282.9 734.2,282.9 741.0,282.7 C747.8,282.4 747.8,281.8 751.2,281.2 C754.6,280.6 758.0,279.8 761.4,279.4 C764.8,279.0 768.2,279.3 771.6,278.9 C775.0,278.5 778.3,278.0 781.7,277.2 C785.1,276.4 788.9,274.6 791.9,273.8 C794.9,273.0 797.6,273.1 800.0,272.3 C802.4,271.5 802.2,270.9 806.3,268.8 C810.4,266.7 819.8,262.2 824.8,259.5 C829.8,256.8 832.5,254.3 836.4,252.6 C840.3,250.9 843.8,250.1 848.0,249.1 C852.2,248.1 857.3,247.6 861.9,246.8 C866.5,246.0 871.3,245.0 875.7,244.5 C880.1,244.0 886.4,243.9 888.5,243.8" fill="none" stroke="#ff8040" stroke-width="1"/>
<path d="M3.5,258.6 C5.1,258.2 9.8,255.8 13.0,256.0 C16.2,256.1 19.3,258.5 22.6,259.5 C25.9,260.5 29.1,260.6 33.0,262.0 C36.9,263.4 41.4,266.2 46.0,268.0 C50.6,269.8 56.9,272.0 60.8,272.5 C64.7,273.0 65.9,271.7 69.4,270.8 C72.9,269.9 77.8,269.8 81.6,267.3 C85.4,264.8 89.4,259.5 92.0,256.0 C94.6,252.5 95.9,248.5 97.2,246.5 C98.5,244.5 97.4,245.5 100.0,244.0 C102.6,242.5 108.7,240.9 112.8,237.5 C116.9,234.1 121.3,228.6 124.6,223.7 C127.9,218.8 129.5,214.8 132.5,208.0 C135.5,201.2 138.3,192.4 142.5,183.2 C146.7,174.0 152.7,162.9 157.8,152.7 C162.9,142.5 167.9,129.2 173.0,122.0 C178.1,114.8 183.2,112.3 188.3,109.4 C193.4,106.5 198.9,105.4 203.6,104.8 C208.3,104.2 212.1,104.2 216.3,105.6 C220.5,107.0 224.3,110.0 229.0,113.2 C233.7,116.4 239.2,119.0 244.3,124.7 C249.4,130.4 255.6,141.5 259.5,147.6 C263.4,153.7 265.5,157.6 267.7,161.5 C269.9,165.4 271.0,167.7 272.6,171.3 C274.2,174.9 275.5,177.5 277.5,183.1 C279.5,188.7 281.4,194.8 284.4,204.8 C287.4,214.8 291.8,232.0 295.4,243.0 C299.0,254.0 302.7,263.0 305.8,270.8 C308.9,278.6 311.7,283.8 313.9,289.7 C316.1,295.6 316.5,301.1 318.8,306.4 C321.1,311.6 325.8,317.8 327.7,321.2 C329.6,324.6 328.2,323.7 330.0,326.9 C331.8,330.1 335.2,335.7 338.3,340.4 C341.4,345.1 345.7,350.6 348.8,355.0 C351.9,359.4 354.2,362.9 357.0,366.5 C359.8,370.1 362.9,374.8 365.4,376.9 C367.8,379.0 369.3,378.0 371.7,379.0 C374.1,380.0 377.2,381.8 380.0,383.0 C382.8,384.2 385.9,386.3 388.3,386.3 C390.7,386.3 392.2,384.1 394.6,383.1 C397.1,382.1 400.6,381.0 403.0,380.4 C405.4,379.8 407.1,380.4 409.2,379.6 C411.3,378.8 413.3,377.8 415.4,375.8 C417.5,373.8 419.6,370.1 421.7,367.5 C423.8,364.9 425.9,362.6 428.0,360.2 C430.1,357.8 432.1,356.2 434.2,352.9 C436.3,349.6 438.3,343.9 440.4,340.4 C442.5,336.9 444.3,335.3 446.7,332.0 C449.1,328.7 452.2,324.1 455.0,320.6 C457.8,317.1 460.5,314.1 463.3,311.2 C466.1,308.2 468.9,305.1 471.7,302.9 C474.5,300.6 477.3,300.1 480.0,297.7 C482.7,295.3 484.2,291.6 487.8,288.5 C491.4,285.4 496.9,282.3 501.4,279.2 C505.9,276.1 510.9,273.1 514.9,269.8 C518.9,266.6 521.1,263.4 525.1,259.7 C529.1,256.0 534.7,250.9 538.6,247.8 C542.5,244.7 545.1,243.0 548.8,241.0 C552.5,239.0 556.8,237.0 560.7,235.9 C564.7,234.8 568.8,234.9 572.5,234.6 C576.2,234.3 578.5,234.0 582.7,234.2 C587.0,234.4 591.8,234.8 598.0,235.9 C604.2,237.0 613.7,238.3 620.0,241.0 C626.3,243.7 630.3,247.3 635.8,252.0 C641.3,256.7 648.0,265.0 653.2,269.3 C658.4,273.6 661.8,276.3 667.0,278.0 C672.2,279.7 678.0,280.0 684.4,279.7 C690.8,279.4 698.3,279.2 705.3,276.3 C712.2,273.4 719.1,268.8 726.1,262.4 C733.1,256.0 741.4,246.0 747.0,238.0 C752.6,230.0 755.5,221.2 760.0,214.4 C764.5,207.6 768.9,202.8 773.9,197.0 C778.9,191.2 786.0,183.2 790.0,179.5 C794.0,175.8 794.6,176.0 797.9,174.6 C801.2,173.2 805.8,172.2 809.7,171.3 C813.6,170.4 817.6,169.8 821.5,169.3 C825.4,168.8 828.7,167.1 833.3,168.1 C837.9,169.1 844.7,172.9 849.0,175.6 C853.3,178.3 854.9,180.1 858.9,184.4 C862.9,188.7 869.1,196.8 872.7,201.2 C876.3,205.6 878.0,207.4 880.6,211.0 C883.2,214.6 887.1,220.8 888.4,222.8" fill="none" stroke="#0000ff" stroke-width="1"/>
<g clip-path="url(#mainclip)">
<line x1="170.4" y1="0.9" x2="1097.5" y2="353.5" stroke="#ff0000" stroke-width="2" stroke-dasharray="5.3 2.7"/>
<line x1="171.4" y1="0.0" x2="1097.0" y2="443.4" stroke="#0000ff" stroke-width="2" stroke-dasharray="5.3 2.7"/>
<line x1="313.0" y1="485.0" x2="769.2" y2="1.0" stroke="#0000ff" stroke-width="2" stroke-dasharray="5.3 2.7"/>
<line x1="509.7" y1="130.4" x2="919.2" y2="622.0" stroke="#ff0000" stroke-width="2" stroke-dasharray="5.3 2.7"/>
<line x1="501.5" y1="232.6" x2="827.3" y2="622.0" stroke="#ff0000" stroke-width="2" stroke-dasharray="5.3 2.7"/>
<line x1="575.3" y1="357.0" x2="972.5" y2="2.0" stroke="#008000" stroke-width="2" stroke-dasharray="5.3 2.7"/>
<line x1="619.5" y1="377.0" x2="1037.0" y2="2.0" stroke="#008000" stroke-width="2" stroke-dasharray="5.3 2.7"/>
<line x1="780.8" y1="118.8" x2="1098.0" y2="460.5" stroke="#ff0000" stroke-width="2" stroke-dasharray="5.3 2.7"/>
<line x1="777.4" y1="205.0" x2="1097.5" y2="547.5" stroke="#ff0000" stroke-width="2" stroke-dasharray="5.3 2.7"/>
<line x1="797.0" y1="179.5" x2="1097.0" y2="485.0" stroke="#ff0000" stroke-width="1.2" stroke-dasharray="1.5 1.5"/>
<line x1="510.4" y1="131.0" x2="621.0" y2="376.0" stroke="#333333" stroke-width="1"/>
</g>
<g shape-rendering="crispEdges"><rect x="3" y="311" width="1" height="45" fill="#000"/><rect x="2" y="329" width="3" height="16" fill="#000"/><rect x="3" y="330" width="1" height="14" fill="#ff8000"/><rect x="6" y="330" width="1" height="49" fill="#000"/><rect x="5" y="346" width="3" height="10" fill="#000"/><rect x="6" y="347" width="1" height="8" fill="#00c000"/><rect x="8" y="305" width="1" height="62" fill="#000"/><rect x="7" y="306" width="3" height="47" fill="#000"/><rect x="8" y="307" width="1" height="45" fill="#00c000"/><rect x="10" y="294" width="1" height="50" fill="#000"/><rect x="9" y="305" width="3" height="32" fill="#000"/><rect x="10" y="306" width="1" height="30" fill="#ff8000"/><rect x="14" y="330" width="1" height="30" fill="#000"/><rect x="13" y="334" width="3" height="15" fill="#000"/><rect x="14" y="335" width="1" height="13" fill="#ff8000"/><rect x="16" y="334" width="1" height="25" fill="#000"/><rect x="15" y="338" width="3" height="12" fill="#000"/><rect x="16" y="339" width="1" height="10" fill="#ff8000"/><rect x="18" y="332" width="1" height="20" fill="#000"/><rect x="17" y="334" width="3" height="15" fill="#000"/><rect x="18" y="335" width="1" height="13" fill="#00c000"/><rect x="22" y="334" width="1" height="21" fill="#000"/><rect x="21" y="337" width="3" height="5" fill="#000"/><rect x="22" y="338" width="1" height="3" fill="#ff8000"/><rect x="24" y="335" width="1" height="17" fill="#000"/><rect x="23" y="341" width="3" height="8" fill="#000"/><rect x="24" y="342" width="1" height="6" fill="#ff8000"/><rect x="26" y="336" width="1" height="39" fill="#000"/><rect x="25" y="336" width="3" height="17" fill="#000"/><rect x="26" y="337" width="1" height="15" fill="#00c000"/><rect x="30" y="309" width="1" height="37" fill="#000"/><rect x="29" y="318" width="3" height="21" fill="#000"/><rect x="30" y="319" width="1" height="19" fill="#00c000"/><rect x="32" y="259" width="1" height="60" fill="#000"/><rect x="31" y="260" width="3" height="59" fill="#000"/><rect x="32" y="261" width="1" height="57" fill="#00c000"/><rect x="34" y="251" width="1" height="21" fill="#000"/><rect x="33" y="255" width="3" height="7" fill="#000"/><rect x="34" y="256" width="1" height="5" fill="#00c000"/><rect x="38" y="243" width="1" height="36" fill="#000"/><rect x="37" y="256" width="3" height="15" fill="#000"/><rect x="38" y="257" width="1" height="13" fill="#ff8000"/><rect x="40" y="249" width="1" height="30" fill="#000"/><rect x="39" y="269" width="3" height="4" fill="#000"/><rect x="40" y="270" width="1" height="2" fill="#00c000"/><rect x="42" y="256" width="1" height="24" fill="#000"/><rect x="41" y="261" width="3" height="9" fill="#000"/><rect x="42" y="262" width="1" height="7" fill="#00c000"/><rect x="45" y="216" width="1" height="41" fill="#000"/><rect x="44" y="223" width="3" height="34" fill="#000"/><rect x="45" y="224" width="1" height="32" fill="#00c000"/><rect x="48" y="214" width="1" height="25" fill="#000"/><rect x="47" y="223" width="3" height="6" fill="#000"/><rect x="48" y="224" width="1" height="4" fill="#ff8000"/><rect x="50" y="208" width="1" height="36" fill="#000"/><rect x="49" y="230" width="3" height="9" fill="#000"/><rect x="50" y="231" width="1" height="7" fill="#ff8000"/><rect x="53" y="230" width="1" height="14" fill="#000"/><rect x="52" y="236" width="3" height="6" fill="#000"/><rect x="53" y="237" width="1" height="4" fill="#ff8000"/><rect x="56" y="230" width="1" height="31" fill="#000"/><rect x="55" y="233" width="3" height="17" fill="#000"/><rect x="56" y="234" width="1" height="15" fill="#00c000"/><rect x="59" y="206" width="1" height="21" fill="#000"/><rect x="58" y="208" width="3" height="19" fill="#000"/><rect x="59" y="209" width="1" height="17" fill="#00c000"/><rect x="61" y="187" width="1" height="22" fill="#000"/><rect x="60" y="192" width="3" height="17" fill="#000"/><rect x="61" y="193" width="1" height="15" fill="#00c000"/><rect x="64" y="178" width="1" height="21" fill="#000"/><rect x="63" y="180" width="3" height="11" fill="#000"/><rect x="64" y="181" width="1" height="9" fill="#00c000"/><rect x="67" y="177" width="1" height="40" fill="#000"/><rect x="66" y="179" width="3" height="22" fill="#000"/><rect x="67" y="180" width="1" height="20" fill="#ff8000"/><rect x="69" y="189" width="1" height="29" fill="#000"/><rect x="68" y="193" width="3" height="8" fill="#000"/><rect x="69" y="194" width="1" height="6" fill="#00c000"/><rect x="72" y="191" width="1" height="24" fill="#000"/><rect x="71" y="193" width="3" height="9" fill="#000"/><rect x="72" y="194" width="1" height="7" fill="#ff8000"/><rect x="75" y="180" width="1" height="19" fill="#000"/><rect x="74" y="181" width="3" height="16" fill="#000"/><rect x="75" y="182" width="1" height="14" fill="#00c000"/><rect x="77" y="161" width="1" height="22" fill="#000"/><rect x="76" y="170" width="3" height="10" fill="#000"/><rect x="77" y="171" width="1" height="8" fill="#00c000"/><rect x="80" y="162" width="1" height="13" fill="#000"/><rect x="79" y="172" width="3" height="3" fill="#000"/><rect x="80" y="173" width="1" height="1" fill="#ff8000"/><rect x="83" y="165" width="1" height="33" fill="#000"/><rect x="82" y="177" width="3" height="10" fill="#000"/><rect x="83" y="178" width="1" height="8" fill="#ff8000"/><rect x="85" y="162" width="1" height="23" fill="#000"/><rect x="84" y="172" width="3" height="12" fill="#000"/><rect x="85" y="173" width="1" height="10" fill="#00c000"/><rect x="88" y="125" width="1" height="50" fill="#000"/><rect x="87" y="126" width="3" height="49" fill="#000"/><rect x="88" y="127" width="1" height="47" fill="#00c000"/><rect x="91" y="121" width="1" height="17" fill="#000"/><rect x="90" y="127" width="3" height="5" fill="#000"/><rect x="91" y="128" width="1" height="3" fill="#ff8000"/><rect x="93" y="93" width="1" height="45" fill="#000"/><rect x="92" y="94" width="3" height="39" fill="#000"/><rect x="93" y="95" width="1" height="37" fill="#00c000"/><rect x="96" y="91" width="1" height="34" fill="#000"/><rect x="95" y="97" width="3" height="5" fill="#000"/><rect x="96" y="98" width="1" height="3" fill="#ff8000"/><rect x="98" y="90" width="1" height="35" fill="#000"/><rect x="97" y="99" width="3" height="14" fill="#000"/><rect x="98" y="100" width="1" height="12" fill="#ff8000"/><rect x="100" y="92" width="1" height="23" fill="#000"/><rect x="99" y="106" width="3" height="7" fill="#000"/><rect x="100" y="107" width="1" height="5" fill="#00c000"/><rect x="104" y="98" width="1" height="34" fill="#000"/><rect x="103" y="114" width="3" height="15" fill="#000"/><rect x="104" y="115" width="1" height="13" fill="#ff8000"/><rect x="106" y="127" width="1" height="31" fill="#000"/><rect x="105" y="132" width="3" height="17" fill="#000"/><rect x="106" y="133" width="1" height="15" fill="#ff8000"/><rect x="109" y="103" width="1" height="46" fill="#000"/><rect x="108" y="104" width="3" height="44" fill="#000"/><rect x="109" y="105" width="1" height="42" fill="#00c000"/><rect x="112" y="87" width="1" height="28" fill="#000"/><rect x="111" y="108" width="3" height="5" fill="#000"/><rect x="112" y="109" width="1" height="3" fill="#ff8000"/><rect x="114" y="80" width="1" height="13" fill="#000"/><rect x="113" y="86" width="3" height="7" fill="#000"/><rect x="114" y="87" width="1" height="5" fill="#00c000"/><rect x="117" y="78" width="1" height="35" fill="#000"/><rect x="116" y="81" width="3" height="4" fill="#000"/><rect x="117" y="82" width="1" height="2" fill="#ff8000"/><rect x="120" y="78" width="1" height="29" fill="#000"/><rect x="119" y="81" width="3" height="12" fill="#000"/><rect x="120" y="82" width="1" height="10" fill="#ff8000"/><rect x="122" y="79" width="1" height="32" fill="#000"/><rect x="121" y="82" width="3" height="19" fill="#000"/><rect x="122" y="83" width="1" height="17" fill="#ff8000"/><rect x="125" y="80" width="1" height="33" fill="#000"/><rect x="124" y="83" width="3" height="24" fill="#000"/><rect x="125" y="84" width="1" height="22" fill="#ff8000"/><rect x="128" y="105" width="1" height="35" fill="#000"/><rect x="127" y="106" width="3" height="31" fill="#000"/><rect x="128" y="107" width="1" height="29" fill="#ff8000"/><rect x="130" y="51" width="1" height="76" fill="#000"/><rect x="129" y="52" width="3" height="75" fill="#000"/><rect x="130" y="53" width="1" height="73" fill="#00c000"/><rect x="133" y="41" width="1" height="33" fill="#000"/><rect x="132" y="57" width="3" height="3" fill="#000"/><rect x="133" y="58" width="1" height="1" fill="#00c000"/><rect x="136" y="47" width="1" height="46" fill="#000"/><rect x="135" y="55" width="3" height="25" fill="#000"/><rect x="136" y="56" width="1" height="23" fill="#ff8000"/><rect x="138" y="49" width="1" height="33" fill="#000"/><rect x="137" y="59" width="3" height="7" fill="#000"/><rect x="138" y="60" width="1" height="5" fill="#ff8000"/><rect x="141" y="50" width="1" height="19" fill="#000"/><rect x="140" y="53" width="3" height="13" fill="#000"/><rect x="141" y="54" width="1" height="11" fill="#00c000"/><rect x="144" y="30" width="1" height="39" fill="#000"/><rect x="143" y="32" width="3" height="21" fill="#000"/><rect x="144" y="33" width="1" height="19" fill="#00c000"/><rect x="146" y="13" width="1" height="27" fill="#000"/><rect x="145" y="22" width="3" height="13" fill="#000"/><rect x="146" y="23" width="1" height="11" fill="#00c000"/><rect x="149" y="21" width="1" height="98" fill="#000"/><rect x="148" y="22" width="3" height="96" fill="#000"/><rect x="149" y="23" width="1" height="94" fill="#ff8000"/><rect x="151" y="85" width="1" height="34" fill="#000"/><rect x="150" y="91" width="3" height="26" fill="#000"/><rect x="151" y="92" width="1" height="24" fill="#00c000"/><rect x="154" y="40" width="1" height="36" fill="#000"/><rect x="153" y="45" width="3" height="31" fill="#000"/><rect x="154" y="46" width="1" height="29" fill="#00c000"/><rect x="156" y="45" width="1" height="16" fill="#000"/><rect x="155" y="45" width="3" height="13" fill="#000"/><rect x="156" y="46" width="1" height="11" fill="#00c000"/><rect x="158" y="25" width="1" height="23" fill="#000"/><rect x="157" y="26" width="3" height="21" fill="#000"/><rect x="158" y="27" width="1" height="19" fill="#00c000"/><rect x="162" y="5" width="1" height="20" fill="#000"/><rect x="161" y="19" width="3" height="3" fill="#000"/><rect x="162" y="20" width="1" height="1" fill="#00c000"/><rect x="165" y="2" width="1" height="38" fill="#000"/><rect x="164" y="14" width="3" height="8" fill="#000"/><rect x="165" y="15" width="1" height="6" fill="#ff8000"/><rect x="167" y="14" width="1" height="27" fill="#000"/><rect x="166" y="15" width="3" height="14" fill="#000"/><rect x="167" y="16" width="1" height="12" fill="#ff8000"/><rect x="170" y="16" width="1" height="66" fill="#000"/><rect x="169" y="28" width="3" height="40" fill="#000"/><rect x="170" y="29" width="1" height="38" fill="#ff8000"/><rect x="173" y="59" width="1" height="56" fill="#000"/><rect x="172" y="68" width="3" height="40" fill="#000"/><rect x="173" y="69" width="1" height="38" fill="#ff8000"/><rect x="175" y="88" width="1" height="27" fill="#000"/><rect x="174" y="90" width="3" height="24" fill="#000"/><rect x="175" y="91" width="1" height="22" fill="#00c000"/><rect x="178" y="105" width="1" height="47" fill="#000"/><rect x="177" y="116" width="3" height="32" fill="#000"/><rect x="178" y="117" width="1" height="30" fill="#ff8000"/><rect x="181" y="126" width="1" height="35" fill="#000"/><rect x="180" y="127" width="3" height="19" fill="#000"/><rect x="181" y="128" width="1" height="17" fill="#00c000"/><rect x="183" y="92" width="1" height="39" fill="#000"/><rect x="182" y="96" width="3" height="31" fill="#000"/><rect x="183" y="97" width="1" height="29" fill="#00c000"/><rect x="186" y="86" width="1" height="28" fill="#000"/><rect x="185" y="96" width="3" height="16" fill="#000"/><rect x="186" y="97" width="1" height="14" fill="#ff8000"/><rect x="189" y="115" width="1" height="46" fill="#000"/><rect x="188" y="116" width="3" height="45" fill="#000"/><rect x="189" y="117" width="1" height="43" fill="#ff8000"/><rect x="191" y="158" width="1" height="48" fill="#000"/><rect x="190" y="165" width="3" height="17" fill="#000"/><rect x="191" y="166" width="1" height="15" fill="#ff8000"/><rect x="194" y="144" width="1" height="39" fill="#000"/><rect x="193" y="162" width="3" height="20" fill="#000"/><rect x="194" y="163" width="1" height="18" fill="#00c000"/><rect x="197" y="130" width="1" height="44" fill="#000"/><rect x="196" y="138" width="3" height="19" fill="#000"/><rect x="197" y="139" width="1" height="17" fill="#00c000"/><rect x="199" y="110" width="1" height="41" fill="#000"/><rect x="198" y="126" width="3" height="24" fill="#000"/><rect x="199" y="127" width="1" height="22" fill="#00c000"/><rect x="202" y="126" width="1" height="52" fill="#000"/><rect x="201" y="133" width="3" height="34" fill="#000"/><rect x="202" y="134" width="1" height="32" fill="#ff8000"/><rect x="204" y="149" width="1" height="45" fill="#000"/><rect x="203" y="155" width="3" height="10" fill="#000"/><rect x="204" y="156" width="1" height="8" fill="#00c000"/><rect x="207" y="146" width="1" height="49" fill="#000"/><rect x="206" y="152" width="3" height="37" fill="#000"/><rect x="207" y="153" width="1" height="35" fill="#ff8000"/><rect x="210" y="160" width="1" height="58" fill="#000"/><rect x="209" y="174" width="3" height="31" fill="#000"/><rect x="210" y="175" width="1" height="29" fill="#00c000"/><rect x="212" y="160" width="1" height="47" fill="#000"/><rect x="211" y="175" width="3" height="31" fill="#000"/><rect x="212" y="176" width="1" height="29" fill="#ff8000"/><rect x="215" y="160" width="1" height="45" fill="#000"/><rect x="214" y="176" width="3" height="29" fill="#000"/><rect x="215" y="177" width="1" height="27" fill="#00c000"/><rect x="217" y="171" width="1" height="28" fill="#000"/><rect x="216" y="175" width="3" height="9" fill="#000"/><rect x="217" y="176" width="1" height="7" fill="#ff8000"/><rect x="220" y="164" width="1" height="23" fill="#000"/><rect x="219" y="180" width="3" height="7" fill="#000"/><rect x="220" y="181" width="1" height="5" fill="#00c000"/><rect x="223" y="182" width="1" height="40" fill="#000"/><rect x="222" y="191" width="3" height="26" fill="#000"/><rect x="223" y="192" width="1" height="24" fill="#ff8000"/><rect x="226" y="207" width="1" height="30" fill="#000"/><rect x="225" y="214" width="3" height="9" fill="#000"/><rect x="226" y="215" width="1" height="7" fill="#ff8000"/><rect x="228" y="211" width="1" height="23" fill="#000"/><rect x="227" y="219" width="3" height="9" fill="#000"/><rect x="228" y="220" width="1" height="7" fill="#ff8000"/><rect x="231" y="181" width="1" height="48" fill="#000"/><rect x="230" y="202" width="3" height="25" fill="#000"/><rect x="231" y="203" width="1" height="23" fill="#00c000"/><rect x="234" y="177" width="1" height="23" fill="#000"/><rect x="233" y="182" width="3" height="17" fill="#000"/><rect x="234" y="183" width="1" height="15" fill="#00c000"/><rect x="236" y="180" width="1" height="58" fill="#000"/><rect x="235" y="184" width="3" height="47" fill="#000"/><rect x="236" y="185" width="1" height="45" fill="#ff8000"/><rect x="239" y="226" width="1" height="36" fill="#000"/><rect x="238" y="232" width="3" height="13" fill="#000"/><rect x="239" y="233" width="1" height="11" fill="#ff8000"/><rect x="242" y="232" width="1" height="15" fill="#000"/><rect x="241" y="239" width="3" height="5" fill="#000"/><rect x="242" y="240" width="1" height="3" fill="#00c000"/><rect x="244" y="224" width="1" height="43" fill="#000"/><rect x="243" y="238" width="3" height="14" fill="#000"/><rect x="244" y="239" width="1" height="12" fill="#ff8000"/><rect x="247" y="224" width="1" height="45" fill="#000"/><rect x="246" y="226" width="3" height="34" fill="#000"/><rect x="247" y="227" width="1" height="32" fill="#00c000"/><rect x="250" y="220" width="1" height="9" fill="#000"/><rect x="249" y="222" width="3" height="6" fill="#000"/><rect x="250" y="223" width="1" height="4" fill="#00c000"/><rect x="252" y="201" width="1" height="61" fill="#000"/><rect x="251" y="218" width="3" height="39" fill="#000"/><rect x="252" y="219" width="1" height="37" fill="#ff8000"/><rect x="255" y="245" width="1" height="26" fill="#000"/><rect x="254" y="257" width="3" height="13" fill="#000"/><rect x="255" y="258" width="1" height="11" fill="#ff8000"/><rect x="257" y="269" width="1" height="66" fill="#000"/><rect x="256" y="269" width="3" height="66" fill="#000"/><rect x="257" y="270" width="1" height="64" fill="#ff8000"/><rect x="260" y="331" width="1" height="17" fill="#000"/><rect x="259" y="336" width="3" height="6" fill="#000"/><rect x="260" y="337" width="1" height="4" fill="#ff8000"/><rect x="263" y="333" width="1" height="57" fill="#000"/><rect x="262" y="338" width="3" height="14" fill="#000"/><rect x="263" y="339" width="1" height="12" fill="#00c000"/><rect x="265" y="322" width="1" height="39" fill="#000"/><rect x="264" y="338" width="3" height="4" fill="#000"/><rect x="265" y="339" width="1" height="2" fill="#ff8000"/><rect x="268" y="298" width="1" height="49" fill="#000"/><rect x="267" y="315" width="3" height="27" fill="#000"/><rect x="268" y="316" width="1" height="25" fill="#00c000"/><rect x="270" y="322" width="1" height="37" fill="#000"/><rect x="269" y="327" width="3" height="16" fill="#000"/><rect x="270" y="328" width="1" height="14" fill="#ff8000"/><rect x="273" y="340" width="1" height="20" fill="#000"/><rect x="272" y="340" width="3" height="4" fill="#000"/><rect x="273" y="341" width="1" height="2" fill="#00c000"/><rect x="276" y="340" width="1" height="72" fill="#000"/><rect x="275" y="340" width="3" height="71" fill="#000"/><rect x="276" y="341" width="1" height="69" fill="#ff8000"/><rect x="279" y="395" width="1" height="47" fill="#000"/><rect x="278" y="406" width="3" height="6" fill="#000"/><rect x="279" y="407" width="1" height="4" fill="#00c000"/><rect x="281" y="402" width="1" height="34" fill="#000"/><rect x="280" y="411" width="3" height="5" fill="#000"/><rect x="281" y="412" width="1" height="3" fill="#ff8000"/><rect x="284" y="398" width="1" height="89" fill="#000"/><rect x="283" y="412" width="3" height="75" fill="#000"/><rect x="284" y="413" width="1" height="73" fill="#ff8000"/><rect x="286" y="489" width="1" height="41" fill="#000"/><rect x="285" y="498" width="3" height="3" fill="#000"/><rect x="286" y="499" width="1" height="1" fill="#00c000"/><rect x="289" y="460" width="1" height="51" fill="#000"/><rect x="288" y="460" width="3" height="38" fill="#000"/><rect x="289" y="461" width="1" height="36" fill="#00c000"/><rect x="292" y="447" width="1" height="28" fill="#000"/><rect x="291" y="452" width="3" height="9" fill="#000"/><rect x="292" y="453" width="1" height="7" fill="#ff8000"/><rect x="295" y="473" width="1" height="51" fill="#000"/><rect x="294" y="473" width="3" height="35" fill="#000"/><rect x="295" y="474" width="1" height="33" fill="#ff8000"/><rect x="297" y="476" width="1" height="61" fill="#000"/><rect x="296" y="484" width="3" height="25" fill="#000"/><rect x="297" y="485" width="1" height="23" fill="#00c000"/><rect x="300" y="463" width="1" height="31" fill="#000"/><rect x="299" y="482" width="3" height="5" fill="#000"/><rect x="300" y="483" width="1" height="3" fill="#00c000"/><rect x="303" y="450" width="1" height="24" fill="#000"/><rect x="302" y="468" width="3" height="6" fill="#000"/><rect x="303" y="469" width="1" height="4" fill="#00c000"/><rect x="305" y="417" width="1" height="51" fill="#000"/><rect x="304" y="426" width="3" height="42" fill="#000"/><rect x="305" y="427" width="1" height="40" fill="#00c000"/><rect x="308" y="425" width="1" height="32" fill="#000"/><rect x="307" y="428" width="3" height="12" fill="#000"/><rect x="308" y="429" width="1" height="10" fill="#ff8000"/><rect x="310" y="420" width="1" height="35" fill="#000"/><rect x="309" y="429" width="3" height="12" fill="#000"/><rect x="310" y="430" width="1" height="10" fill="#ff8000"/><rect x="313" y="429" width="1" height="58" fill="#000"/><rect x="312" y="440" width="3" height="18" fill="#000"/><rect x="313" y="441" width="1" height="16" fill="#ff8000"/><rect x="316" y="434" width="1" height="48" fill="#000"/><rect x="315" y="443" width="3" height="23" fill="#000"/><rect x="316" y="444" width="1" height="21" fill="#00c000"/><rect x="318" y="429" width="1" height="43" fill="#000"/><rect x="317" y="442" width="3" height="21" fill="#000"/><rect x="318" y="443" width="1" height="19" fill="#ff8000"/><rect x="321" y="434" width="1" height="27" fill="#000"/><rect x="320" y="442" width="3" height="15" fill="#000"/><rect x="321" y="443" width="1" height="13" fill="#00c000"/><rect x="324" y="402" width="1" height="59" fill="#000"/><rect x="323" y="412" width="3" height="29" fill="#000"/><rect x="324" y="413" width="1" height="27" fill="#00c000"/><rect x="326" y="407" width="1" height="30" fill="#000"/><rect x="325" y="408" width="3" height="13" fill="#000"/><rect x="326" y="409" width="1" height="11" fill="#00c000"/><rect x="329" y="400" width="1" height="11" fill="#000"/><rect x="328" y="405" width="3" height="5" fill="#000"/><rect x="329" y="406" width="1" height="3" fill="#00c000"/><rect x="332" y="379" width="1" height="34" fill="#000"/><rect x="331" y="399" width="3" height="4" fill="#000"/><rect x="332" y="400" width="1" height="2" fill="#00c000"/><rect x="334" y="388" width="1" height="25" fill="#000"/><rect x="333" y="391" width="3" height="9" fill="#000"/><rect x="334" y="392" width="1" height="7" fill="#00c000"/><rect x="337" y="350" width="1" height="47" fill="#000"/><rect x="336" y="356" width="3" height="37" fill="#000"/><rect x="337" y="357" width="1" height="35" fill="#00c000"/><rect x="340" y="329" width="1" height="27" fill="#000"/><rect x="339" y="333" width="3" height="23" fill="#000"/><rect x="340" y="334" width="1" height="21" fill="#00c000"/><rect x="342" y="325" width="1" height="33" fill="#000"/><rect x="341" y="334" width="3" height="6" fill="#000"/><rect x="342" y="335" width="1" height="4" fill="#00c000"/><rect x="345" y="334" width="1" height="27" fill="#000"/><rect x="344" y="334" width="3" height="24" fill="#000"/><rect x="345" y="335" width="1" height="22" fill="#ff8000"/><rect x="348" y="345" width="1" height="46" fill="#000"/><rect x="347" y="359" width="3" height="28" fill="#000"/><rect x="348" y="360" width="1" height="26" fill="#ff8000"/><rect x="350" y="378" width="1" height="21" fill="#000"/><rect x="349" y="386" width="3" height="11" fill="#000"/><rect x="350" y="387" width="1" height="9" fill="#ff8000"/><rect x="353" y="382" width="1" height="24" fill="#000"/><rect x="352" y="391" width="3" height="10" fill="#000"/><rect x="353" y="392" width="1" height="8" fill="#ff8000"/><rect x="356" y="389" width="1" height="17" fill="#000"/><rect x="355" y="396" width="3" height="7" fill="#000"/><rect x="356" y="397" width="1" height="5" fill="#00c000"/><rect x="358" y="350" width="1" height="52" fill="#000"/><rect x="357" y="368" width="3" height="31" fill="#000"/><rect x="358" y="369" width="1" height="29" fill="#00c000"/><rect x="361" y="362" width="1" height="40" fill="#000"/><rect x="360" y="367" width="3" height="32" fill="#000"/><rect x="361" y="368" width="1" height="30" fill="#00c000"/><rect x="363" y="334" width="1" height="52" fill="#000"/><rect x="362" y="339" width="3" height="47" fill="#000"/><rect x="363" y="340" width="1" height="45" fill="#00c000"/><rect x="366" y="310" width="1" height="29" fill="#000"/><rect x="365" y="311" width="3" height="28" fill="#000"/><rect x="366" y="312" width="1" height="26" fill="#00c000"/><rect x="368" y="270" width="1" height="44" fill="#000"/><rect x="367" y="272" width="3" height="42" fill="#000"/><rect x="368" y="273" width="1" height="40" fill="#00c000"/><rect x="371" y="260" width="1" height="14" fill="#000"/><rect x="370" y="264" width="3" height="9" fill="#000"/><rect x="371" y="265" width="1" height="7" fill="#00c000"/><rect x="374" y="243" width="1" height="39" fill="#000"/><rect x="373" y="263" width="3" height="12" fill="#000"/><rect x="374" y="264" width="1" height="10" fill="#ff8000"/><rect x="377" y="265" width="1" height="46" fill="#000"/><rect x="376" y="274" width="3" height="27" fill="#000"/><rect x="377" y="275" width="1" height="25" fill="#ff8000"/><rect x="379" y="287" width="1" height="28" fill="#000"/><rect x="378" y="301" width="3" height="3" fill="#000"/><rect x="379" y="302" width="1" height="1" fill="#00c000"/><rect x="382" y="276" width="1" height="44" fill="#000"/><rect x="381" y="301" width="3" height="3" fill="#000"/><rect x="382" y="302" width="1" height="1" fill="#ff8000"/><rect x="385" y="298" width="1" height="30" fill="#000"/><rect x="384" y="301" width="3" height="23" fill="#000"/><rect x="385" y="302" width="1" height="21" fill="#ff8000"/><rect x="388" y="315" width="1" height="36" fill="#000"/><rect x="387" y="316" width="3" height="8" fill="#000"/><rect x="388" y="317" width="1" height="6" fill="#ff8000"/><rect x="390" y="295" width="1" height="29" fill="#000"/><rect x="389" y="298" width="3" height="26" fill="#000"/><rect x="390" y="299" width="1" height="24" fill="#00c000"/><rect x="393" y="289" width="1" height="12" fill="#000"/><rect x="392" y="292" width="3" height="8" fill="#000"/><rect x="393" y="293" width="1" height="6" fill="#00c000"/><rect x="395" y="266" width="1" height="28" fill="#000"/><rect x="394" y="278" width="3" height="15" fill="#000"/><rect x="395" y="279" width="1" height="13" fill="#00c000"/><rect x="398" y="272" width="1" height="16" fill="#000"/><rect x="397" y="278" width="3" height="6" fill="#000"/><rect x="398" y="279" width="1" height="4" fill="#ff8000"/><rect x="400" y="262" width="1" height="24" fill="#000"/><rect x="399" y="277" width="3" height="6" fill="#000"/><rect x="400" y="278" width="1" height="4" fill="#00c000"/><rect x="403" y="276" width="1" height="28" fill="#000"/><rect x="402" y="277" width="3" height="24" fill="#000"/><rect x="403" y="278" width="1" height="22" fill="#ff8000"/><rect x="406" y="309" width="1" height="46" fill="#000"/><rect x="405" y="309" width="3" height="45" fill="#000"/><rect x="406" y="310" width="1" height="43" fill="#ff8000"/><rect x="409" y="343" width="1" height="36" fill="#000"/><rect x="408" y="353" width="3" height="24" fill="#000"/><rect x="409" y="354" width="1" height="22" fill="#ff8000"/><rect x="411" y="344" width="1" height="41" fill="#000"/><rect x="410" y="354" width="3" height="23" fill="#000"/><rect x="411" y="355" width="1" height="21" fill="#ff8000"/><rect x="414" y="341" width="1" height="38" fill="#000"/><rect x="413" y="342" width="3" height="20" fill="#000"/><rect x="414" y="343" width="1" height="18" fill="#00c000"/><rect x="416" y="301" width="1" height="39" fill="#000"/><rect x="415" y="302" width="3" height="37" fill="#000"/><rect x="416" y="303" width="1" height="35" fill="#00c000"/><rect x="419" y="278" width="1" height="27" fill="#000"/><rect x="418" y="285" width="3" height="19" fill="#000"/><rect x="419" y="286" width="1" height="17" fill="#00c000"/><rect x="421" y="278" width="1" height="37" fill="#000"/><rect x="420" y="284" width="3" height="30" fill="#000"/><rect x="421" y="285" width="1" height="28" fill="#ff8000"/><rect x="424" y="280" width="1" height="40" fill="#000"/><rect x="423" y="308" width="3" height="7" fill="#000"/><rect x="424" y="309" width="1" height="5" fill="#00c000"/><rect x="427" y="280" width="1" height="59" fill="#000"/><rect x="426" y="309" width="3" height="21" fill="#000"/><rect x="427" y="310" width="1" height="19" fill="#ff8000"/><rect x="430" y="291" width="1" height="42" fill="#000"/><rect x="429" y="292" width="3" height="37" fill="#000"/><rect x="430" y="293" width="1" height="35" fill="#00c000"/><rect x="432" y="270" width="1" height="23" fill="#000"/><rect x="431" y="272" width="3" height="21" fill="#000"/><rect x="432" y="273" width="1" height="19" fill="#00c000"/><rect x="434" y="249" width="1" height="29" fill="#000"/><rect x="433" y="254" width="3" height="18" fill="#000"/><rect x="434" y="255" width="1" height="16" fill="#00c000"/><rect x="437" y="237" width="1" height="23" fill="#000"/><rect x="436" y="253" width="3" height="5" fill="#000"/><rect x="437" y="254" width="1" height="3" fill="#00c000"/><rect x="440" y="235" width="1" height="22" fill="#000"/><rect x="439" y="246" width="3" height="9" fill="#000"/><rect x="440" y="247" width="1" height="7" fill="#00c000"/><rect x="443" y="251" width="1" height="31" fill="#000"/><rect x="442" y="252" width="3" height="10" fill="#000"/><rect x="443" y="253" width="1" height="8" fill="#ff8000"/><rect x="446" y="243" width="1" height="20" fill="#000"/><rect x="445" y="252" width="3" height="10" fill="#000"/><rect x="446" y="253" width="1" height="8" fill="#00c000"/><rect x="448" y="232" width="1" height="22" fill="#000"/><rect x="447" y="238" width="3" height="15" fill="#000"/><rect x="448" y="239" width="1" height="13" fill="#00c000"/><rect x="451" y="234" width="1" height="19" fill="#000"/><rect x="450" y="238" width="3" height="14" fill="#000"/><rect x="451" y="239" width="1" height="12" fill="#ff8000"/><rect x="454" y="239" width="1" height="39" fill="#000"/><rect x="453" y="249" width="3" height="3" fill="#000"/><rect x="454" y="250" width="1" height="1" fill="#00c000"/><rect x="456" y="243" width="1" height="18" fill="#000"/><rect x="455" y="247" width="3" height="10" fill="#000"/><rect x="456" y="248" width="1" height="8" fill="#ff8000"/><rect x="459" y="241" width="1" height="54" fill="#000"/><rect x="458" y="257" width="3" height="22" fill="#000"/><rect x="459" y="258" width="1" height="20" fill="#ff8000"/><rect x="462" y="254" width="1" height="31" fill="#000"/><rect x="461" y="257" width="3" height="26" fill="#000"/><rect x="462" y="258" width="1" height="24" fill="#00c000"/><rect x="464" y="242" width="1" height="26" fill="#000"/><rect x="463" y="253" width="3" height="8" fill="#000"/><rect x="464" y="254" width="1" height="6" fill="#00c000"/><rect x="467" y="227" width="1" height="40" fill="#000"/><rect x="466" y="252" width="3" height="4" fill="#000"/><rect x="467" y="253" width="1" height="2" fill="#ff8000"/><rect x="469" y="247" width="1" height="20" fill="#000"/><rect x="468" y="249" width="3" height="5" fill="#000"/><rect x="469" y="250" width="1" height="3" fill="#00c000"/><rect x="472" y="241" width="1" height="26" fill="#000"/><rect x="471" y="248" width="3" height="10" fill="#000"/><rect x="472" y="249" width="1" height="8" fill="#ff8000"/><rect x="475" y="241" width="1" height="19" fill="#000"/><rect x="474" y="252" width="3" height="5" fill="#000"/><rect x="475" y="253" width="1" height="3" fill="#00c000"/><rect x="477" y="241" width="1" height="33" fill="#000"/><rect x="476" y="252" width="3" height="16" fill="#000"/><rect x="477" y="253" width="1" height="14" fill="#ff8000"/><rect x="480" y="265" width="1" height="17" fill="#000"/><rect x="479" y="268" width="3" height="11" fill="#000"/><rect x="480" y="269" width="1" height="9" fill="#ff8000"/><rect x="483" y="275" width="1" height="22" fill="#000"/><rect x="482" y="278" width="3" height="15" fill="#000"/><rect x="483" y="279" width="1" height="13" fill="#ff8000"/><rect x="485" y="263" width="1" height="30" fill="#000"/><rect x="484" y="268" width="3" height="24" fill="#000"/><rect x="485" y="269" width="1" height="22" fill="#00c000"/><rect x="488" y="263" width="1" height="26" fill="#000"/><rect x="487" y="268" width="3" height="4" fill="#000"/><rect x="488" y="269" width="1" height="2" fill="#ff8000"/><rect x="490" y="271" width="1" height="23" fill="#000"/><rect x="489" y="273" width="3" height="20" fill="#000"/><rect x="490" y="274" width="1" height="18" fill="#ff8000"/><rect x="493" y="246" width="1" height="49" fill="#000"/><rect x="492" y="246" width="3" height="47" fill="#000"/><rect x="493" y="247" width="1" height="45" fill="#00c000"/><rect x="496" y="208" width="1" height="39" fill="#000"/><rect x="495" y="222" width="3" height="25" fill="#000"/><rect x="496" y="223" width="1" height="23" fill="#00c000"/><rect x="498" y="214" width="1" height="19" fill="#000"/><rect x="497" y="219" width="3" height="4" fill="#000"/><rect x="498" y="220" width="1" height="2" fill="#00c000"/><rect x="501" y="214" width="1" height="15" fill="#000"/><rect x="500" y="218" width="3" height="3" fill="#000"/><rect x="501" y="219" width="1" height="1" fill="#00c000"/><rect x="504" y="200" width="1" height="21" fill="#000"/><rect x="503" y="210" width="3" height="7" fill="#000"/><rect x="504" y="211" width="1" height="5" fill="#00c000"/><rect x="507" y="195" width="1" height="35" fill="#000"/><rect x="506" y="199" width="3" height="18" fill="#000"/><rect x="507" y="200" width="1" height="16" fill="#00c000"/><rect x="509" y="131" width="1" height="58" fill="#000"/><rect x="508" y="143" width="3" height="46" fill="#000"/><rect x="509" y="144" width="1" height="44" fill="#00c000"/><rect x="512" y="131" width="1" height="29" fill="#000"/><rect x="511" y="144" width="3" height="9" fill="#000"/><rect x="512" y="145" width="1" height="7" fill="#ff8000"/><rect x="514" y="144" width="1" height="27" fill="#000"/><rect x="513" y="154" width="3" height="15" fill="#000"/><rect x="514" y="155" width="1" height="13" fill="#ff8000"/><rect x="517" y="168" width="1" height="33" fill="#000"/><rect x="516" y="168" width="3" height="18" fill="#000"/><rect x="517" y="169" width="1" height="16" fill="#ff8000"/><rect x="520" y="177" width="1" height="36" fill="#000"/><rect x="519" y="187" width="3" height="11" fill="#000"/><rect x="520" y="188" width="1" height="9" fill="#00c000"/><rect x="522" y="172" width="1" height="23" fill="#000"/><rect x="521" y="185" width="3" height="10" fill="#000"/><rect x="522" y="186" width="1" height="8" fill="#ff8000"/><rect x="525" y="188" width="1" height="25" fill="#000"/><rect x="524" y="198" width="3" height="3" fill="#000"/><rect x="525" y="199" width="1" height="1" fill="#00c000"/><rect x="528" y="195" width="1" height="26" fill="#000"/><rect x="527" y="196" width="3" height="24" fill="#000"/><rect x="528" y="197" width="1" height="22" fill="#ff8000"/><rect x="530" y="221" width="1" height="38" fill="#000"/><rect x="529" y="222" width="3" height="35" fill="#000"/><rect x="530" y="223" width="1" height="33" fill="#ff8000"/><rect x="533" y="240" width="1" height="32" fill="#000"/><rect x="532" y="241" width="3" height="16" fill="#000"/><rect x="533" y="242" width="1" height="14" fill="#00c000"/><rect x="536" y="230" width="1" height="25" fill="#000"/><rect x="535" y="238" width="3" height="6" fill="#000"/><rect x="536" y="239" width="1" height="4" fill="#ff8000"/><rect x="538" y="199" width="1" height="50" fill="#000"/><rect x="537" y="203" width="3" height="40" fill="#000"/><rect x="538" y="204" width="1" height="38" fill="#00c000"/><rect x="540" y="198" width="1" height="21" fill="#000"/><rect x="539" y="205" width="3" height="5" fill="#000"/><rect x="540" y="206" width="1" height="3" fill="#ff8000"/><rect x="543" y="203" width="1" height="27" fill="#000"/><rect x="542" y="210" width="3" height="17" fill="#000"/><rect x="543" y="211" width="1" height="15" fill="#ff8000"/><rect x="546" y="203" width="1" height="49" fill="#000"/><rect x="545" y="219" width="3" height="20" fill="#000"/><rect x="546" y="220" width="1" height="18" fill="#ff8000"/><rect x="549" y="203" width="1" height="31" fill="#000"/><rect x="548" y="219" width="3" height="14" fill="#000"/><rect x="549" y="220" width="1" height="12" fill="#00c000"/><rect x="551" y="216" width="1" height="17" fill="#000"/><rect x="550" y="220" width="3" height="5" fill="#000"/><rect x="551" y="221" width="1" height="3" fill="#ff8000"/><rect x="554" y="218" width="1" height="19" fill="#000"/><rect x="553" y="220" width="3" height="7" fill="#000"/><rect x="554" y="221" width="1" height="5" fill="#ff8000"/><rect x="557" y="225" width="1" height="22" fill="#000"/><rect x="556" y="226" width="3" height="19" fill="#000"/><rect x="557" y="227" width="1" height="17" fill="#ff8000"/><rect x="559" y="234" width="1" height="33" fill="#000"/><rect x="558" y="236" width="3" height="21" fill="#000"/><rect x="559" y="237" width="1" height="19" fill="#ff8000"/><rect x="562" y="236" width="1" height="32" fill="#000"/><rect x="561" y="238" width="3" height="21" fill="#000"/><rect x="562" y="239" width="1" height="19" fill="#ff8000"/><rect x="565" y="251" width="1" height="17" fill="#000"/><rect x="564" y="254" width="3" height="7" fill="#000"/><rect x="565" y="255" width="1" height="5" fill="#00c000"/><rect x="567" y="244" width="1" height="24" fill="#000"/><rect x="566" y="245" width="3" height="16" fill="#000"/><rect x="567" y="246" width="1" height="14" fill="#00c000"/><rect x="570" y="216" width="1" height="32" fill="#000"/><rect x="569" y="221" width="3" height="26" fill="#000"/><rect x="570" y="222" width="1" height="24" fill="#00c000"/><rect x="572" y="204" width="1" height="27" fill="#000"/><rect x="571" y="222" width="3" height="3" fill="#000"/><rect x="572" y="223" width="1" height="1" fill="#00c000"/><rect x="575" y="220" width="1" height="27" fill="#000"/><rect x="574" y="221" width="3" height="24" fill="#000"/><rect x="575" y="222" width="1" height="22" fill="#ff8000"/><rect x="578" y="219" width="1" height="29" fill="#000"/><rect x="577" y="224" width="3" height="22" fill="#000"/><rect x="578" y="225" width="1" height="20" fill="#00c000"/><rect x="580" y="222" width="1" height="29" fill="#000"/><rect x="579" y="224" width="3" height="23" fill="#000"/><rect x="580" y="225" width="1" height="21" fill="#ff8000"/><rect x="583" y="242" width="1" height="30" fill="#000"/><rect x="582" y="246" width="3" height="9" fill="#000"/><rect x="583" y="247" width="1" height="7" fill="#ff8000"/><rect x="586" y="242" width="1" height="20" fill="#000"/><rect x="585" y="254" width="3" height="6" fill="#000"/><rect x="586" y="255" width="1" height="4" fill="#ff8000"/><rect x="589" y="267" width="1" height="13" fill="#000"/><rect x="588" y="268" width="3" height="11" fill="#000"/><rect x="589" y="269" width="1" height="9" fill="#ff8000"/><rect x="591" y="270" width="1" height="20" fill="#000"/><rect x="590" y="277" width="3" height="5" fill="#000"/><rect x="591" y="278" width="1" height="3" fill="#ff8000"/><rect x="594" y="279" width="1" height="18" fill="#000"/><rect x="593" y="281" width="3" height="14" fill="#000"/><rect x="594" y="282" width="1" height="12" fill="#ff8000"/><rect x="597" y="279" width="1" height="15" fill="#000"/><rect x="596" y="287" width="3" height="5" fill="#000"/><rect x="597" y="288" width="1" height="3" fill="#00c000"/><rect x="599" y="273" width="1" height="40" fill="#000"/><rect x="598" y="275" width="3" height="18" fill="#000"/><rect x="599" y="276" width="1" height="16" fill="#00c000"/><rect x="602" y="267" width="1" height="13" fill="#000"/><rect x="601" y="271" width="3" height="7" fill="#000"/><rect x="602" y="272" width="1" height="5" fill="#00c000"/><rect x="604" y="255" width="1" height="18" fill="#000"/><rect x="603" y="255" width="3" height="17" fill="#000"/><rect x="604" y="256" width="1" height="15" fill="#00c000"/><rect x="607" y="248" width="1" height="48" fill="#000"/><rect x="606" y="257" width="3" height="38" fill="#000"/><rect x="607" y="258" width="1" height="36" fill="#ff8000"/><rect x="610" y="296" width="1" height="23" fill="#000"/><rect x="609" y="304" width="3" height="13" fill="#000"/><rect x="610" y="305" width="1" height="11" fill="#ff8000"/><rect x="613" y="307" width="1" height="19" fill="#000"/><rect x="612" y="311" width="3" height="6" fill="#000"/><rect x="613" y="312" width="1" height="4" fill="#00c000"/><rect x="615" y="308" width="1" height="17" fill="#000"/><rect x="614" y="311" width="3" height="4" fill="#000"/><rect x="615" y="312" width="1" height="2" fill="#00c000"/><rect x="618" y="317" width="1" height="38" fill="#000"/><rect x="617" y="318" width="3" height="35" fill="#000"/><rect x="618" y="319" width="1" height="33" fill="#ff8000"/><rect x="620" y="348" width="1" height="29" fill="#000"/><rect x="619" y="350" width="3" height="13" fill="#000"/><rect x="620" y="351" width="1" height="11" fill="#ff8000"/><rect x="623" y="343" width="1" height="30" fill="#000"/><rect x="622" y="343" width="3" height="16" fill="#000"/><rect x="623" y="344" width="1" height="14" fill="#00c000"/><rect x="626" y="334" width="1" height="21" fill="#000"/><rect x="625" y="342" width="3" height="4" fill="#000"/><rect x="626" y="343" width="1" height="2" fill="#00c000"/><rect x="628" y="321" width="1" height="20" fill="#000"/><rect x="627" y="322" width="3" height="18" fill="#000"/><rect x="628" y="323" width="1" height="16" fill="#00c000"/><rect x="630" y="321" width="1" height="12" fill="#000"/><rect x="629" y="322" width="3" height="7" fill="#000"/><rect x="630" y="323" width="1" height="5" fill="#ff8000"/><rect x="632" y="316" width="1" height="19" fill="#000"/><rect x="631" y="321" width="3" height="10" fill="#000"/><rect x="632" y="322" width="1" height="8" fill="#00c000"/><rect x="634" y="314" width="1" height="14" fill="#000"/><rect x="633" y="314" width="3" height="9" fill="#000"/><rect x="634" y="315" width="1" height="7" fill="#00c000"/><rect x="637" y="312" width="1" height="7" fill="#000"/><rect x="636" y="314" width="3" height="4" fill="#000"/><rect x="637" y="315" width="1" height="2" fill="#ff8000"/><rect x="639" y="298" width="1" height="19" fill="#000"/><rect x="638" y="299" width="3" height="16" fill="#000"/><rect x="639" y="300" width="1" height="14" fill="#00c000"/><rect x="642" y="298" width="1" height="21" fill="#000"/><rect x="641" y="299" width="3" height="18" fill="#000"/><rect x="642" y="300" width="1" height="16" fill="#ff8000"/><rect x="644" y="312" width="1" height="21" fill="#000"/><rect x="643" y="312" width="3" height="16" fill="#000"/><rect x="644" y="313" width="1" height="14" fill="#ff8000"/><rect x="647" y="329" width="1" height="22" fill="#000"/><rect x="646" y="330" width="3" height="16" fill="#000"/><rect x="647" y="331" width="1" height="14" fill="#ff8000"/><rect x="650" y="314" width="1" height="30" fill="#000"/><rect x="649" y="316" width="3" height="23" fill="#000"/><rect x="650" y="317" width="1" height="21" fill="#00c000"/><rect x="652" y="299" width="1" height="19" fill="#000"/><rect x="651" y="310" width="3" height="7" fill="#000"/><rect x="652" y="311" width="1" height="5" fill="#00c000"/><rect x="655" y="295" width="1" height="18" fill="#000"/><rect x="654" y="299" width="3" height="13" fill="#000"/><rect x="655" y="300" width="1" height="11" fill="#00c000"/><rect x="657" y="289" width="1" height="14" fill="#000"/><rect x="656" y="295" width="3" height="7" fill="#000"/><rect x="657" y="296" width="1" height="5" fill="#00c000"/><rect x="660" y="266" width="1" height="42" fill="#000"/><rect x="659" y="269" width="3" height="37" fill="#000"/><rect x="660" y="270" width="1" height="35" fill="#00c000"/><rect x="662" y="266" width="1" height="10" fill="#000"/><rect x="661" y="268" width="3" height="4" fill="#000"/><rect x="662" y="269" width="1" height="2" fill="#00c000"/><rect x="665" y="255" width="1" height="27" fill="#000"/><rect x="664" y="267" width="3" height="4" fill="#000"/><rect x="665" y="268" width="1" height="2" fill="#00c000"/><rect x="667" y="248" width="1" height="26" fill="#000"/><rect x="666" y="254" width="3" height="16" fill="#000"/><rect x="667" y="255" width="1" height="14" fill="#00c000"/><rect x="670" y="247" width="1" height="21" fill="#000"/><rect x="669" y="254" width="3" height="6" fill="#000"/><rect x="670" y="255" width="1" height="4" fill="#00c000"/><rect x="672" y="250" width="1" height="11" fill="#000"/><rect x="671" y="252" width="3" height="5" fill="#000"/><rect x="672" y="253" width="1" height="3" fill="#00c000"/><rect x="674" y="225" width="1" height="30" fill="#000"/><rect x="673" y="226" width="3" height="28" fill="#000"/><rect x="674" y="227" width="1" height="26" fill="#00c000"/><rect x="676" y="226" width="1" height="17" fill="#000"/><rect x="675" y="227" width="3" height="14" fill="#000"/><rect x="676" y="228" width="1" height="12" fill="#ff8000"/><rect x="679" y="232" width="1" height="11" fill="#000"/><rect x="678" y="236" width="3" height="5" fill="#000"/><rect x="679" y="237" width="1" height="3" fill="#00c000"/><rect x="681" y="224" width="1" height="14" fill="#000"/><rect x="680" y="226" width="3" height="11" fill="#000"/><rect x="681" y="227" width="1" height="9" fill="#00c000"/><rect x="684" y="206" width="1" height="21" fill="#000"/><rect x="683" y="208" width="3" height="17" fill="#000"/><rect x="684" y="209" width="1" height="15" fill="#00c000"/><rect x="686" y="206" width="1" height="23" fill="#000"/><rect x="685" y="209" width="3" height="10" fill="#000"/><rect x="686" y="210" width="1" height="8" fill="#ff8000"/><rect x="689" y="198" width="1" height="31" fill="#000"/><rect x="688" y="200" width="3" height="22" fill="#000"/><rect x="689" y="201" width="1" height="20" fill="#00c000"/><rect x="692" y="210" width="1" height="19" fill="#000"/><rect x="691" y="213" width="3" height="4" fill="#000"/><rect x="692" y="214" width="1" height="2" fill="#ff8000"/><rect x="694" y="210" width="1" height="19" fill="#000"/><rect x="693" y="217" width="3" height="8" fill="#000"/><rect x="694" y="218" width="1" height="6" fill="#ff8000"/><rect x="697" y="216" width="1" height="17" fill="#000"/><rect x="696" y="218" width="3" height="5" fill="#000"/><rect x="697" y="219" width="1" height="3" fill="#ff8000"/><rect x="700" y="216" width="1" height="10" fill="#000"/><rect x="699" y="217" width="3" height="7" fill="#000"/><rect x="700" y="218" width="1" height="5" fill="#00c000"/><rect x="702" y="210" width="1" height="15" fill="#000"/><rect x="701" y="218" width="3" height="5" fill="#000"/><rect x="702" y="219" width="1" height="3" fill="#00c000"/><rect x="705" y="210" width="1" height="15" fill="#000"/><rect x="704" y="216" width="3" height="8" fill="#000"/><rect x="705" y="217" width="1" height="6" fill="#00c000"/><rect x="708" y="163" width="1" height="46" fill="#000"/><rect x="707" y="171" width="3" height="38" fill="#000"/><rect x="708" y="172" width="1" height="36" fill="#00c000"/><rect x="711" y="163" width="1" height="10" fill="#000"/><rect x="710" y="166" width="3" height="6" fill="#000"/><rect x="711" y="167" width="1" height="4" fill="#00c000"/><rect x="713" y="164" width="1" height="19" fill="#000"/><rect x="712" y="166" width="3" height="16" fill="#000"/><rect x="713" y="167" width="1" height="14" fill="#ff8000"/><rect x="716" y="169" width="1" height="14" fill="#000"/><rect x="715" y="173" width="3" height="10" fill="#000"/><rect x="716" y="174" width="1" height="8" fill="#00c000"/><rect x="719" y="147" width="1" height="26" fill="#000"/><rect x="718" y="150" width="3" height="22" fill="#000"/><rect x="719" y="151" width="1" height="20" fill="#00c000"/><rect x="721" y="149" width="1" height="29" fill="#000"/><rect x="720" y="151" width="3" height="15" fill="#000"/><rect x="721" y="152" width="1" height="13" fill="#ff8000"/><rect x="724" y="159" width="1" height="20" fill="#000"/><rect x="723" y="164" width="3" height="3" fill="#000"/><rect x="724" y="165" width="1" height="1" fill="#ff8000"/><rect x="727" y="152" width="1" height="18" fill="#000"/><rect x="726" y="153" width="3" height="16" fill="#000"/><rect x="727" y="154" width="1" height="14" fill="#00c000"/><rect x="729" y="130" width="1" height="24" fill="#000"/><rect x="728" y="134" width="3" height="19" fill="#000"/><rect x="729" y="135" width="1" height="17" fill="#00c000"/><rect x="732" y="130" width="1" height="22" fill="#000"/><rect x="731" y="132" width="3" height="3" fill="#000"/><rect x="732" y="133" width="1" height="1" fill="#00c000"/><rect x="734" y="131" width="1" height="34" fill="#000"/><rect x="733" y="134" width="3" height="16" fill="#000"/><rect x="734" y="135" width="1" height="14" fill="#ff8000"/><rect x="737" y="135" width="1" height="27" fill="#000"/><rect x="736" y="140" width="3" height="10" fill="#000"/><rect x="737" y="141" width="1" height="8" fill="#00c000"/><rect x="739" y="140" width="1" height="22" fill="#000"/><rect x="738" y="141" width="3" height="4" fill="#000"/><rect x="739" y="142" width="1" height="2" fill="#ff8000"/><rect x="742" y="125" width="1" height="31" fill="#000"/><rect x="741" y="127" width="3" height="16" fill="#000"/><rect x="742" y="128" width="1" height="14" fill="#00c000"/><rect x="745" y="100" width="1" height="27" fill="#000"/><rect x="744" y="101" width="3" height="25" fill="#000"/><rect x="745" y="102" width="1" height="23" fill="#00c000"/><rect x="748" y="97" width="1" height="21" fill="#000"/><rect x="747" y="102" width="3" height="14" fill="#000"/><rect x="748" y="103" width="1" height="12" fill="#ff8000"/><rect x="750" y="113" width="1" height="22" fill="#000"/><rect x="749" y="115" width="3" height="14" fill="#000"/><rect x="750" y="116" width="1" height="12" fill="#ff8000"/><rect x="753" y="122" width="1" height="14" fill="#000"/><rect x="752" y="122" width="3" height="10" fill="#000"/><rect x="753" y="123" width="1" height="8" fill="#00c000"/><rect x="755" y="111" width="1" height="19" fill="#000"/><rect x="754" y="120" width="3" height="3" fill="#000"/><rect x="755" y="121" width="1" height="1" fill="#00c000"/><rect x="758" y="115" width="1" height="30" fill="#000"/><rect x="757" y="120" width="3" height="23" fill="#000"/><rect x="758" y="121" width="1" height="21" fill="#ff8000"/><rect x="761" y="130" width="1" height="19" fill="#000"/><rect x="760" y="132" width="3" height="11" fill="#000"/><rect x="761" y="133" width="1" height="9" fill="#00c000"/><rect x="764" y="115" width="1" height="35" fill="#000"/><rect x="763" y="128" width="3" height="20" fill="#000"/><rect x="764" y="129" width="1" height="18" fill="#ff8000"/><rect x="766" y="145" width="1" height="16" fill="#000"/><rect x="765" y="147" width="3" height="11" fill="#000"/><rect x="766" y="148" width="1" height="9" fill="#ff8000"/><rect x="769" y="149" width="1" height="24" fill="#000"/><rect x="768" y="150" width="3" height="10" fill="#000"/><rect x="769" y="151" width="1" height="8" fill="#ff8000"/><rect x="772" y="152" width="1" height="16" fill="#000"/><rect x="771" y="158" width="3" height="9" fill="#000"/><rect x="772" y="159" width="1" height="7" fill="#ff8000"/><rect x="774" y="161" width="1" height="16" fill="#000"/><rect x="773" y="165" width="3" height="3" fill="#000"/><rect x="774" y="166" width="1" height="1" fill="#ff8000"/><rect x="777" y="132" width="1" height="36" fill="#000"/><rect x="776" y="137" width="3" height="30" fill="#000"/><rect x="777" y="138" width="1" height="28" fill="#00c000"/><rect x="780" y="119" width="1" height="45" fill="#000"/><rect x="779" y="137" width="3" height="25" fill="#000"/><rect x="780" y="138" width="1" height="23" fill="#ff8000"/><rect x="782" y="159" width="1" height="27" fill="#000"/><rect x="781" y="160" width="3" height="17" fill="#000"/><rect x="782" y="161" width="1" height="15" fill="#ff8000"/><rect x="785" y="161" width="1" height="29" fill="#000"/><rect x="784" y="167" width="3" height="10" fill="#000"/><rect x="785" y="168" width="1" height="8" fill="#00c000"/><rect x="787" y="156" width="1" height="17" fill="#000"/><rect x="786" y="157" width="3" height="15" fill="#000"/><rect x="787" y="158" width="1" height="13" fill="#00c000"/><rect x="790" y="151" width="1" height="25" fill="#000"/><rect x="789" y="157" width="3" height="18" fill="#000"/><rect x="790" y="158" width="1" height="16" fill="#ff8000"/><rect x="792" y="179" width="1" height="27" fill="#000"/><rect x="791" y="181" width="3" height="16" fill="#000"/><rect x="792" y="182" width="1" height="14" fill="#ff8000"/><rect x="795" y="183" width="1" height="12" fill="#000"/><rect x="794" y="190" width="3" height="3" fill="#000"/><rect x="795" y="191" width="1" height="1" fill="#00c000"/><rect x="798" y="179" width="1" height="13" fill="#000"/><rect x="797" y="185" width="3" height="6" fill="#000"/><rect x="798" y="186" width="1" height="4" fill="#00c000"/><rect x="800" y="194" width="1" height="13" fill="#000"/><rect x="799" y="196" width="3" height="8" fill="#000"/><rect x="800" y="197" width="1" height="6" fill="#ff8000"/><rect x="803" y="198" width="1" height="15" fill="#000"/><rect x="802" y="201" width="3" height="6" fill="#000"/><rect x="803" y="202" width="1" height="4" fill="#00c000"/><rect x="806" y="192" width="1" height="16" fill="#000"/><rect x="805" y="198" width="3" height="6" fill="#000"/><rect x="806" y="199" width="1" height="4" fill="#ff8000"/><rect x="808" y="206" width="1" height="15" fill="#000"/><rect x="807" y="208" width="3" height="11" fill="#000"/><rect x="808" y="209" width="1" height="9" fill="#ff8000"/><rect x="811" y="222" width="1" height="17" fill="#000"/><rect x="810" y="225" width="3" height="9" fill="#000"/><rect x="811" y="226" width="1" height="7" fill="#ff8000"/><rect x="814" y="204" width="1" height="24" fill="#000"/><rect x="813" y="205" width="3" height="22" fill="#000"/><rect x="814" y="206" width="1" height="20" fill="#00c000"/><rect x="817" y="190" width="1" height="15" fill="#000"/><rect x="816" y="196" width="3" height="8" fill="#000"/><rect x="817" y="197" width="1" height="6" fill="#00c000"/><rect x="819" y="191" width="1" height="12" fill="#000"/><rect x="818" y="196" width="3" height="3" fill="#000"/><rect x="819" y="197" width="1" height="1" fill="#00c000"/><rect x="822" y="165" width="1" height="28" fill="#000"/><rect x="821" y="179" width="3" height="14" fill="#000"/><rect x="822" y="180" width="1" height="12" fill="#00c000"/><rect x="825" y="175" width="1" height="20" fill="#000"/><rect x="824" y="180" width="3" height="13" fill="#000"/><rect x="825" y="181" width="1" height="11" fill="#ff8000"/><rect x="827" y="172" width="1" height="23" fill="#000"/><rect x="826" y="186" width="3" height="7" fill="#000"/><rect x="827" y="187" width="1" height="5" fill="#ff8000"/><rect x="830" y="181" width="1" height="19" fill="#000"/><rect x="829" y="183" width="3" height="9" fill="#000"/><rect x="830" y="184" width="1" height="7" fill="#00c000"/><rect x="832" y="167" width="1" height="26" fill="#000"/><rect x="831" y="183" width="3" height="10" fill="#000"/><rect x="832" y="184" width="1" height="8" fill="#ff8000"/><rect x="835" y="210" width="1" height="30" fill="#000"/><rect x="834" y="211" width="3" height="27" fill="#000"/><rect x="835" y="212" width="1" height="25" fill="#ff8000"/><rect x="838" y="228" width="1" height="36" fill="#000"/><rect x="837" y="234" width="3" height="27" fill="#000"/><rect x="838" y="235" width="1" height="25" fill="#ff8000"/><rect x="840" y="240" width="1" height="23" fill="#000"/><rect x="839" y="243" width="3" height="18" fill="#000"/><rect x="840" y="244" width="1" height="16" fill="#00c000"/><rect x="843" y="232" width="1" height="13" fill="#000"/><rect x="842" y="239" width="3" height="4" fill="#000"/><rect x="843" y="240" width="1" height="2" fill="#ff8000"/><rect x="845" y="243" width="1" height="26" fill="#000"/><rect x="844" y="245" width="3" height="22" fill="#000"/><rect x="845" y="246" width="1" height="20" fill="#ff8000"/><rect x="848" y="243" width="1" height="44" fill="#000"/><rect x="847" y="260" width="3" height="25" fill="#000"/><rect x="848" y="261" width="1" height="23" fill="#ff8000"/><rect x="851" y="279" width="1" height="28" fill="#000"/><rect x="850" y="283" width="3" height="12" fill="#000"/><rect x="851" y="284" width="1" height="10" fill="#ff8000"/><rect x="853" y="285" width="1" height="28" fill="#000"/><rect x="852" y="287" width="3" height="8" fill="#000"/><rect x="853" y="288" width="1" height="6" fill="#00c000"/><rect x="856" y="271" width="1" height="32" fill="#000"/><rect x="855" y="272" width="3" height="19" fill="#000"/><rect x="856" y="273" width="1" height="17" fill="#00c000"/><rect x="859" y="266" width="1" height="9" fill="#000"/><rect x="858" y="267" width="3" height="6" fill="#000"/><rect x="859" y="268" width="1" height="4" fill="#00c000"/><rect x="862" y="265" width="1" height="21" fill="#000"/><rect x="861" y="275" width="3" height="10" fill="#000"/><rect x="862" y="276" width="1" height="8" fill="#ff8000"/><rect x="864" y="274" width="1" height="12" fill="#000"/><rect x="863" y="282" width="3" height="3" fill="#000"/><rect x="864" y="283" width="1" height="1" fill="#00c000"/><rect x="867" y="281" width="1" height="14" fill="#000"/><rect x="866" y="283" width="3" height="11" fill="#000"/><rect x="867" y="284" width="1" height="9" fill="#ff8000"/><rect x="870" y="268" width="1" height="31" fill="#000"/><rect x="869" y="285" width="3" height="10" fill="#000"/><rect x="870" y="286" width="1" height="8" fill="#00c000"/><rect x="872" y="281" width="1" height="21" fill="#000"/><rect x="871" y="287" width="3" height="13" fill="#000"/><rect x="872" y="288" width="1" height="11" fill="#ff8000"/><rect x="875" y="281" width="1" height="32" fill="#000"/><rect x="874" y="295" width="3" height="12" fill="#000"/><rect x="875" y="296" width="1" height="10" fill="#ff8000"/><rect x="878" y="286" width="1" height="22" fill="#000"/><rect x="877" y="288" width="3" height="18" fill="#000"/><rect x="878" y="289" width="1" height="16" fill="#00c000"/><rect x="880" y="278" width="1" height="22" fill="#000"/><rect x="879" y="284" width="3" height="6" fill="#000"/><rect x="880" y="285" width="1" height="4" fill="#00c000"/><rect x="883" y="282" width="1" height="43" fill="#000"/><rect x="882" y="284" width="3" height="36" fill="#000"/><rect x="883" y="285" width="1" height="34" fill="#ff8000"/><rect x="885" y="325" width="1" height="19" fill="#000"/><rect x="884" y="327" width="3" height="14" fill="#000"/><rect x="885" y="328" width="1" height="12" fill="#ff8000"/><rect x="888" y="344" width="1" height="44" fill="#000"/><rect x="887" y="347" width="3" height="30" fill="#000"/><rect x="888" y="348" width="1" height="28" fill="#ff8000"/></g>
<g shape-rendering="crispEdges"><rect x="2" y="698" width="2" height="28" fill="#ff8000"/><rect x="4" y="698" width="3" height="27" fill="#ff8000"/><rect x="7" y="698" width="2" height="27" fill="#008000"/><rect x="9" y="698" width="3" height="27" fill="#ff8000"/><rect x="12" y="698" width="3" height="26" fill="#ff8000"/><rect x="15" y="698" width="2" height="26" fill="#ff8000"/><rect x="17" y="698" width="3" height="26" fill="#008000"/><rect x="20" y="698" width="3" height="25" fill="#008000"/><rect x="23" y="698" width="2" height="24" fill="#008000"/><rect x="25" y="698" width="3" height="23" fill="#008000"/><rect x="28" y="698" width="3" height="21" fill="#008000"/><rect x="31" y="698" width="2" height="13" fill="#008000"/><rect x="33" y="698" width="3" height="7" fill="#008000"/><rect x="36" y="698" width="3" height="2" fill="#008000"/><rect x="39" y="697" width="2" height="2" fill="#008000"/><rect x="41" y="694" width="2" height="5" fill="#008000"/><rect x="43" y="688" width="3" height="11" fill="#008000"/><rect x="46" y="685" width="3" height="14" fill="#008000"/><rect x="49" y="683" width="2" height="16" fill="#008000"/><rect x="51" y="681" width="3" height="18" fill="#008000"/><rect x="54" y="680" width="3" height="19" fill="#008000"/><rect x="57" y="676" width="3" height="23" fill="#008000"/><rect x="60" y="673" width="2" height="26" fill="#008000"/><rect x="62" y="671" width="3" height="28" fill="#008000"/><rect x="65" y="670" width="3" height="29" fill="#008000"/><rect x="68" y="670" width="2" height="29" fill="#008000"/><rect x="70" y="670" width="3" height="29" fill="#ff8000"/><rect x="73" y="668" width="3" height="31" fill="#008000"/><rect x="76" y="668" width="2" height="31" fill="#008000"/><rect x="78" y="668" width="3" height="31" fill="#008000"/><rect x="81" y="669" width="3" height="30" fill="#ff8000"/><rect x="84" y="669" width="2" height="30" fill="#ff8000"/><rect x="86" y="665" width="3" height="34" fill="#008000"/><rect x="89" y="665" width="3" height="34" fill="#008000"/><rect x="92" y="658" width="2" height="41" fill="#008000"/><rect x="94" y="657" width="3" height="42" fill="#008000"/><rect x="97" y="657" width="2" height="42" fill="#008000"/><rect x="99" y="658" width="3" height="41" fill="#ff8000"/><rect x="102" y="661" width="3" height="38" fill="#ff8000"/><rect x="105" y="662" width="2" height="37" fill="#ff8000"/><rect x="107" y="662" width="3" height="37" fill="#008000"/><rect x="110" y="661" width="3" height="38" fill="#ff8000"/><rect x="113" y="661" width="2" height="38" fill="#008000"/><rect x="115" y="662" width="3" height="37" fill="#008000"/><rect x="118" y="664" width="3" height="35" fill="#ff8000"/><rect x="121" y="665" width="2" height="34" fill="#ff8000"/><rect x="123" y="668" width="3" height="31" fill="#ff8000"/><rect x="126" y="665" width="3" height="34" fill="#ff8000"/><rect x="129" y="664" width="2" height="35" fill="#008000"/><rect x="131" y="664" width="3" height="35" fill="#008000"/><rect x="134" y="663" width="3" height="36" fill="#008000"/><rect x="137" y="663" width="2" height="36" fill="#008000"/><rect x="139" y="663" width="3" height="36" fill="#008000"/><rect x="142" y="661" width="3" height="38" fill="#008000"/><rect x="145" y="661" width="2" height="38" fill="#008000"/><rect x="147" y="668" width="3" height="31" fill="#ff8000"/><rect x="150" y="668" width="2" height="31" fill="#ff8000"/><rect x="152" y="670" width="3" height="29" fill="#008000"/><rect x="155" y="669" width="2" height="30" fill="#008000"/><rect x="157" y="669" width="3" height="30" fill="#008000"/><rect x="160" y="668" width="3" height="31" fill="#008000"/><rect x="163" y="667" width="3" height="32" fill="#008000"/><rect x="166" y="669" width="2" height="30" fill="#ff8000"/><rect x="168" y="671" width="3" height="28" fill="#ff8000"/><rect x="171" y="672" width="3" height="27" fill="#ff8000"/><rect x="174" y="677" width="2" height="22" fill="#ff8000"/><rect x="176" y="687" width="3" height="12" fill="#ff8000"/><rect x="179" y="693" width="3" height="6" fill="#ff8000"/><rect x="182" y="696" width="2" height="3" fill="#ff8000"/><rect x="184" y="697" width="3" height="2" fill="#ff8000"/><rect x="187" y="698" width="3" height="8" fill="#ff8000"/><rect x="190" y="698" width="2" height="12" fill="#ff8000"/><rect x="192" y="698" width="3" height="15" fill="#ff8000"/><rect x="195" y="698" width="3" height="16" fill="#ff8000"/><rect x="198" y="698" width="2" height="16" fill="#008000"/><rect x="200" y="698" width="3" height="17" fill="#ff8000"/><rect x="203" y="698" width="2" height="18" fill="#ff8000"/><rect x="205" y="698" width="3" height="19" fill="#ff8000"/><rect x="208" y="698" width="3" height="21" fill="#ff8000"/><rect x="211" y="698" width="2" height="22" fill="#ff8000"/><rect x="213" y="698" width="3" height="24" fill="#008000"/><rect x="216" y="698" width="2" height="25" fill="#ff8000"/><rect x="218" y="698" width="3" height="26" fill="#008000"/><rect x="221" y="698" width="3" height="27" fill="#ff8000"/><rect x="224" y="698" width="3" height="28" fill="#ff8000"/><rect x="227" y="698" width="2" height="29" fill="#ff8000"/><rect x="229" y="698" width="3" height="29" fill="#008000"/><rect x="232" y="698" width="3" height="28" fill="#008000"/><rect x="235" y="698" width="2" height="28" fill="#ff8000"/><rect x="237" y="698" width="3" height="28" fill="#ff8000"/><rect x="240" y="698" width="3" height="29" fill="#ff8000"/><rect x="243" y="698" width="2" height="30" fill="#ff8000"/><rect x="245" y="698" width="3" height="30" fill="#008000"/><rect x="248" y="698" width="3" height="30" fill="#008000"/><rect x="251" y="698" width="2" height="32" fill="#ff8000"/><rect x="253" y="698" width="3" height="36" fill="#ff8000"/><rect x="256" y="698" width="2" height="38" fill="#ff8000"/><rect x="258" y="698" width="3" height="41" fill="#ff8000"/><rect x="261" y="698" width="3" height="43" fill="#ff8000"/><rect x="264" y="698" width="2" height="45" fill="#ff8000"/><rect x="266" y="698" width="3" height="46" fill="#008000"/><rect x="269" y="698" width="2" height="45" fill="#ff8000"/><rect x="271" y="698" width="3" height="47" fill="#ff8000"/><rect x="274" y="698" width="3" height="51" fill="#ff8000"/><rect x="277" y="698" width="3" height="56" fill="#ff8000"/><rect x="280" y="698" width="2" height="58" fill="#ff8000"/><rect x="282" y="698" width="3" height="62" fill="#ff8000"/><rect x="285" y="698" width="2" height="65" fill="#ff8000"/><rect x="287" y="698" width="3" height="71" fill="#ff8000"/><rect x="290" y="698" width="3" height="72" fill="#008000"/><rect x="293" y="698" width="3" height="73" fill="#ff8000"/><rect x="296" y="698" width="2" height="72" fill="#008000"/><rect x="298" y="698" width="3" height="71" fill="#008000"/><rect x="301" y="698" width="3" height="68" fill="#008000"/><rect x="304" y="698" width="2" height="64" fill="#008000"/><rect x="306" y="698" width="3" height="57" fill="#008000"/><rect x="309" y="698" width="2" height="53" fill="#008000"/><rect x="311" y="698" width="3" height="48" fill="#008000"/><rect x="314" y="698" width="3" height="46" fill="#008000"/><rect x="317" y="698" width="2" height="44" fill="#008000"/><rect x="319" y="698" width="3" height="40" fill="#008000"/><rect x="322" y="698" width="3" height="35" fill="#008000"/><rect x="325" y="698" width="2" height="31" fill="#008000"/><rect x="327" y="698" width="3" height="25" fill="#008000"/><rect x="330" y="698" width="3" height="21" fill="#008000"/><rect x="333" y="698" width="2" height="16" fill="#008000"/><rect x="335" y="698" width="3" height="9" fill="#008000"/><rect x="338" y="698" width="3" height="1" fill="#008000"/><rect x="341" y="695" width="2" height="4" fill="#008000"/><rect x="343" y="693" width="3" height="6" fill="#008000"/><rect x="346" y="694" width="3" height="5" fill="#ff8000"/><rect x="349" y="695" width="2" height="4" fill="#ff8000"/><rect x="351" y="697" width="3" height="2" fill="#ff8000"/><rect x="354" y="698" width="3" height="1" fill="#008000"/><rect x="357" y="695" width="2" height="4" fill="#008000"/><rect x="359" y="694" width="3" height="5" fill="#ff8000"/><rect x="362" y="689" width="2" height="10" fill="#008000"/><rect x="364" y="683" width="3" height="16" fill="#008000"/><rect x="367" y="679" width="2" height="20" fill="#008000"/><rect x="369" y="673" width="3" height="26" fill="#008000"/><rect x="372" y="672" width="3" height="27" fill="#008000"/><rect x="375" y="670" width="3" height="29" fill="#008000"/><rect x="378" y="670" width="2" height="29" fill="#ff8000"/><rect x="380" y="670" width="3" height="29" fill="#ff8000"/><rect x="383" y="671" width="3" height="28" fill="#ff8000"/><rect x="386" y="673" width="3" height="26" fill="#ff8000"/><rect x="389" y="674" width="2" height="25" fill="#ff8000"/><rect x="391" y="674" width="3" height="25" fill="#008000"/><rect x="394" y="674" width="2" height="25" fill="#008000"/><rect x="396" y="673" width="3" height="26" fill="#008000"/><rect x="399" y="673" width="2" height="26" fill="#008000"/><rect x="401" y="674" width="3" height="25" fill="#ff8000"/><rect x="404" y="678" width="3" height="21" fill="#ff8000"/><rect x="407" y="683" width="3" height="16" fill="#ff8000"/><rect x="410" y="687" width="2" height="12" fill="#ff8000"/><rect x="412" y="692" width="3" height="7" fill="#ff8000"/><rect x="415" y="692" width="2" height="7" fill="#008000"/><rect x="417" y="691" width="3" height="8" fill="#008000"/><rect x="420" y="689" width="2" height="10" fill="#ff8000"/><rect x="422" y="690" width="3" height="9" fill="#008000"/><rect x="425" y="691" width="3" height="8" fill="#ff8000"/><rect x="428" y="690" width="3" height="9" fill="#008000"/><rect x="431" y="689" width="2" height="10" fill="#008000"/><rect x="433" y="687" width="2" height="12" fill="#008000"/><rect x="435" y="685" width="3" height="14" fill="#008000"/><rect x="438" y="683" width="3" height="16" fill="#008000"/><rect x="441" y="681" width="3" height="18" fill="#008000"/><rect x="444" y="678" width="3" height="21" fill="#008000"/><rect x="447" y="676" width="2" height="23" fill="#008000"/><rect x="449" y="675" width="3" height="24" fill="#ff8000"/><rect x="452" y="676" width="3" height="23" fill="#ff8000"/><rect x="455" y="676" width="2" height="23" fill="#ff8000"/><rect x="457" y="677" width="3" height="22" fill="#ff8000"/><rect x="460" y="679" width="3" height="20" fill="#ff8000"/><rect x="463" y="679" width="2" height="20" fill="#ff8000"/><rect x="465" y="680" width="3" height="19" fill="#ff8000"/><rect x="468" y="681" width="2" height="18" fill="#ff8000"/><rect x="470" y="682" width="3" height="17" fill="#ff8000"/><rect x="473" y="683" width="3" height="16" fill="#ff8000"/><rect x="476" y="684" width="2" height="15" fill="#ff8000"/><rect x="478" y="688" width="3" height="11" fill="#ff8000"/><rect x="481" y="690" width="3" height="9" fill="#ff8000"/><rect x="484" y="691" width="2" height="8" fill="#ff8000"/><rect x="486" y="692" width="3" height="7" fill="#ff8000"/><rect x="489" y="692" width="2" height="7" fill="#ff8000"/><rect x="491" y="691" width="3" height="8" fill="#008000"/><rect x="494" y="688" width="3" height="11" fill="#008000"/><rect x="497" y="686" width="2" height="13" fill="#008000"/><rect x="499" y="684" width="3" height="15" fill="#008000"/><rect x="502" y="682" width="3" height="17" fill="#008000"/><rect x="505" y="676" width="3" height="23" fill="#008000"/><rect x="508" y="674" width="2" height="25" fill="#008000"/><rect x="510" y="671" width="3" height="28" fill="#008000"/><rect x="513" y="669" width="2" height="30" fill="#008000"/><rect x="515" y="669" width="3" height="30" fill="#ff8000"/><rect x="518" y="671" width="3" height="28" fill="#ff8000"/><rect x="521" y="672" width="2" height="27" fill="#ff8000"/><rect x="523" y="674" width="3" height="25" fill="#ff8000"/><rect x="526" y="677" width="3" height="22" fill="#ff8000"/><rect x="529" y="681" width="2" height="18" fill="#ff8000"/><rect x="531" y="687" width="3" height="12" fill="#ff8000"/><rect x="534" y="689" width="3" height="10" fill="#ff8000"/><rect x="537" y="689" width="2" height="10" fill="#008000"/><rect x="539" y="689" width="2" height="10" fill="#ff8000"/><rect x="541" y="690" width="3" height="9" fill="#ff8000"/><rect x="544" y="691" width="3" height="8" fill="#ff8000"/><rect x="547" y="692" width="3" height="7" fill="#ff8000"/><rect x="550" y="693" width="2" height="6" fill="#ff8000"/><rect x="552" y="694" width="3" height="5" fill="#ff8000"/><rect x="555" y="695" width="3" height="4" fill="#ff8000"/><rect x="558" y="696" width="2" height="3" fill="#ff8000"/><rect x="560" y="697" width="3" height="2" fill="#ff8000"/><rect x="563" y="698" width="3" height="4" fill="#ff8000"/><rect x="566" y="698" width="2" height="4" fill="#ff8000"/><rect x="568" y="698" width="3" height="4" fill="#008000"/><rect x="571" y="698" width="2" height="3" fill="#ff8000"/><rect x="573" y="698" width="3" height="3" fill="#ff8000"/><rect x="576" y="698" width="3" height="2" fill="#ff8000"/><rect x="579" y="698" width="2" height="2" fill="#ff8000"/><rect x="581" y="698" width="3" height="3" fill="#ff8000"/><rect x="584" y="698" width="3" height="5" fill="#ff8000"/><rect x="587" y="698" width="3" height="7" fill="#ff8000"/><rect x="590" y="698" width="2" height="9" fill="#ff8000"/><rect x="592" y="698" width="3" height="12" fill="#ff8000"/><rect x="595" y="698" width="3" height="14" fill="#ff8000"/><rect x="598" y="698" width="2" height="14" fill="#008000"/><rect x="600" y="698" width="3" height="14" fill="#008000"/><rect x="603" y="698" width="2" height="14" fill="#008000"/><rect x="605" y="698" width="3" height="14" fill="#ff8000"/><rect x="608" y="698" width="3" height="15" fill="#ff8000"/><rect x="611" y="698" width="3" height="16" fill="#ff8000"/><rect x="614" y="698" width="2" height="17" fill="#ff8000"/><rect x="616" y="698" width="3" height="21" fill="#ff8000"/><rect x="619" y="698" width="2" height="23" fill="#ff8000"/><rect x="621" y="698" width="3" height="27" fill="#ff8000"/><rect x="624" y="698" width="3" height="28" fill="#ff8000"/><rect x="627" y="698" width="2" height="27" fill="#008000"/><rect x="629" y="698" width="2" height="26" fill="#008000"/><rect x="631" y="698" width="2" height="25" fill="#008000"/><rect x="633" y="698" width="2" height="23" fill="#008000"/><rect x="635" y="698" width="3" height="21" fill="#008000"/><rect x="638" y="698" width="2" height="20" fill="#008000"/><rect x="640" y="698" width="3" height="18" fill="#008000"/><rect x="643" y="698" width="2" height="17" fill="#008000"/><rect x="645" y="698" width="3" height="17" fill="#ff8000"/><rect x="648" y="698" width="3" height="17" fill="#008000"/><rect x="651" y="698" width="2" height="16" fill="#008000"/><rect x="653" y="698" width="3" height="13" fill="#008000"/><rect x="656" y="698" width="2" height="10" fill="#008000"/><rect x="658" y="698" width="3" height="7" fill="#008000"/><rect x="661" y="698" width="2" height="4" fill="#008000"/><rect x="663" y="696" width="3" height="3" fill="#008000"/><rect x="666" y="693" width="2" height="6" fill="#008000"/><rect x="668" y="690" width="3" height="9" fill="#008000"/><rect x="671" y="688" width="2" height="11" fill="#008000"/><rect x="673" y="686" width="2" height="13" fill="#008000"/><rect x="675" y="685" width="2" height="14" fill="#008000"/><rect x="677" y="682" width="3" height="17" fill="#008000"/><rect x="680" y="680" width="2" height="19" fill="#008000"/><rect x="682" y="678" width="3" height="21" fill="#008000"/><rect x="685" y="676" width="2" height="23" fill="#008000"/><rect x="687" y="674" width="3" height="25" fill="#008000"/><rect x="690" y="674" width="3" height="25" fill="#008000"/><rect x="693" y="675" width="2" height="24" fill="#ff8000"/><rect x="695" y="676" width="3" height="23" fill="#ff8000"/><rect x="698" y="676" width="3" height="23" fill="#ff8000"/><rect x="701" y="676" width="2" height="23" fill="#ff8000"/><rect x="703" y="677" width="3" height="22" fill="#ff8000"/><rect x="706" y="673" width="3" height="26" fill="#008000"/><rect x="709" y="672" width="3" height="27" fill="#008000"/><rect x="712" y="671" width="2" height="28" fill="#008000"/><rect x="714" y="670" width="3" height="29" fill="#008000"/><rect x="717" y="669" width="3" height="30" fill="#008000"/><rect x="720" y="669" width="2" height="30" fill="#008000"/><rect x="722" y="669" width="3" height="30" fill="#ff8000"/><rect x="725" y="666" width="3" height="33" fill="#008000"/><rect x="728" y="666" width="2" height="33" fill="#008000"/><rect x="730" y="666" width="3" height="33" fill="#008000"/><rect x="733" y="667" width="2" height="32" fill="#ff8000"/><rect x="735" y="667" width="3" height="32" fill="#ff8000"/><rect x="738" y="667" width="2" height="32" fill="#ff8000"/><rect x="740" y="666" width="3" height="33" fill="#008000"/><rect x="743" y="666" width="3" height="33" fill="#008000"/><rect x="746" y="666" width="3" height="33" fill="#008000"/><rect x="749" y="667" width="2" height="32" fill="#ff8000"/><rect x="751" y="668" width="3" height="31" fill="#ff8000"/><rect x="754" y="670" width="2" height="29" fill="#ff8000"/><rect x="756" y="672" width="3" height="27" fill="#ff8000"/><rect x="759" y="674" width="3" height="25" fill="#ff8000"/><rect x="762" y="677" width="3" height="22" fill="#ff8000"/><rect x="765" y="679" width="2" height="20" fill="#ff8000"/><rect x="767" y="682" width="3" height="17" fill="#ff8000"/><rect x="770" y="685" width="3" height="14" fill="#ff8000"/><rect x="773" y="687" width="2" height="12" fill="#ff8000"/><rect x="775" y="688" width="3" height="11" fill="#008000"/><rect x="778" y="689" width="3" height="10" fill="#ff8000"/><rect x="781" y="690" width="2" height="9" fill="#ff8000"/><rect x="783" y="693" width="3" height="6" fill="#ff8000"/><rect x="786" y="695" width="2" height="4" fill="#ff8000"/><rect x="788" y="696" width="3" height="3" fill="#ff8000"/><rect x="791" y="697" width="2" height="2" fill="#ff8000"/><rect x="793" y="698" width="3" height="3" fill="#ff8000"/><rect x="796" y="698" width="3" height="4" fill="#ff8000"/><rect x="799" y="698" width="2" height="5" fill="#ff8000"/><rect x="801" y="698" width="3" height="7" fill="#ff8000"/><rect x="804" y="698" width="3" height="9" fill="#ff8000"/><rect x="807" y="698" width="2" height="11" fill="#ff8000"/><rect x="809" y="698" width="3" height="13" fill="#ff8000"/><rect x="812" y="698" width="3" height="13" fill="#008000"/><rect x="815" y="698" width="3" height="12" fill="#008000"/><rect x="818" y="698" width="2" height="11" fill="#008000"/><rect x="820" y="698" width="3" height="10" fill="#008000"/><rect x="823" y="698" width="3" height="9" fill="#008000"/><rect x="826" y="698" width="2" height="8" fill="#008000"/><rect x="828" y="698" width="3" height="7" fill="#008000"/><rect x="831" y="698" width="2" height="7" fill="#008000"/><rect x="833" y="698" width="3" height="10" fill="#ff8000"/><rect x="836" y="698" width="3" height="14" fill="#ff8000"/><rect x="839" y="698" width="2" height="15" fill="#ff8000"/><rect x="841" y="698" width="3" height="17" fill="#ff8000"/><rect x="844" y="698" width="2" height="19" fill="#ff8000"/><rect x="846" y="698" width="3" height="22" fill="#ff8000"/><rect x="849" y="698" width="3" height="25" fill="#ff8000"/><rect x="852" y="698" width="2" height="27" fill="#ff8000"/><rect x="854" y="698" width="3" height="28" fill="#008000"/><rect x="857" y="698" width="3" height="28" fill="#008000"/><rect x="860" y="698" width="3" height="27" fill="#ff8000"/><rect x="863" y="698" width="2" height="27" fill="#008000"/><rect x="865" y="698" width="3" height="27" fill="#ff8000"/><rect x="868" y="698" width="3" height="27" fill="#008000"/><rect x="871" y="698" width="2" height="26" fill="#ff8000"/><rect x="873" y="698" width="3" height="25" fill="#ff8000"/><rect x="876" y="698" width="3" height="25" fill="#008000"/><rect x="879" y="698" width="2" height="26" fill="#008000"/><rect x="881" y="698" width="3" height="27" fill="#ff8000"/><rect x="884" y="698" width="2" height="29" fill="#ff8000"/><rect x="886" y="698" width="4" height="33" fill="#ff8000"/></g>
<path d="M2.0,711.0 C3.3,712.2 6.8,716.2 9.7,718.0 C12.6,719.8 16.1,720.9 19.5,721.5 C22.9,722.1 26.9,723.1 30.2,721.5 C33.5,719.9 35.6,715.8 39.0,712.0 C42.4,708.2 46.8,702.7 50.7,698.5 C54.6,694.3 59.1,690.0 62.4,686.8 C65.7,683.5 67.6,681.1 70.2,679.0 C72.8,676.9 75.1,675.6 78.0,674.1 C80.9,672.6 84.8,671.7 87.7,670.2 C90.6,668.7 93.2,666.7 95.5,665.3 C97.8,663.9 99.1,662.3 101.4,661.8 C103.7,661.3 105.3,662.2 109.2,662.4 C113.1,662.6 120.9,662.7 124.8,663.0 C128.7,663.3 129.4,664.1 132.6,664.4 C135.8,664.7 140.6,664.4 144.2,665.0 C147.8,665.6 150.1,667.8 154.0,668.3 C157.9,668.8 164.0,667.5 167.6,668.3 C171.2,669.1 172.8,670.7 175.4,673.1 C178.0,675.5 180.6,679.6 183.2,682.9 C185.8,686.1 188.4,689.4 191.0,692.6 C193.6,695.9 196.2,699.5 198.8,702.4 C201.4,705.3 204.0,708.1 206.6,710.2 C209.2,712.3 211.8,713.5 214.4,715.0 C217.0,716.5 219.3,717.8 222.2,718.9 C225.1,720.0 227.8,720.9 231.7,721.9 C235.5,722.9 241.4,724.1 245.3,724.8 C249.2,725.4 251.4,724.0 255.0,725.8 C258.6,727.6 262.9,732.8 266.8,735.5 C270.7,738.2 274.9,739.0 278.5,742.3 C282.1,745.5 284.9,751.4 288.2,755.0 C291.4,758.6 295.4,762.4 298.0,763.8 C300.6,765.2 301.2,764.7 303.8,763.2 C306.4,761.7 310.0,758.6 313.6,755.0 C317.2,751.4 321.4,746.6 325.3,741.4 C329.2,736.2 333.8,728.7 337.0,723.8 C340.2,718.9 342.2,715.4 344.8,712.1 C347.4,708.9 350.0,706.2 352.6,704.3 C355.2,702.3 357.8,702.0 360.4,700.4 C363.0,698.8 365.6,697.2 368.2,694.6 C370.8,692.0 373.4,687.6 376.0,684.8 C378.6,682.0 381.1,679.5 383.7,678.0 C386.3,676.5 388.4,676.6 391.5,676.1 C394.6,675.6 399.1,674.3 402.3,675.1 C405.6,675.9 408.2,679.2 411.0,681.0 C413.8,682.8 416.2,684.7 418.8,685.8 C421.4,686.9 424.0,687.6 426.6,687.8 C429.2,688.0 431.8,687.6 434.4,686.8 C437.0,686.0 439.3,684.2 442.2,682.9 C445.1,681.6 448.8,679.7 451.7,679.0 C454.6,678.3 456.6,678.4 459.5,678.6 C462.4,678.8 465.9,679.2 469.2,680.0 C472.4,680.8 475.8,682.0 479.0,683.3 C482.2,684.6 485.9,686.7 488.7,687.8 C491.5,688.9 492.7,690.2 495.6,689.7 C498.5,689.2 503.2,686.6 506.3,684.8 C509.4,683.0 511.5,680.7 514.1,679.0 C516.7,677.3 519.3,675.2 521.9,674.7 C524.5,674.2 527.1,674.9 529.7,676.1 C532.3,677.3 534.6,680.1 537.5,681.9 C540.4,683.7 544.0,685.3 547.2,686.8 C550.5,688.3 554.1,689.5 557.0,691.0 C559.9,692.5 562.5,694.4 564.8,695.6 C567.1,696.9 568.0,697.9 570.6,698.5 C573.2,699.1 577.1,698.9 580.4,699.5 C583.6,700.1 586.9,701.1 590.1,702.4 C593.3,703.7 596.9,706.2 599.8,707.3 C602.7,708.4 604.7,708.2 607.6,709.2 C610.5,710.2 614.1,711.3 617.4,713.1 C620.6,714.9 623.9,718.9 627.1,719.9 C630.4,720.9 634.0,719.5 636.9,719.0 C639.8,718.5 642.1,717.5 644.7,717.0 C647.3,716.5 649.9,717.0 652.5,716.0 C655.1,715.0 657.8,713.2 660.3,711.2 C662.8,709.2 665.6,706.4 667.8,704.3 C670.0,702.2 671.6,700.6 673.6,698.5 C675.6,696.4 677.2,694.0 679.5,691.7 C681.8,689.4 685.0,686.6 687.3,684.8 C689.6,683.0 691.1,681.9 693.1,680.9 C695.1,679.9 696.7,679.1 699.0,678.6 C701.3,678.1 704.5,678.6 706.8,678.0 C709.1,677.4 710.0,676.1 712.6,675.1 C715.2,674.1 719.1,673.2 722.4,672.2 C725.6,671.2 728.9,669.8 732.1,669.2 C735.4,668.6 739.0,669.0 741.9,668.8 C744.8,668.6 747.1,667.8 749.7,667.9 C752.3,668.0 754.9,668.2 757.5,669.2 C760.1,670.2 762.4,672.3 765.3,674.1 C768.2,675.9 772.1,678.2 775.0,680.0 C777.9,681.8 779.9,682.8 782.8,684.8 C785.7,686.8 789.4,689.4 792.6,691.7 C795.9,694.0 799.4,696.7 802.3,698.5 C805.2,700.3 807.8,700.9 810.1,702.4 C812.4,703.9 813.4,706.5 816.0,707.3 C818.6,708.0 822.8,707.2 825.7,706.9 C828.6,706.6 831.2,705.1 833.5,705.3 C835.8,705.5 837.0,707.1 839.3,708.2 C841.6,709.3 844.5,710.2 847.1,711.7 C849.7,713.2 852.3,715.6 854.9,717.0 C857.5,718.4 860.1,719.0 862.7,719.9 C865.3,720.8 867.9,721.8 870.5,722.3 C873.1,722.8 875.5,722.6 878.3,722.8 C881.1,723.0 885.6,723.3 887.1,723.4" fill="none" stroke="#0000ff" stroke-width="1"/>
<g shape-rendering="crispEdges">
<rect x="1119.5" y="67.5" width="58" height="14" fill="#008000" stroke="#000" stroke-width="1"/>
<text x="1174" y="79" font-size="12.5" fill="#fff" text-anchor="end">1583.12</text>
<rect x="1119.5" y="90.5" width="58" height="14" fill="#ff0000" stroke="#000" stroke-width="1"/>
<text x="1174" y="102" font-size="12.5" fill="#fff" text-anchor="end">1566.73</text>
<rect x="1119.5" y="137.5" width="58" height="14" fill="#0000ff" stroke="#000" stroke-width="1"/>
<text x="1174" y="149" font-size="12.5" fill="#fff" text-anchor="end">1531.30</text>
<rect x="1119.5" y="126.5" width="58" height="14" fill="#008000" stroke="#000" stroke-width="1"/>
<text x="1174" y="138" font-size="12.5" fill="#fff" text-anchor="end">1539.70</text>
<rect x="1119.5" y="154.5" width="58" height="14" fill="#0000ff" stroke="#000" stroke-width="1"/>
<text x="1174" y="166" font-size="12.5" fill="#fff" text-anchor="end">1519.03</text>
<rect x="1119.5" y="167.5" width="58" height="14" fill="#0000ff" stroke="#000" stroke-width="1"/>
<text x="1174" y="179" font-size="12.5" fill="#fff" text-anchor="end">1509.57</text>
<rect x="1119.5" y="177.5" width="58" height="14" fill="#0000ff" stroke="#000" stroke-width="1"/>
<text x="1174" y="189" font-size="12.5" fill="#fff" text-anchor="end">1502.23</text>
<rect x="1119.5" y="193.5" width="58" height="14" fill="#0000ff" stroke="#000" stroke-width="1"/>
<text x="1174" y="205" font-size="12.5" fill="#fff" text-anchor="end">1490.02</text>
<rect x="1119.5" y="248.5" width="58" height="14" fill="#0000ff" stroke="#000" stroke-width="1"/>
<text x="1174" y="260" font-size="12.5" fill="#fff" text-anchor="end">1449.51</text>
<rect x="1119.5" y="229.5" width="58" height="14" fill="#ff0000" stroke="#000" stroke-width="1"/>
<text x="1174" y="241" font-size="12.5" fill="#fff" text-anchor="end">1463.69</text>
<rect x="1119.5" y="238.5" width="58" height="14" fill="#ff8040" stroke="#000" stroke-width="1"/>
<text x="1174" y="250" font-size="12.5" fill="#fff" text-anchor="end">1457.27</text>
<rect x="1119.5" y="209.5" width="58" height="14" fill="#0000ff" stroke="#000" stroke-width="1"/>
<text x="1174" y="221" font-size="12.5" fill="#fff" text-anchor="end">1478.31</text>
<rect x="1119.5" y="218.5" width="58" height="14" fill="#0000ff" stroke="#000" stroke-width="1"/>
<text x="1174" y="230" font-size="12.5" fill="#fff" text-anchor="end">1472.11</text>
<rect x="1119.5" y="266.5" width="58" height="14" fill="#ff0000" stroke="#000" stroke-width="1"/>
<text x="1174" y="278" font-size="12.5" fill="#fff" text-anchor="end">1436.20</text>
<rect x="1119.5" y="270.5" width="58" height="14" fill="#ff0000" stroke="#000" stroke-width="1"/>
<text x="1174" y="282" font-size="12.5" fill="#fff" text-anchor="end">1433.69</text>
<rect x="1119.5" y="317.5" width="58" height="14" fill="#ff0000" stroke="#000" stroke-width="1"/>
<text x="1174" y="329" font-size="12.5" fill="#fff" text-anchor="end">1398.65</text>
<rect x="1119.5" y="338.5" width="58" height="14" fill="#0000ff" stroke="#000" stroke-width="1"/>
<text x="1174" y="350" font-size="12.5" fill="#fff" text-anchor="end">1383.04</text>
<rect x="1119.5" y="416.5" width="58" height="14" fill="#0000ff" stroke="#000" stroke-width="1"/>
<text x="1174" y="428" font-size="12.5" fill="#fff" text-anchor="end">1325.23</text>
<rect x="1119.5" y="579.5" width="58" height="14" fill="#ff0000" stroke="#000" stroke-width="1"/>
<text x="1174" y="591" font-size="12.5" fill="#fff" text-anchor="end">1204.91</text>
</g>
<rect x="1119.5" y="369.5" width="58" height="14" fill="#000" stroke="#000" shape-rendering="crispEdges"/>
<text x="1174" y="381" font-size="12.5" fill="#fff" text-anchor="end">1359.69</text>
<path d="M1121 374h5.5l-2.75 5.5z" fill="#fff"/>
<text x="1174" y="483" font-size="12.5" fill="#000" text-anchor="end">1283.82</text>
<text x="1174" y="619" font-size="12.5" fill="#000" text-anchor="end">1183.82</text>
<text x="1158" y="635.2" font-size="12.5" fill="#000" text-anchor="end">50</text>
<text x="1158" y="668.8" font-size="12.5" fill="#000" text-anchor="end">25</text>
<text x="1158" y="702.4" font-size="12.5" fill="#000" text-anchor="end">0</text>
<text x="1158" y="770.7" font-size="12.5" fill="#000" text-anchor="end">-50</text>
<text x="1158" y="804.7" font-size="12.5" fill="#000" text-anchor="end">-75</text>
<g shape-rendering="crispEdges">
<rect x="1119.5" y="723.5" width="58" height="14" fill="#ff0000" stroke="#000"/>
<text x="1174" y="735.5" font-size="12.5" fill="#fff" text-anchor="end">-23.55</text>
<rect x="1119.5" y="717.5" width="58" height="14" fill="#0000ff" stroke="#000"/>
<text x="1174" y="729.5" font-size="12.5" fill="#fff" text-anchor="end">-19.74</text>
</g>
<text x="621" y="142" font-size="10.6" fill="#174f96">1541.68</text>
<text x="621" y="182" font-size="10.6" fill="#800080">0.786</text>
<text x="621" y="195" font-size="10.6" fill="#800080">1502.82</text>
<text x="621" y="223" font-size="10.6" fill="#800080">0.618</text>
<text x="621" y="236" font-size="10.6" fill="#800080">1472.31</text>
<text x="621" y="252" font-size="10.6" fill="#800080">0.500</text>
<text x="621" y="265" font-size="10.6" fill="#800080">1450.88</text>
<text x="621" y="281" font-size="10.6" fill="#800080">0.382</text>
<text x="621" y="294" font-size="10.6" fill="#800080">1429.45</text>
<text x="621" y="387" font-size="10.6" fill="#174f96">1360.07</text>
<text x="994" y="19" font-size="12.5" fill="#000">Powered by XTick</text>
<rect x="2" y="623" width="41" height="14" fill="#fff"/>
<rect x="43" y="624" width="2" height="15" fill="#777"/><rect x="4" y="637" width="41" height="2" fill="#777"/>
<text x="4.5" y="634" font-size="11.3" fill="#000">MACD</text>
<text x="4" y="829" font-size="12.5" fill="#000" clip-path="url(#xclip)">дек 16</text>
<text x="57" y="829" font-size="12.5" fill="#000" clip-path="url(#xclip)">16</text>
<text x="89" y="829" font-size="12.5" fill="#000" clip-path="url(#xclip)">фев 01</text>
<text x="142" y="829" font-size="12.5" fill="#000" clip-path="url(#xclip)">мар 01</text>
<text x="198" y="829" font-size="12.5" fill="#000" clip-path="url(#xclip)">апр 02</text>
<text x="254" y="829" font-size="12.5" fill="#000" clip-path="url(#xclip)">май 02</text>
<text x="313" y="829" font-size="12.5" fill="#000" clip-path="url(#xclip)">июн 01</text>
<text x="367" y="829" font-size="12.5" fill="#000" clip-path="url(#xclip)">июл 02</text>
<text x="425" y="829" font-size="12.5" fill="#000" clip-path="url(#xclip)">авг 01</text>
<text x="486" y="829" font-size="12.5" fill="#000" clip-path="url(#xclip)">сен 03</text>
<text x="539" y="829" font-size="12.5" fill="#000" clip-path="url(#xclip)">окт 01</text>
<text x="600" y="829" font-size="12.5" fill="#000" clip-path="url(#xclip)">ноя 01</text>
<text x="656" y="829" font-size="12.5" fill="#000" clip-path="url(#xclip)">дек 03</text>
<text x="709" y="829" font-size="12.5" fill="#000" clip-path="url(#xclip)">янв 08</text>
<text x="756" y="829" font-size="12.5" fill="#000" clip-path="url(#xclip)">фев 01</text>
<text x="809" y="829" font-size="12.5" fill="#000" clip-path="url(#xclip)">мар 01</text>
<text x="862" y="829" font-size="12.5" fill="#000" clip-path="url(#xclip)">апр 01</text>
<path d="M2 814h1v16h-1z M55 814h1v16h-1z M87 814h1v16h-1z M140 814h1v16h-1z M196 814h1v16h-1z M252 814h1v16h-1z M311 814h1v16h-1z M365 814h1v16h-1z M423 814h1v16h-1z M484 814h1v16h-1z M537 814h1v16h-1z M598 814h1v16h-1z M654 814h1v16h-1z M707 814h1v16h-1z M754 814h1v16h-1z M807 814h1v16h-1z M860 814h1v16h-1z" fill="#000"/>
<rect x="1118.5" y="815.5" width="19" height="13" fill="#fff" stroke="#000"/>
<rect x="1122" y="819.5" width="6" height="4" rx="2" fill="none" stroke="#666" stroke-width="1.5"/>
<rect x="1127" y="819.5" width="6" height="4" rx="2" fill="none" stroke="#666" stroke-width="1.5"/>
<rect x="1147" y="816" width="14" height="14" fill="#888"/>
<rect x="1146" y="815" width="14" height="14" fill="#cc0000"/>
<path d="M1148 821h5v-2.5l3.5 3.5l-3.5 3.5v-2.5h-5z" fill="#fff"/><rect x="1157" y="818" width="1.6" height="8" fill="#fff"/>
<text x="10.5" y="854" font-size="12" fill="#eeeeee" letter-spacing="0.8" style="font-family:'DejaVu Sans',sans-serif">Элитный Трейдер, ELITETRADER.RU</text>
<path d="M1064.5 840.5l-8.5 8.5h5v8h7v-8h5z" fill="#6cbf2a"/>
<rect x="1055" y="851" width="9" height="6" fill="#e0600f"/>
<text x="1077" y="854" font-size="14.5" font-weight="bold" fill="#ffffff" letter-spacing="-0.4">clip</text>
<circle cx="1107" cy="849" r="7.5" fill="#f0961c"/>
<text x="1107" y="854" font-size="13" font-weight="bold" fill="#fff" text-anchor="middle">2</text>
<text x="1115" y="854" font-size="14.5" font-weight="bold" fill="#ffffff" letter-spacing="-0.4">net</text>
<text x="1136" y="854" font-size="14.5" font-weight="bold" fill="#a0a0a0" letter-spacing="-0.4">.com</text>
</svg>
</body></html>
